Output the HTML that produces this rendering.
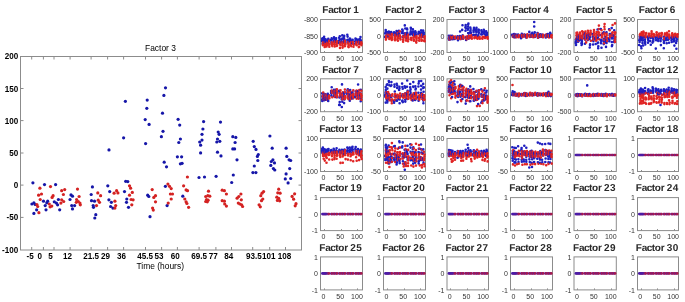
<!DOCTYPE html>
<html><head><meta charset="utf-8"><style>
body{margin:0;background:#fff;}
svg{display:block;filter:blur(0.4px);}
text{font-family:"Liberation Sans",sans-serif;}
.mb{font-size:8.7px;font-weight:bold;fill:#000;}
.mt{font-size:8.8px;fill:#000;}
.st{font-size:10.0px;text-rendering:geometricPrecision;font-weight:bold;fill:#2a2a2a;}
.sl{font-size:7.0px;fill:#333;}
path{stroke-width:2.6px;stroke-linecap:round;fill:none;}
.fb{stroke-width:2.7px;}
</style></head>
<body><svg width="685" height="302" viewBox="0 0 685 302">
<rect width="685" height="302" fill="#fff"/>
<rect x="20.5" y="56.5" width="281.0" height="193.5" fill="none" stroke="#8c8c8c" stroke-width="1"/>
<line x1="31.7" y1="250.0" x2="31.7" y2="247.0" stroke="#8c8c8c"/>
<line x1="31.7" y1="56.5" x2="31.7" y2="59.5" stroke="#8c8c8c"/>
<line x1="43.4" y1="250.0" x2="43.4" y2="247.0" stroke="#8c8c8c"/>
<line x1="43.4" y1="56.5" x2="43.4" y2="59.5" stroke="#8c8c8c"/>
<line x1="54" y1="250.0" x2="54" y2="247.0" stroke="#8c8c8c"/>
<line x1="54" y1="56.5" x2="54" y2="59.5" stroke="#8c8c8c"/>
<line x1="70.1" y1="250.0" x2="70.1" y2="247.0" stroke="#8c8c8c"/>
<line x1="70.1" y1="56.5" x2="70.1" y2="59.5" stroke="#8c8c8c"/>
<line x1="91.1" y1="250.0" x2="91.1" y2="247.0" stroke="#8c8c8c"/>
<line x1="91.1" y1="56.5" x2="91.1" y2="59.5" stroke="#8c8c8c"/>
<line x1="107.6" y1="250.0" x2="107.6" y2="247.0" stroke="#8c8c8c"/>
<line x1="107.6" y1="56.5" x2="107.6" y2="59.5" stroke="#8c8c8c"/>
<line x1="123.6" y1="250.0" x2="123.6" y2="247.0" stroke="#8c8c8c"/>
<line x1="123.6" y1="56.5" x2="123.6" y2="59.5" stroke="#8c8c8c"/>
<line x1="145.5" y1="250.0" x2="145.5" y2="247.0" stroke="#8c8c8c"/>
<line x1="145.5" y1="56.5" x2="145.5" y2="59.5" stroke="#8c8c8c"/>
<line x1="161.6" y1="250.0" x2="161.6" y2="247.0" stroke="#8c8c8c"/>
<line x1="161.6" y1="56.5" x2="161.6" y2="59.5" stroke="#8c8c8c"/>
<line x1="177.4" y1="250.0" x2="177.4" y2="247.0" stroke="#8c8c8c"/>
<line x1="177.4" y1="56.5" x2="177.4" y2="59.5" stroke="#8c8c8c"/>
<line x1="199.1" y1="250.0" x2="199.1" y2="247.0" stroke="#8c8c8c"/>
<line x1="199.1" y1="56.5" x2="199.1" y2="59.5" stroke="#8c8c8c"/>
<line x1="215.9" y1="250.0" x2="215.9" y2="247.0" stroke="#8c8c8c"/>
<line x1="215.9" y1="56.5" x2="215.9" y2="59.5" stroke="#8c8c8c"/>
<line x1="231.5" y1="250.0" x2="231.5" y2="247.0" stroke="#8c8c8c"/>
<line x1="231.5" y1="56.5" x2="231.5" y2="59.5" stroke="#8c8c8c"/>
<line x1="252.7" y1="250.0" x2="252.7" y2="247.0" stroke="#8c8c8c"/>
<line x1="252.7" y1="56.5" x2="252.7" y2="59.5" stroke="#8c8c8c"/>
<line x1="269.7" y1="250.0" x2="269.7" y2="247.0" stroke="#8c8c8c"/>
<line x1="269.7" y1="56.5" x2="269.7" y2="59.5" stroke="#8c8c8c"/>
<line x1="285.5" y1="250.0" x2="285.5" y2="247.0" stroke="#8c8c8c"/>
<line x1="285.5" y1="56.5" x2="285.5" y2="59.5" stroke="#8c8c8c"/>
<line x1="20.5" y1="88.5" x2="23.5" y2="88.5" stroke="#8c8c8c"/>
<line x1="301.5" y1="88.5" x2="298.5" y2="88.5" stroke="#8c8c8c"/>
<line x1="20.5" y1="120.6" x2="23.5" y2="120.6" stroke="#8c8c8c"/>
<line x1="301.5" y1="120.6" x2="298.5" y2="120.6" stroke="#8c8c8c"/>
<line x1="20.5" y1="153.0" x2="23.5" y2="153.0" stroke="#8c8c8c"/>
<line x1="301.5" y1="153.0" x2="298.5" y2="153.0" stroke="#8c8c8c"/>
<line x1="20.5" y1="185.1" x2="23.5" y2="185.1" stroke="#8c8c8c"/>
<line x1="301.5" y1="185.1" x2="298.5" y2="185.1" stroke="#8c8c8c"/>
<line x1="20.5" y1="217.4" x2="23.5" y2="217.4" stroke="#8c8c8c"/>
<line x1="301.5" y1="217.4" x2="298.5" y2="217.4" stroke="#8c8c8c"/>
<text transform="translate(18.20,59.10) scale(0.93,1)" class="mb" text-anchor="end">200</text>
<text transform="translate(18.20,91.50) scale(0.93,1)" class="mb" text-anchor="end">150</text>
<text transform="translate(18.20,123.60) scale(0.93,1)" class="mb" text-anchor="end">100</text>
<text transform="translate(18.20,156.00) scale(0.93,1)" class="mb" text-anchor="end">50</text>
<text transform="translate(18.20,188.10) scale(0.93,1)" class="mb" text-anchor="end">0</text>
<text transform="translate(18.20,220.40) scale(0.93,1)" class="mb" text-anchor="end">-50</text>
<text transform="translate(18.20,252.60) scale(0.93,1)" class="mb" text-anchor="end">-100</text>
<text transform="translate(30.20,259.00) scale(0.93,1)" class="mb" text-anchor="middle">-5</text>
<text transform="translate(39.70,259.00) scale(0.93,1)" class="mb" text-anchor="middle">0</text>
<text transform="translate(50.40,259.00) scale(0.93,1)" class="mb" text-anchor="middle">5</text>
<text transform="translate(67.60,259.00) scale(0.93,1)" class="mb" text-anchor="middle">12</text>
<text transform="translate(91.10,259.00) scale(0.93,1)" class="mb" text-anchor="middle">21.5</text>
<text transform="translate(105.40,259.00) scale(0.93,1)" class="mb" text-anchor="middle">29</text>
<text transform="translate(121.40,259.00) scale(0.93,1)" class="mb" text-anchor="middle">36</text>
<text transform="translate(145.10,259.00) scale(0.93,1)" class="mb" text-anchor="middle">45.5</text>
<text transform="translate(159.10,259.00) scale(0.93,1)" class="mb" text-anchor="middle">53</text>
<text transform="translate(175.20,259.00) scale(0.93,1)" class="mb" text-anchor="middle">60</text>
<text transform="translate(199.20,259.00) scale(0.93,1)" class="mb" text-anchor="middle">69.5</text>
<text transform="translate(213.30,259.00) scale(0.93,1)" class="mb" text-anchor="middle">77</text>
<text transform="translate(228.80,259.00) scale(0.93,1)" class="mb" text-anchor="middle">84</text>
<text transform="translate(253.80,259.00) scale(0.93,1)" class="mb" text-anchor="middle">93.5</text>
<text transform="translate(268.80,259.00) scale(0.93,1)" class="mb" text-anchor="middle">101</text>
<text transform="translate(284.40,259.00) scale(0.93,1)" class="mb" text-anchor="middle">108</text>
<text transform="translate(160.20,269.20) scale(0.96,1)" class="mt" text-anchor="middle">Time (hours)</text>
<text transform="translate(160.50,50.60) scale(0.96,1)" class="mt" text-anchor="middle">Factor 3</text>
<g fill="#1515a8">
<circle cx="32.9" cy="182.8" r="1.6"/>
<circle cx="44.5" cy="184.6" r="1.6"/>
<circle cx="55.6" cy="184.6" r="1.6"/>
<circle cx="31.9" cy="204" r="1.6"/>
<circle cx="33.9" cy="202.8" r="1.6"/>
<circle cx="35.2" cy="204.5" r="1.6"/>
<circle cx="43.5" cy="201.2" r="1.6"/>
<circle cx="46.8" cy="202.8" r="1.6"/>
<circle cx="45.2" cy="205.6" r="1.6"/>
<circle cx="47.7" cy="201.2" r="1.6"/>
<circle cx="54.3" cy="201.8" r="1.6"/>
<circle cx="56.4" cy="203.1" r="1.6"/>
<circle cx="58.4" cy="199.5" r="1.6"/>
<circle cx="57.6" cy="204.8" r="1.6"/>
<circle cx="36.6" cy="209.8" r="1.6"/>
<circle cx="33.9" cy="213.4" r="1.6"/>
<circle cx="46" cy="209.8" r="1.6"/>
<circle cx="59.7" cy="209.8" r="1.6"/>
<circle cx="71" cy="194.9" r="1.6"/>
<circle cx="72.5" cy="196.2" r="1.6"/>
<circle cx="70" cy="199.5" r="1.6"/>
<circle cx="71.7" cy="205.6" r="1.6"/>
<circle cx="74.6" cy="205.6" r="1.6"/>
<circle cx="72.5" cy="208.9" r="1.6"/>
<circle cx="92.4" cy="186.9" r="1.6"/>
<circle cx="91.2" cy="194.5" r="1.6"/>
<circle cx="91.5" cy="200.7" r="1.6"/>
<circle cx="94.5" cy="201.2" r="1.6"/>
<circle cx="93.2" cy="205.6" r="1.6"/>
<circle cx="93.5" cy="207.3" r="1.6"/>
<circle cx="95.8" cy="214.7" r="1.6"/>
<circle cx="94.8" cy="218" r="1.6"/>
<circle cx="107.8" cy="185.8" r="1.6"/>
<circle cx="109.7" cy="191.6" r="1.6"/>
<circle cx="108.9" cy="199.8" r="1.6"/>
<circle cx="111.4" cy="202.3" r="1.6"/>
<circle cx="110.6" cy="206.5" r="1.6"/>
<circle cx="112.9" cy="208.1" r="1.6"/>
<circle cx="125.7" cy="181.3" r="1.6"/>
<circle cx="127.8" cy="181.6" r="1.6"/>
<circle cx="124.5" cy="191.6" r="1.6"/>
<circle cx="126.8" cy="199" r="1.6"/>
<circle cx="126.5" cy="202.3" r="1.6"/>
<circle cx="128.5" cy="207.3" r="1.6"/>
<circle cx="147.7" cy="195.2" r="1.6"/>
<circle cx="148.8" cy="196.5" r="1.6"/>
<circle cx="150" cy="216.7" r="1.6"/>
<circle cx="165.4" cy="186.3" r="1.6"/>
<circle cx="167.1" cy="205.6" r="1.6"/>
<circle cx="182.8" cy="196.2" r="1.6"/>
<circle cx="199" cy="177.5" r="1.6"/>
<circle cx="204.5" cy="177" r="1.6"/>
<circle cx="216.1" cy="176.3" r="1.6"/>
<circle cx="233.3" cy="175" r="1.6"/>
<circle cx="231.7" cy="182.5" r="1.6"/>
<circle cx="254.3" cy="166" r="1.6"/>
<circle cx="252.9" cy="172.6" r="1.6"/>
<circle cx="255.9" cy="172.6" r="1.6"/>
<circle cx="270.8" cy="165.4" r="1.6"/>
<circle cx="273.4" cy="168.6" r="1.6"/>
<circle cx="274.8" cy="170" r="1.6"/>
<circle cx="289.7" cy="168.6" r="1.6"/>
<circle cx="286.1" cy="173.9" r="1.6"/>
<circle cx="285.3" cy="178.9" r="1.6"/>
<circle cx="290.7" cy="178.5" r="1.6"/>
<circle cx="288.1" cy="182.9" r="1.6"/>
<circle cx="165.5" cy="87.8" r="1.6"/>
<circle cx="163.9" cy="95.4" r="1.6"/>
<circle cx="125.4" cy="101.3" r="1.6"/>
<circle cx="147.2" cy="100.1" r="1.6"/>
<circle cx="146.8" cy="108.3" r="1.6"/>
<circle cx="162.5" cy="113.2" r="1.6"/>
<circle cx="145.2" cy="119.6" r="1.6"/>
<circle cx="149.1" cy="124.4" r="1.6"/>
<circle cx="163" cy="131.3" r="1.6"/>
<circle cx="161.4" cy="136.7" r="1.6"/>
<circle cx="123.6" cy="137.8" r="1.6"/>
<circle cx="145.6" cy="143.6" r="1.6"/>
<circle cx="109" cy="149.9" r="1.6"/>
<circle cx="164.2" cy="162.2" r="1.6"/>
<circle cx="166.5" cy="166.8" r="1.6"/>
<circle cx="178.1" cy="119.3" r="1.6"/>
<circle cx="179.7" cy="125.1" r="1.6"/>
<circle cx="180.4" cy="139" r="1.6"/>
<circle cx="178.8" cy="142.5" r="1.6"/>
<circle cx="177.4" cy="156.8" r="1.6"/>
<circle cx="181.6" cy="156.8" r="1.6"/>
<circle cx="180.4" cy="163.8" r="1.6"/>
<circle cx="182.1" cy="163.3" r="1.6"/>
<circle cx="203.6" cy="121.6" r="1.6"/>
<circle cx="202.9" cy="129" r="1.6"/>
<circle cx="202" cy="134.3" r="1.6"/>
<circle cx="202" cy="140.1" r="1.6"/>
<circle cx="199.7" cy="142" r="1.6"/>
<circle cx="200.6" cy="145.2" r="1.6"/>
<circle cx="200.6" cy="152.9" r="1.6"/>
<circle cx="220.5" cy="122.1" r="1.6"/>
<circle cx="218.2" cy="132" r="1.6"/>
<circle cx="219.1" cy="134.3" r="1.6"/>
<circle cx="217.5" cy="139" r="1.6"/>
<circle cx="216.8" cy="142" r="1.6"/>
<circle cx="219.8" cy="141.3" r="1.6"/>
<circle cx="217.5" cy="152.2" r="1.6"/>
<circle cx="221" cy="155.9" r="1.6"/>
<circle cx="232.8" cy="136.7" r="1.6"/>
<circle cx="235.8" cy="137.4" r="1.6"/>
<circle cx="235.1" cy="142.5" r="1.6"/>
<circle cx="232.8" cy="148.9" r="1.6"/>
<circle cx="234.6" cy="148.9" r="1.6"/>
<circle cx="237" cy="159.8" r="1.6"/>
<circle cx="253.2" cy="141.3" r="1.6"/>
<circle cx="254.3" cy="146.6" r="1.6"/>
<circle cx="256" cy="149.4" r="1.6"/>
<circle cx="258.3" cy="154.5" r="1.6"/>
<circle cx="257.4" cy="156.4" r="1.6"/>
<circle cx="257.8" cy="160.5" r="1.6"/>
<circle cx="269.9" cy="136" r="1.6"/>
<circle cx="272.2" cy="148.2" r="1.6"/>
<circle cx="272.9" cy="159.8" r="1.6"/>
<circle cx="271.3" cy="161.5" r="1.6"/>
<circle cx="274.5" cy="162.9" r="1.6"/>
<circle cx="286.1" cy="148.2" r="1.6"/>
<circle cx="286.8" cy="156.4" r="1.6"/>
<circle cx="289.1" cy="159.8" r="1.6"/>
<circle cx="290.7" cy="160.5" r="1.6"/>
</g>
<g fill="#d42222">
<circle cx="39.9" cy="188.2" r="1.6"/>
<circle cx="50.5" cy="186.6" r="1.6"/>
<circle cx="38.6" cy="195.2" r="1.6"/>
<circle cx="41.5" cy="194" r="1.6"/>
<circle cx="40.2" cy="199.5" r="1.6"/>
<circle cx="53.1" cy="195.7" r="1.6"/>
<circle cx="52.1" cy="197.4" r="1.6"/>
<circle cx="36.9" cy="204.5" r="1.6"/>
<circle cx="37.7" cy="206.5" r="1.6"/>
<circle cx="50.1" cy="206.8" r="1.6"/>
<circle cx="51.8" cy="206.1" r="1.6"/>
<circle cx="49.3" cy="204" r="1.6"/>
<circle cx="38.9" cy="212.7" r="1.6"/>
<circle cx="61.7" cy="190.7" r="1.6"/>
<circle cx="64.7" cy="189.6" r="1.6"/>
<circle cx="63.4" cy="194.5" r="1.6"/>
<circle cx="61.7" cy="199.8" r="1.6"/>
<circle cx="63.7" cy="201.5" r="1.6"/>
<circle cx="60.9" cy="203.1" r="1.6"/>
<circle cx="77.5" cy="189.1" r="1.6"/>
<circle cx="79.1" cy="196.5" r="1.6"/>
<circle cx="76.6" cy="199.5" r="1.6"/>
<circle cx="78.3" cy="201.5" r="1.6"/>
<circle cx="79.9" cy="203.1" r="1.6"/>
<circle cx="80.3" cy="204.8" r="1.6"/>
<circle cx="76.3" cy="202.3" r="1.6"/>
<circle cx="97.8" cy="192.9" r="1.6"/>
<circle cx="100.6" cy="195.7" r="1.6"/>
<circle cx="98.2" cy="200.2" r="1.6"/>
<circle cx="99.5" cy="202.3" r="1.6"/>
<circle cx="96.5" cy="205.6" r="1.6"/>
<circle cx="114.1" cy="193.2" r="1.6"/>
<circle cx="116.6" cy="190.7" r="1.6"/>
<circle cx="117.9" cy="192.9" r="1.6"/>
<circle cx="114.9" cy="201.2" r="1.6"/>
<circle cx="115.7" cy="205.6" r="1.6"/>
<circle cx="114.9" cy="208.1" r="1.6"/>
<circle cx="129.5" cy="185.8" r="1.6"/>
<circle cx="130.6" cy="188.2" r="1.6"/>
<circle cx="132.3" cy="192.4" r="1.6"/>
<circle cx="129.5" cy="195.2" r="1.6"/>
<circle cx="131.1" cy="199.5" r="1.6"/>
<circle cx="133.1" cy="199.8" r="1.6"/>
<circle cx="131.8" cy="204.8" r="1.6"/>
<circle cx="152.2" cy="189.6" r="1.6"/>
<circle cx="155.5" cy="195.7" r="1.6"/>
<circle cx="153.8" cy="197.4" r="1.6"/>
<circle cx="155.5" cy="201.8" r="1.6"/>
<circle cx="152.6" cy="208.1" r="1.6"/>
<circle cx="153.3" cy="210.1" r="1.6"/>
<circle cx="167.9" cy="184.1" r="1.6"/>
<circle cx="169.5" cy="186.3" r="1.6"/>
<circle cx="171.2" cy="188.6" r="1.6"/>
<circle cx="170.4" cy="194" r="1.6"/>
<circle cx="172.5" cy="194" r="1.6"/>
<circle cx="171.2" cy="199" r="1.6"/>
<circle cx="168.2" cy="203.1" r="1.6"/>
<circle cx="187.4" cy="177" r="1.6"/>
<circle cx="183.6" cy="185.8" r="1.6"/>
<circle cx="186.1" cy="189.9" r="1.6"/>
<circle cx="184.8" cy="199" r="1.6"/>
<circle cx="186.1" cy="201.8" r="1.6"/>
<circle cx="186.9" cy="203.5" r="1.6"/>
<circle cx="188.6" cy="207.3" r="1.6"/>
<circle cx="187.5" cy="190.7" r="1.6"/>
<circle cx="208.5" cy="191.2" r="1.6"/>
<circle cx="205.7" cy="196.5" r="1.6"/>
<circle cx="207.8" cy="195.7" r="1.6"/>
<circle cx="209.8" cy="196.2" r="1.6"/>
<circle cx="206.5" cy="199.5" r="1.6"/>
<circle cx="208.1" cy="200.2" r="1.6"/>
<circle cx="205.7" cy="201.5" r="1.6"/>
<circle cx="207.3" cy="201.8" r="1.6"/>
<circle cx="222.2" cy="190.2" r="1.6"/>
<circle cx="224.4" cy="190.7" r="1.6"/>
<circle cx="226.4" cy="194" r="1.6"/>
<circle cx="222.2" cy="200.7" r="1.6"/>
<circle cx="224.4" cy="201.2" r="1.6"/>
<circle cx="224.7" cy="204" r="1.6"/>
<circle cx="226.4" cy="206.1" r="1.6"/>
<circle cx="240.9" cy="194" r="1.6"/>
<circle cx="238.8" cy="196.5" r="1.6"/>
<circle cx="237.1" cy="198.2" r="1.6"/>
<circle cx="241.3" cy="199.8" r="1.6"/>
<circle cx="238.3" cy="203.1" r="1.6"/>
<circle cx="239.9" cy="204" r="1.6"/>
<circle cx="241.6" cy="204.8" r="1.6"/>
<circle cx="242.6" cy="206.5" r="1.6"/>
<circle cx="263.6" cy="191.6" r="1.6"/>
<circle cx="262" cy="193.2" r="1.6"/>
<circle cx="260.8" cy="195.7" r="1.6"/>
<circle cx="262.8" cy="199" r="1.6"/>
<circle cx="261.5" cy="200.7" r="1.6"/>
<circle cx="259.1" cy="204.8" r="1.6"/>
<circle cx="260.3" cy="206.8" r="1.6"/>
<circle cx="278.7" cy="189.2" r="1.6"/>
<circle cx="277.8" cy="192.8" r="1.6"/>
<circle cx="280.1" cy="193.2" r="1.6"/>
<circle cx="276.8" cy="197.2" r="1.6"/>
<circle cx="278.7" cy="198.4" r="1.6"/>
<circle cx="277.4" cy="200.4" r="1.6"/>
<circle cx="279.7" cy="200.8" r="1.6"/>
<circle cx="294.6" cy="193.8" r="1.6"/>
<circle cx="292.1" cy="196.4" r="1.6"/>
<circle cx="293.6" cy="199.2" r="1.6"/>
<circle cx="295.2" cy="205.8" r="1.6"/>
<circle cx="296" cy="203.7" r="1.6"/>
</g>
<text x="322.35 328.35 333.35 338.35 341.35 347.35 351.35 353.35" y="13.20" class="st">Factor 1</text>
<rect x="320.5" y="19.5" width="42.00" height="33.00" fill="none" stroke="#8c8c8c"/>
<text transform="translate(317.90,22.10) scale(1.0,1)" class="sl" text-anchor="end">-800</text>
<text transform="translate(317.90,38.60) scale(1.0,1)" class="sl" text-anchor="end">-850</text>
<text transform="translate(317.90,55.10) scale(1.0,1)" class="sl" text-anchor="end">-900</text>
<text transform="translate(323.36,61.30) scale(1.0,1)" class="sl" text-anchor="middle">0</text>
<line x1="324.5" y1="52.5" x2="324.5" y2="51.0" stroke="#8c8c8c"/>
<text transform="translate(340.16,61.30) scale(1.0,1)" class="sl" text-anchor="middle">50</text>
<line x1="341.5" y1="52.5" x2="341.5" y2="51.0" stroke="#8c8c8c"/>
<text transform="translate(356.96,61.30) scale(1.0,1)" class="sl" text-anchor="middle">100</text>
<line x1="357.5" y1="52.5" x2="357.5" y2="51.0" stroke="#8c8c8c"/>
<path d="M322.9 38.9h0M322.2 38.8h0M322.2 38.9h0M322.7 42.5h0M322.6 43.8h0M322.5 40.6h0M322.1 40.9h0M322.6 38.2h0" stroke="#1e1ec0"/>
<path d="M323.3 44.5h0M323.3 43.9h0M323.1 42.3h0M322.9 45.3h0M323.4 43.6h0M322.9 44.2h0M323.3 44.9h0M323.3 44.9h0" stroke="#e02424"/>
<path d="M324.0 39.7h0M324.4 43.0h0M323.8 40.6h0M324.1 38.5h0M323.9 40.5h0M324.1 36.9h0M324.0 38.9h0M323.9 38.8h0" stroke="#1e1ec0"/>
<path d="M325.4 42.8h0M324.8 43.9h0M325.2 45.1h0M325.4 45.5h0M325.3 44.0h0M324.6 44.7h0M324.6 42.4h0M324.7 46.9h0" stroke="#e02424"/>
<path d="M326.1 40.9h0M325.6 39.2h0M325.5 41.8h0M326.3 40.7h0M325.6 39.6h0M325.5 41.6h0M326.1 40.7h0M325.9 40.4h0" stroke="#1e1ec0"/>
<path d="M326.4 44.3h0M326.9 43.5h0M326.6 45.4h0M326.9 45.0h0M326.6 46.5h0M327.1 42.5h0M326.5 45.0h0M326.5 46.5h0" stroke="#e02424"/>
<path d="M328.2 40.0h0M327.9 41.5h0M328.0 39.9h0M328.6 39.6h0M327.9 40.2h0M328.4 39.7h0M328.0 40.3h0M328.3 38.9h0" stroke="#1e1ec0"/>
<path d="M329.1 40.9h0M329.4 44.6h0M329.2 44.4h0M329.3 44.8h0M328.6 42.9h0M328.8 44.9h0M328.7 44.8h0M329.3 46.7h0" stroke="#e02424"/>
<path d="M331.8 39.7h0M331.4 41.5h0M331.5 41.1h0M331.8 38.7h0M331.1 39.9h0M331.6 43.3h0M331.4 42.3h0M331.7 38.4h0" stroke="#1e1ec0"/>
<path d="M331.9 43.3h0M331.8 44.1h0M331.9 45.1h0M332.3 46.1h0M331.8 42.4h0M332.6 44.3h0M332.4 44.2h0M332.4 45.7h0" stroke="#e02424"/>
<path d="M334.3 39.9h0M334.2 38.3h0M334.0 37.9h0M334.0 38.0h0M334.2 41.7h0M334.0 37.3h0M334.1 41.9h0M334.1 40.0h0" stroke="#1e1ec0"/>
<path d="M334.6 43.3h0M334.6 42.9h0M334.8 44.7h0M334.3 42.7h0M334.9 41.4h0M334.7 42.4h0M334.3 44.3h0M334.7 46.5h0" stroke="#e02424"/>
<path d="M336.1 38.3h0M336.0 39.9h0M336.2 42.1h0M336.0 39.6h0M336.6 41.5h0M336.0 39.5h0M336.5 41.8h0M336.1 40.4h0" stroke="#1e1ec0"/>
<path d="M336.6 42.1h0M336.8 45.9h0M337.4 42.9h0M337.0 45.7h0M337.0 41.3h0M337.1 43.4h0M337.5 41.8h0M336.8 44.8h0" stroke="#e02424"/>
<path d="M339.8 36.2h0M339.1 37.7h0M339.5 42.5h0M339.2 40.6h0M339.2 42.9h0M339.4 42.3h0M339.9 39.2h0M339.6 41.0h0" stroke="#1e1ec0"/>
<path d="M340.7 44.9h0M340.6 43.5h0M340.1 44.5h0M340.2 43.8h0M339.9 44.4h0M340.4 44.5h0M340.4 42.0h0M340.0 47.9h0" stroke="#e02424"/>
<path d="M342.2 38.9h0M342.3 35.4h0M341.7 41.9h0M341.9 39.6h0M342.4 38.5h0M342.2 38.9h0M341.7 39.8h0M342.2 38.9h0" stroke="#1e1ec0"/>
<path d="M342.8 43.8h0M342.4 42.6h0M342.7 45.9h0M342.8 42.0h0M342.7 45.7h0M343.1 43.5h0M343.1 42.7h0M342.6 47.6h0" stroke="#e02424"/>
<path d="M344.2 35.9h0M343.9 37.7h0M344.1 39.0h0M344.0 41.4h0M344.5 39.8h0M344.0 38.0h0M344.5 40.6h0M344.2 40.3h0" stroke="#1e1ec0"/>
<path d="M344.8 46.2h0M345.4 44.6h0M345.0 46.1h0M345.1 44.2h0M345.5 43.6h0M344.9 40.8h0M345.3 42.9h0M345.0 41.5h0" stroke="#e02424"/>
<path d="M347.3 34.8h0M347.6 36.6h0M347.9 40.1h0M347.6 40.3h0M347.6 41.9h0M347.3 40.1h0M347.8 39.7h0M347.6 41.5h0" stroke="#1e1ec0"/>
<path d="M348.6 45.6h0M348.3 43.7h0M348.3 43.8h0M348.3 42.1h0M348.2 43.8h0M348.3 46.8h0M348.7 45.0h0M348.7 47.1h0" stroke="#e02424"/>
<path d="M349.8 38.5h0M350.2 38.8h0M350.1 40.4h0M350.0 41.0h0M349.8 39.1h0M350.1 39.2h0M349.8 38.5h0M349.8 41.5h0" stroke="#1e1ec0"/>
<path d="M351.0 45.6h0M350.5 43.5h0M350.6 43.3h0M350.7 45.5h0M350.6 44.8h0M351.1 42.6h0M351.1 42.3h0M351.3 46.3h0" stroke="#e02424"/>
<path d="M352.2 43.2h0M352.7 40.0h0M352.3 41.1h0M352.6 39.8h0M352.4 40.6h0M352.1 40.4h0M352.4 40.5h0M352.2 40.7h0" stroke="#1e1ec0"/>
<path d="M353.4 44.5h0M353.1 44.0h0M353.4 44.2h0M353.6 44.9h0M353.4 44.6h0M352.8 42.0h0M353.2 44.3h0M353.5 46.8h0" stroke="#e02424"/>
<path d="M355.3 43.5h0M355.8 41.9h0M355.5 39.0h0M355.9 42.5h0M355.5 38.5h0M355.2 41.3h0M355.9 41.1h0M356.0 39.0h0" stroke="#1e1ec0"/>
<path d="M356.0 43.8h0M356.2 43.6h0M356.5 44.3h0M356.1 44.2h0M356.1 44.6h0M356.7 45.3h0M356.5 42.1h0M356.7 45.0h0" stroke="#e02424"/>
<path d="M358.3 40.4h0M358.4 41.0h0M358.3 39.7h0M358.0 40.4h0M358.2 41.7h0M358.3 40.9h0M358.1 39.6h0M358.3 42.4h0" stroke="#1e1ec0"/>
<path d="M359.1 46.9h0M359.2 42.8h0M358.8 41.9h0M358.9 43.5h0M359.0 44.1h0M358.8 47.1h0M358.8 42.6h0M359.3 44.0h0" stroke="#e02424"/>
<path d="M360.7 42.3h0M360.2 40.2h0M360.8 41.3h0M360.5 37.1h0M360.1 39.0h0M360.8 40.5h0M360.5 39.7h0M360.5 43.4h0" stroke="#1e1ec0"/>
<path d="M361.0 44.3h0M361.1 44.2h0M361.3 44.6h0M361.7 43.8h0M361.3 42.2h0M361.0 43.6h0M361.4 44.1h0M361.3 45.1h0" stroke="#e02424"/>
<text x="385.35 391.35 396.35 401.35 404.35 410.35 414.35 416.35" y="13.20" class="st">Factor 2</text>
<rect x="383.5" y="19.5" width="42.00" height="33.00" fill="none" stroke="#8c8c8c"/>
<text transform="translate(380.90,22.10) scale(1.0,1)" class="sl" text-anchor="end">500</text>
<text transform="translate(380.90,38.60) scale(1.0,1)" class="sl" text-anchor="end">0</text>
<text transform="translate(380.90,55.10) scale(1.0,1)" class="sl" text-anchor="end">-500</text>
<text transform="translate(386.36,61.30) scale(1.0,1)" class="sl" text-anchor="middle">0</text>
<line x1="387.5" y1="52.5" x2="387.5" y2="51.0" stroke="#8c8c8c"/>
<text transform="translate(403.16,61.30) scale(1.0,1)" class="sl" text-anchor="middle">50</text>
<line x1="404.5" y1="52.5" x2="404.5" y2="51.0" stroke="#8c8c8c"/>
<text transform="translate(419.96,61.30) scale(1.0,1)" class="sl" text-anchor="middle">100</text>
<line x1="420.5" y1="52.5" x2="420.5" y2="51.0" stroke="#8c8c8c"/>
<path d="M385.6 32.7h0M385.3 33.0h0M385.2 33.5h0M385.7 31.0h0M385.1 37.1h0M385.9 32.0h0M385.7 30.0h0M385.6 36.2h0" stroke="#1e1ec0"/>
<path d="M386.3 37.7h0M385.9 39.6h0M386.5 37.1h0M385.9 39.2h0M386.6 36.2h0M386.1 37.5h0M386.3 35.8h0M386.0 36.0h0" stroke="#e02424"/>
<path d="M386.9 32.3h0M387.1 32.7h0M387.2 32.4h0M387.6 33.8h0M386.9 33.4h0M387.1 33.9h0M387.3 32.7h0M387.0 33.5h0" stroke="#1e1ec0"/>
<path d="M387.6 35.1h0M388.1 36.5h0M387.9 37.1h0M388.4 34.2h0M388.3 35.2h0M387.8 33.9h0M388.1 34.3h0M388.4 35.4h0" stroke="#e02424"/>
<path d="M388.5 36.2h0M389.0 33.3h0M388.5 32.9h0M388.8 31.5h0M389.1 33.8h0M389.1 34.2h0M388.8 33.6h0M389.0 34.0h0" stroke="#1e1ec0"/>
<path d="M389.3 34.8h0M389.3 38.9h0M389.8 36.6h0M389.6 35.9h0M389.9 38.6h0M389.8 37.3h0M389.4 35.5h0M390.1 35.0h0" stroke="#e02424"/>
<path d="M391.4 32.6h0M390.9 32.2h0M391.3 34.1h0M391.4 33.0h0M390.9 34.0h0M391.0 33.1h0M391.1 32.0h0M391.6 33.0h0" stroke="#1e1ec0"/>
<path d="M392.4 39.2h0M392.3 37.8h0M392.0 37.4h0M391.6 35.5h0M391.8 39.9h0M391.7 34.0h0M391.7 39.5h0M392.4 34.5h0" stroke="#e02424"/>
<path d="M394.7 34.9h0M394.8 32.9h0M394.3 33.5h0M394.1 32.3h0M394.7 34.0h0M394.7 34.6h0M394.4 35.3h0M394.7 35.6h0" stroke="#1e1ec0"/>
<path d="M395.0 36.1h0M395.5 39.0h0M395.1 39.1h0M395.2 38.4h0M395.2 34.8h0M395.0 40.2h0M395.3 37.5h0M394.8 36.6h0" stroke="#e02424"/>
<path d="M396.6 31.0h0M396.6 33.2h0M397.0 35.0h0M396.9 34.0h0M397.3 32.4h0M397.1 31.6h0M397.2 34.8h0M397.2 35.1h0" stroke="#1e1ec0"/>
<path d="M397.3 36.3h0M397.8 33.1h0M397.5 39.9h0M397.9 40.7h0M397.9 38.5h0M397.9 37.4h0M397.9 36.3h0M398.1 34.5h0" stroke="#e02424"/>
<path d="M399.3 35.6h0M399.2 34.0h0M399.2 33.2h0M399.1 33.9h0M399.0 34.7h0M398.9 33.7h0M398.9 30.7h0M399.1 33.9h0" stroke="#1e1ec0"/>
<path d="M400.2 36.8h0M399.8 35.5h0M399.8 31.4h0M400.5 39.5h0M400.2 38.1h0M400.0 36.3h0M399.7 35.3h0M400.3 38.8h0" stroke="#e02424"/>
<path d="M402.2 29.5h0M402.7 30.8h0M402.8 33.3h0M402.5 29.9h0M402.7 37.0h0M402.3 31.7h0M402.1 32.9h0M402.6 31.6h0" stroke="#1e1ec0"/>
<path d="M403.5 36.9h0M403.2 36.7h0M403.1 41.8h0M403.0 36.2h0M403.2 39.2h0M403.7 37.3h0M403.2 36.4h0M403.3 40.2h0" stroke="#e02424"/>
<path d="M405.3 28.5h0M404.8 25.4h0M404.6 35.0h0M404.6 35.1h0M405.0 33.4h0M405.3 35.4h0M405.3 33.9h0M405.0 34.0h0" stroke="#1e1ec0"/>
<path d="M405.8 38.8h0M405.8 33.7h0M406.1 40.6h0M405.6 34.8h0M405.7 36.9h0M405.6 37.1h0M405.4 35.8h0M405.8 36.6h0" stroke="#e02424"/>
<path d="M407.0 28.5h0M407.2 29.5h0M407.3 34.7h0M406.9 34.5h0M407.4 33.2h0M407.6 38.1h0M407.2 32.6h0M407.2 33.1h0" stroke="#1e1ec0"/>
<path d="M408.0 41.2h0M408.3 34.9h0M408.5 39.2h0M408.0 35.4h0M408.1 36.6h0M407.9 38.4h0M408.2 36.9h0M408.3 39.7h0" stroke="#e02424"/>
<path d="M410.9 28.8h0M410.8 27.7h0M410.7 33.9h0M410.8 34.1h0M410.2 34.4h0M410.9 33.0h0M410.8 31.3h0M410.5 32.5h0" stroke="#1e1ec0"/>
<path d="M411.4 39.5h0M411.0 37.9h0M411.5 38.9h0M411.4 40.0h0M411.0 38.9h0M411.3 38.6h0M411.6 38.0h0M410.9 39.3h0" stroke="#e02424"/>
<path d="M413.2 31.6h0M412.9 29.2h0M413.1 34.6h0M412.8 34.4h0M412.9 35.1h0M413.5 35.0h0M412.8 32.9h0M412.7 32.8h0" stroke="#1e1ec0"/>
<path d="M413.9 40.1h0M414.0 40.1h0M414.1 39.5h0M414.1 35.9h0M413.8 36.9h0M413.9 40.8h0M414.2 34.6h0M413.6 37.4h0" stroke="#e02424"/>
<path d="M415.3 31.4h0M415.1 32.4h0M415.4 35.6h0M415.7 32.4h0M415.1 34.3h0M415.2 32.7h0M415.4 34.0h0M415.8 34.4h0" stroke="#1e1ec0"/>
<path d="M416.6 37.1h0M416.6 40.2h0M416.2 41.8h0M416.6 37.9h0M416.5 36.0h0M416.3 42.6h0M415.8 37.4h0M416.6 38.8h0" stroke="#e02424"/>
<path d="M418.7 32.8h0M418.9 32.0h0M418.3 34.0h0M418.6 32.7h0M418.7 32.3h0M419.0 33.1h0M418.7 32.0h0M418.6 33.6h0" stroke="#1e1ec0"/>
<path d="M419.6 37.2h0M419.0 40.5h0M419.3 40.8h0M419.2 38.1h0M419.0 37.9h0M419.5 37.7h0M419.6 39.1h0M419.8 35.3h0" stroke="#e02424"/>
<path d="M421.0 35.1h0M421.1 30.5h0M421.0 30.5h0M421.3 33.0h0M421.2 33.5h0M421.1 34.7h0M421.1 35.7h0M420.9 33.0h0" stroke="#1e1ec0"/>
<path d="M421.8 35.5h0M421.9 37.1h0M421.5 40.6h0M422.0 34.6h0M421.5 37.1h0M421.8 40.4h0M421.7 39.8h0M421.5 40.7h0" stroke="#e02424"/>
<path d="M423.6 36.8h0M423.2 31.1h0M423.1 30.5h0M423.8 34.8h0M423.3 33.5h0M423.4 35.7h0M423.1 33.1h0M423.8 32.9h0" stroke="#1e1ec0"/>
<path d="M424.6 36.2h0M424.5 40.7h0M424.5 37.2h0M423.8 40.7h0M423.9 40.7h0M424.1 36.7h0M424.6 38.7h0M424.7 41.2h0" stroke="#e02424"/>
<text x="448.60 454.60 459.60 464.60 467.60 473.60 477.60 479.60" y="13.20" class="st">Factor 3</text>
<rect x="447" y="19.5" width="41.50" height="33.00" fill="none" stroke="#8c8c8c"/>
<text transform="translate(444.40,22.10) scale(1.0,1)" class="sl" text-anchor="end">200</text>
<text transform="translate(444.40,38.60) scale(1.0,1)" class="sl" text-anchor="end">0</text>
<text transform="translate(444.40,55.10) scale(1.0,1)" class="sl" text-anchor="end">-200</text>
<text transform="translate(449.82,61.30) scale(1.0,1)" class="sl" text-anchor="middle">0</text>
<line x1="450.5" y1="52.5" x2="450.5" y2="51.0" stroke="#8c8c8c"/>
<text transform="translate(466.42,61.30) scale(1.0,1)" class="sl" text-anchor="middle">50</text>
<line x1="467.5" y1="52.5" x2="467.5" y2="51.0" stroke="#8c8c8c"/>
<text transform="translate(483.02,61.30) scale(1.0,1)" class="sl" text-anchor="middle">100</text>
<line x1="484.5" y1="52.5" x2="484.5" y2="51.0" stroke="#8c8c8c"/>
<path d="M448.8 35.7h0M448.7 38.4h0M449.0 38.3h0M449.2 38.5h0M449.4 39.2h0M449.0 39.6h0" stroke="#1e1ec0"/>
<path d="M449.9 36.4h0M449.7 37.3h0M450.1 37.1h0M449.9 37.8h0M449.4 38.5h0M449.5 38.7h0M449.7 39.5h0" stroke="#e02424"/>
<path d="M450.5 35.9h0M450.4 38.1h0M450.9 38.3h0M450.6 38.6h0M451.0 38.1h0M450.8 39.2h0" stroke="#1e1ec0"/>
<path d="M451.4 36.2h0M451.7 37.6h0M451.4 38.8h0M451.6 38.7h0M451.3 38.4h0" stroke="#e02424"/>
<path d="M452.2 35.9h0M452.0 38.1h0M452.3 38.3h0M452.6 37.8h0M452.5 38.5h0M452.8 39.2h0" stroke="#1e1ec0"/>
<path d="M451.8 37.4h0M453.1 36.7h0M453.5 36.6h0M453.3 37.2h0M453.1 37.9h0M453.4 38.1h0M453.0 38.3h0" stroke="#e02424"/>
<path d="M454.5 37.2h0M454.7 37.4h0M454.3 37.8h0M454.6 38.6h0M455.0 38.6h0M454.7 39.0h0" stroke="#1e1ec0"/>
<path d="M455.4 36.5h0M455.7 37.5h0M455.3 37.8h0M455.5 38.1h0M455.8 38.3h0M455.8 38.5h0M455.2 38.2h0" stroke="#e02424"/>
<path d="M457.6 36.2h0M457.4 37.2h0M457.5 38.0h0M457.9 38.1h0M457.7 38.6h0M457.8 38.8h0M458.1 39.8h0M458.0 40.2h0" stroke="#1e1ec0"/>
<path d="M458.4 37.0h0M458.8 37.4h0M458.5 37.9h0M458.7 38.2h0M458.2 38.6h0" stroke="#e02424"/>
<path d="M459.9 36.1h0M460.2 36.8h0M460.1 37.9h0M460.4 38.2h0M460.3 38.7h0M460.6 38.9h0M460.1 31.5h0" stroke="#1e1ec0"/>
<path d="M460.8 37.0h0M461.2 36.7h0M461.4 37.0h0M460.9 38.1h0M461.1 38.6h0M460.9 38.9h0" stroke="#e02424"/>
<path d="M462.5 35.5h0M462.8 35.5h0M462.4 36.8h0M462.7 37.8h0M462.7 38.2h0M463.0 38.8h0M462.5 25.2h0M462.2 29.9h0" stroke="#1e1ec0"/>
<path d="M463.1 36.1h0M463.3 36.4h0M463.5 36.9h0M463.1 37.3h0M463.3 37.8h0M463.6 37.9h0M463.4 38.5h0" stroke="#e02424"/>
<path d="M465.8 37.3h0M465.9 37.5h0M466.1 40.0h0M465.7 25.1h0M465.7 26.1h0M465.4 27.6h0M466.0 28.2h0M465.5 30.7h0" stroke="#1e1ec0"/>
<path d="M466.5 36.6h0M466.9 37.4h0M466.7 37.6h0M466.9 38.1h0M466.5 38.9h0M466.6 39.2h0" stroke="#e02424"/>
<path d="M468.4 36.1h0M468.7 38.6h0M468.4 23.5h0M468.2 24.5h0M468.0 26.8h0M468.0 29.1h0M467.8 29.8h0M468.2 33.1h0M468.6 33.6h0" stroke="#1e1ec0"/>
<path d="M468.8 35.9h0M469.0 36.1h0M469.3 36.4h0M469.1 37.1h0M469.4 37.1h0M469.3 37.8h0M468.8 38.3h0" stroke="#e02424"/>
<path d="M471.0 37.4h0M470.3 27.6h0M470.5 28.3h0M470.6 30.1h0M470.4 30.5h0M470.2 32.4h0M470.8 32.4h0M470.6 33.3h0M470.9 33.2h0" stroke="#1e1ec0"/>
<path d="M471.6 35.0h0M471.1 36.1h0M471.5 36.6h0M471.3 37.8h0M471.5 38.1h0M471.6 38.4h0M471.8 38.8h0M471.7 36.7h0" stroke="#e02424"/>
<path d="M473.4 35.0h0M474.2 35.0h0M474.0 27.8h0M473.9 28.8h0M473.8 29.5h0M473.8 30.2h0M473.5 30.5h0M473.6 30.9h0M473.6 31.9h0" stroke="#1e1ec0"/>
<path d="M474.8 36.8h0M474.4 37.5h0M474.7 37.4h0M475.0 37.4h0M474.5 37.8h0M474.7 37.9h0M474.4 38.1h0M474.6 38.1h0" stroke="#e02424"/>
<path d="M475.9 34.9h0M476.5 27.9h0M476.2 29.2h0M476.3 29.5h0M476.1 30.1h0M476.0 30.5h0M476.4 30.4h0M476.1 31.8h0M476.6 32.2h0" stroke="#1e1ec0"/>
<path d="M476.8 36.6h0M477.1 36.7h0M477.4 37.1h0M476.8 38.0h0M477.1 38.1h0M477.2 38.4h0M477.4 38.7h0" stroke="#e02424"/>
<path d="M478.4 34.7h0M478.2 35.7h0M478.4 29.8h0M478.8 29.9h0M478.7 30.5h0M478.4 31.3h0M478.6 31.3h0M479.0 32.7h0" stroke="#1e1ec0"/>
<path d="M479.6 37.1h0M479.2 37.5h0M479.0 37.7h0M479.6 37.9h0M479.2 38.3h0M479.4 38.4h0M479.7 38.5h0M479.8 38.7h0" stroke="#e02424"/>
<path d="M481.5 33.5h0M481.3 34.4h0M481.8 34.4h0M481.4 30.4h0M481.5 31.1h0M481.8 31.4h0M482.1 32.1h0M482.0 32.3h0M482.0 32.8h0" stroke="#1e1ec0"/>
<path d="M482.9 36.8h0M482.7 37.0h0M482.5 37.4h0M482.8 37.8h0M482.6 38.0h0M482.2 38.5h0M482.4 38.8h0" stroke="#e02424"/>
<path d="M484.0 33.5h0M484.4 33.9h0M484.6 34.1h0M483.8 29.7h0M484.2 31.3h0M484.3 32.7h0M484.0 33.0h0M484.5 33.1h0" stroke="#1e1ec0"/>
<path d="M485.1 36.5h0M485.0 37.0h0M485.3 37.0h0M484.9 37.5h0M485.1 37.7h0M484.9 38.0h0M485.3 38.0h0" stroke="#e02424"/>
<path d="M486.8 33.9h0M486.2 34.6h0M486.1 35.2h0M486.9 35.1h0M486.5 35.7h0M486.2 31.3h0M486.3 32.3h0M486.7 32.7h0M486.9 32.8h0" stroke="#1e1ec0"/>
<path d="M487.5 37.1h0M487.1 37.4h0M487.3 37.8h0M487.6 38.6h0M487.7 38.4h0" stroke="#e02424"/>
<text x="512.35 518.35 523.35 528.35 531.35 537.35 541.35 543.35" y="13.20" class="st">Factor 4</text>
<rect x="510.5" y="19.5" width="42.00" height="33.00" fill="none" stroke="#8c8c8c"/>
<text transform="translate(507.90,22.10) scale(1.0,1)" class="sl" text-anchor="end">1000</text>
<text transform="translate(507.90,38.60) scale(1.0,1)" class="sl" text-anchor="end">0</text>
<text transform="translate(507.90,55.10) scale(1.0,1)" class="sl" text-anchor="end">-1000</text>
<text transform="translate(513.36,61.30) scale(1.0,1)" class="sl" text-anchor="middle">0</text>
<line x1="514.5" y1="52.5" x2="514.5" y2="51.0" stroke="#8c8c8c"/>
<text transform="translate(530.16,61.30) scale(1.0,1)" class="sl" text-anchor="middle">50</text>
<line x1="531.5" y1="52.5" x2="531.5" y2="51.0" stroke="#8c8c8c"/>
<text transform="translate(546.96,61.30) scale(1.0,1)" class="sl" text-anchor="middle">100</text>
<line x1="547.5" y1="52.5" x2="547.5" y2="51.0" stroke="#8c8c8c"/>
<path d="M512.6 36.0h0M512.6 36.1h0M512.1 34.9h0M512.3 35.2h0M512.2 34.9h0M512.4 35.7h0M512.7 36.4h0M512.4 35.6h0" stroke="#1e1ec0"/>
<path d="M513.7 37.1h0M512.9 35.7h0M513.2 36.4h0M513.0 36.8h0M513.4 36.6h0M513.2 36.4h0M513.3 36.9h0M513.2 36.0h0" stroke="#e02424"/>
<path d="M513.8 36.5h0M514.0 34.8h0M514.5 36.5h0M513.9 35.6h0M514.1 34.0h0M514.3 37.1h0M514.0 34.9h0M514.5 36.3h0" stroke="#1e1ec0"/>
<path d="M515.0 36.4h0M514.8 35.7h0M515.0 36.2h0M514.9 37.1h0M515.0 34.9h0M515.1 35.7h0M515.3 36.5h0M514.6 35.6h0" stroke="#e02424"/>
<path d="M515.7 36.4h0M515.6 36.2h0M515.4 35.4h0M515.9 35.2h0M515.9 34.5h0M515.7 36.5h0M516.0 35.1h0M515.6 37.3h0" stroke="#1e1ec0"/>
<path d="M516.5 36.7h0M516.4 36.0h0M516.7 35.6h0M516.8 36.4h0M516.9 35.8h0M517.0 36.0h0M516.8 37.1h0M516.8 35.8h0" stroke="#e02424"/>
<path d="M518.1 34.5h0M518.0 35.7h0M518.2 35.4h0M517.9 36.0h0M518.4 36.4h0M518.5 36.6h0M518.5 35.7h0M518.4 35.6h0" stroke="#1e1ec0"/>
<path d="M518.8 36.2h0M518.8 35.2h0M518.7 36.5h0M519.2 36.2h0M519.0 36.6h0M518.6 37.3h0M518.9 36.9h0M518.8 35.6h0" stroke="#e02424"/>
<path d="M521.7 34.9h0M521.6 34.8h0M521.1 36.5h0M521.1 35.4h0M521.8 33.9h0M521.5 35.3h0M521.0 38.2h0M521.2 35.9h0" stroke="#1e1ec0"/>
<path d="M522.5 37.1h0M522.3 35.8h0M522.1 35.0h0M521.8 35.7h0M521.9 35.2h0M522.1 35.4h0M522.4 35.2h0M522.4 36.2h0" stroke="#e02424"/>
<path d="M523.8 36.2h0M523.8 34.7h0M523.7 36.2h0M524.3 34.6h0M524.2 35.3h0M524.3 35.9h0M523.8 35.2h0M524.0 35.2h0" stroke="#1e1ec0"/>
<path d="M524.3 36.1h0M524.5 35.9h0M524.6 34.8h0M524.6 35.3h0M524.4 35.3h0M524.5 36.4h0M524.3 36.1h0M524.5 35.9h0" stroke="#e02424"/>
<path d="M526.2 35.8h0M526.6 36.0h0M526.3 36.2h0M526.3 36.2h0M525.9 36.0h0M526.1 35.0h0M526.2 37.6h0M525.9 35.6h0" stroke="#1e1ec0"/>
<path d="M526.9 36.9h0M526.9 36.2h0M527.5 36.3h0M527.0 37.4h0M527.1 35.4h0M527.4 35.3h0M527.4 34.4h0M526.8 35.7h0" stroke="#e02424"/>
<path d="M529.3 31.9h0M529.9 36.9h0M529.7 35.7h0M529.7 35.4h0M529.8 36.7h0M529.8 35.7h0M529.4 35.0h0M529.4 35.4h0" stroke="#1e1ec0"/>
<path d="M530.3 36.3h0M529.8 36.6h0M530.5 34.8h0M530.5 35.1h0M530.2 36.4h0M529.8 36.0h0M530.1 35.7h0M530.4 35.4h0" stroke="#e02424"/>
<path d="M532.3 32.9h0M532.2 36.4h0M532.1 35.7h0M531.9 36.1h0M531.9 36.8h0M531.7 33.5h0M531.7 35.1h0M531.8 33.6h0" stroke="#1e1ec0"/>
<path d="M532.6 35.8h0M532.5 36.5h0M532.5 35.2h0M532.7 36.3h0M532.6 36.1h0M533.1 35.7h0M533.2 37.2h0M532.7 36.9h0" stroke="#e02424"/>
<path d="M534.7 32.4h0M534.8 37.0h0M534.5 36.5h0M534.6 35.0h0M534.0 34.4h0M534.5 35.7h0M534.4 34.8h0M534.4 36.1h0M534.2 22.0h0M534.2 26.5h0" stroke="#1e1ec0"/>
<path d="M535.0 35.7h0M534.8 36.4h0M534.9 35.6h0M535.2 35.0h0M535.4 35.2h0M535.1 35.8h0M535.2 35.7h0M535.1 35.9h0" stroke="#e02424"/>
<path d="M537.9 35.7h0M537.7 35.0h0M537.4 36.3h0M537.5 33.0h0M537.9 37.7h0M537.9 34.6h0M537.3 34.7h0M537.8 34.7h0" stroke="#1e1ec0"/>
<path d="M538.0 35.3h0M538.2 33.9h0M538.6 35.9h0M538.1 37.6h0M538.6 36.6h0M537.9 36.3h0M538.6 36.9h0M538.1 35.3h0" stroke="#e02424"/>
<path d="M539.7 36.0h0M539.8 37.0h0M540.1 34.7h0M539.9 34.5h0M540.4 35.2h0M540.0 35.9h0M539.7 36.1h0M540.4 34.4h0" stroke="#1e1ec0"/>
<path d="M540.9 35.9h0M541.1 36.3h0M541.2 36.8h0M540.5 36.2h0M541.1 36.7h0M541.1 36.4h0M541.3 35.0h0M541.0 36.4h0" stroke="#e02424"/>
<path d="M542.3 36.9h0M542.5 37.0h0M542.1 36.4h0M542.1 34.9h0M542.3 34.8h0M542.6 35.3h0M542.1 35.7h0M542.3 36.6h0" stroke="#1e1ec0"/>
<path d="M542.8 36.4h0M543.0 35.8h0M542.9 35.2h0M542.9 35.8h0M542.9 37.0h0M543.1 37.2h0M543.3 35.8h0M543.2 34.9h0" stroke="#e02424"/>
<path d="M545.5 36.5h0M545.4 35.6h0M545.7 36.9h0M545.8 37.4h0M545.5 35.3h0M545.4 35.8h0M545.5 36.5h0M545.5 35.1h0" stroke="#1e1ec0"/>
<path d="M546.6 34.4h0M546.7 36.2h0M546.3 35.8h0M546.5 36.7h0M546.2 35.9h0M546.6 34.5h0M546.1 35.9h0M546.2 36.5h0" stroke="#e02424"/>
<path d="M548.2 35.3h0M547.8 34.1h0M548.3 36.8h0M547.7 36.7h0M548.1 34.4h0M548.5 35.9h0M548.4 34.6h0M547.8 35.7h0" stroke="#1e1ec0"/>
<path d="M548.9 36.7h0M548.8 37.3h0M548.8 35.3h0M549.0 37.5h0M548.7 35.4h0M549.3 35.6h0M549.0 36.8h0M548.9 35.4h0" stroke="#e02424"/>
<path d="M550.2 32.7h0M550.2 36.5h0M550.2 36.5h0M550.3 35.3h0M550.1 34.7h0M550.8 34.2h0M550.5 35.9h0M550.3 35.8h0" stroke="#1e1ec0"/>
<path d="M551.7 35.3h0M551.2 36.3h0M551.4 36.1h0M551.5 35.3h0M551.2 36.0h0M551.6 37.5h0M551.3 36.7h0M551.3 37.0h0" stroke="#e02424"/>
<text x="576.00 582.00 587.00 592.00 595.00 601.00 605.00 607.00" y="13.20" class="st">Factor 5</text>
<rect x="574" y="19.5" width="42.30" height="33.00" fill="none" stroke="#8c8c8c"/>
<text transform="translate(571.40,22.10) scale(1.0,1)" class="sl" text-anchor="end">200</text>
<text transform="translate(571.40,38.60) scale(1.0,1)" class="sl" text-anchor="end">0</text>
<text transform="translate(571.40,55.10) scale(1.0,1)" class="sl" text-anchor="end">-200</text>
<text transform="translate(576.88,61.30) scale(1.0,1)" class="sl" text-anchor="middle">0</text>
<line x1="577.5" y1="52.5" x2="577.5" y2="51.0" stroke="#8c8c8c"/>
<text transform="translate(593.80,61.30) scale(1.0,1)" class="sl" text-anchor="middle">50</text>
<line x1="594.5" y1="52.5" x2="594.5" y2="51.0" stroke="#8c8c8c"/>
<text transform="translate(610.72,61.30) scale(1.0,1)" class="sl" text-anchor="middle">100</text>
<line x1="611.5" y1="52.5" x2="611.5" y2="51.0" stroke="#8c8c8c"/>
<path d="M575.7 43.0h0M576.2 42.4h0M575.8 39.8h0M576.3 40.4h0M576.4 39.0h0M576.3 38.8h0M575.7 42.0h0M576.0 44.9h0" stroke="#1e1ec0"/>
<path d="M576.4 38.8h0M576.6 33.5h0M576.8 35.1h0M576.5 32.9h0M576.8 37.0h0M577.2 32.6h0M577.1 35.6h0M576.4 35.5h0" stroke="#e02424"/>
<path d="M578.1 41.7h0M577.6 40.5h0M578.1 39.9h0M578.0 36.2h0M578.0 37.2h0M577.5 38.7h0M577.6 37.3h0M577.3 39.2h0" stroke="#1e1ec0"/>
<path d="M578.6 37.6h0M578.1 35.2h0M578.4 37.5h0M578.9 36.3h0M578.4 34.5h0M578.4 40.7h0M578.4 37.5h0M578.5 36.3h0" stroke="#e02424"/>
<path d="M579.2 37.5h0M579.4 38.4h0M579.0 40.0h0M579.5 40.3h0M579.3 37.7h0M579.2 37.3h0M579.0 35.7h0M579.3 40.0h0" stroke="#1e1ec0"/>
<path d="M579.8 35.1h0M580.0 37.9h0M580.1 32.5h0M580.6 35.9h0M580.0 39.0h0M580.2 33.5h0M579.8 35.5h0M580.5 38.4h0" stroke="#e02424"/>
<path d="M581.9 38.3h0M581.6 44.9h0M581.9 41.9h0M581.9 40.1h0M581.4 43.3h0M581.3 40.1h0M582.2 36.6h0M582.0 44.0h0" stroke="#1e1ec0"/>
<path d="M582.2 37.4h0M582.4 35.4h0M582.2 31.2h0M582.6 35.1h0M582.9 34.1h0M582.8 32.0h0M582.9 38.2h0M582.5 38.4h0" stroke="#e02424"/>
<path d="M584.7 34.8h0M584.7 38.4h0M584.7 36.2h0M585.0 35.2h0M585.0 39.4h0M585.0 43.7h0M585.1 35.3h0M585.2 33.0h0" stroke="#1e1ec0"/>
<path d="M585.6 36.1h0M586.1 33.8h0M585.4 31.5h0M586.1 42.4h0M586.1 38.2h0M585.4 39.6h0M586.2 36.3h0M585.4 35.2h0" stroke="#e02424"/>
<path d="M587.6 38.4h0M587.4 37.3h0M587.6 35.0h0M587.5 35.5h0M587.3 35.9h0M587.3 37.9h0M587.7 40.1h0M587.9 35.1h0" stroke="#1e1ec0"/>
<path d="M588.1 33.1h0M588.4 36.6h0M588.6 34.6h0M588.7 38.3h0M588.1 39.4h0M587.9 30.8h0M588.3 32.2h0M588.3 32.2h0" stroke="#e02424"/>
<path d="M590.1 35.9h0M589.5 36.1h0M589.7 34.4h0M590.1 44.3h0M589.6 39.0h0M590.1 37.1h0M590.0 45.1h0M589.7 47.5h0" stroke="#1e1ec0"/>
<path d="M590.3 35.2h0M590.9 40.8h0M590.4 33.3h0M590.3 33.3h0M590.7 32.8h0M590.8 34.0h0M590.6 30.7h0M590.5 33.5h0" stroke="#e02424"/>
<path d="M592.9 34.0h0M593.1 39.1h0M593.1 40.4h0M593.4 41.3h0M593.1 44.5h0M592.9 36.9h0M593.3 35.5h0M593.5 37.2h0" stroke="#1e1ec0"/>
<path d="M593.7 38.9h0M593.7 35.0h0M594.2 34.4h0M594.0 38.4h0M594.0 30.0h0M593.5 39.8h0M593.7 37.8h0M593.9 32.1h0" stroke="#e02424"/>
<path d="M595.4 39.5h0M595.8 37.2h0M595.7 44.0h0M596.0 37.5h0M595.2 38.3h0M595.9 37.3h0M595.7 37.9h0M595.4 38.3h0" stroke="#1e1ec0"/>
<path d="M596.8 32.3h0M596.1 40.8h0M596.1 36.2h0M596.1 37.7h0M596.5 34.4h0M596.7 39.8h0M596.2 33.7h0M596.6 32.0h0" stroke="#e02424"/>
<path d="M598.0 37.9h0M597.7 43.1h0M598.4 35.6h0M598.3 46.3h0M598.1 42.6h0M598.4 34.7h0M597.6 29.5h0M598.2 48.3h0" stroke="#1e1ec0"/>
<path d="M598.9 25.6h0M598.6 34.3h0M599.2 39.3h0M599.2 32.7h0M599.0 35.5h0M598.4 32.1h0M598.5 34.0h0M598.8 29.1h0" stroke="#e02424"/>
<path d="M600.8 39.9h0M601.5 35.6h0M600.8 29.1h0M601.2 41.4h0M601.0 43.3h0M601.0 35.0h0M601.0 40.3h0M601.5 47.7h0" stroke="#1e1ec0"/>
<path d="M601.6 30.3h0M601.9 37.4h0M602.3 33.5h0M601.9 34.7h0M602.4 33.4h0M602.0 35.8h0M602.2 35.6h0M601.7 34.7h0" stroke="#e02424"/>
<path d="M604.0 38.8h0M603.5 33.2h0M603.7 41.4h0M603.7 44.1h0M603.6 32.7h0M603.8 32.4h0M603.4 40.5h0M603.5 39.5h0" stroke="#1e1ec0"/>
<path d="M604.6 24.1h0M604.3 39.8h0M604.4 26.7h0M604.2 43.3h0M604.8 36.4h0M604.8 33.1h0M604.6 29.2h0M604.3 34.1h0" stroke="#e02424"/>
<path d="M606.0 39.4h0M606.5 32.2h0M606.5 42.9h0M606.0 42.6h0M605.8 37.3h0M606.0 46.9h0M606.2 39.4h0M605.8 41.6h0" stroke="#1e1ec0"/>
<path d="M607.3 40.9h0M606.7 38.2h0M607.1 38.2h0M606.6 38.3h0M606.6 33.9h0M606.6 34.4h0M607.0 37.8h0M606.7 35.3h0" stroke="#e02424"/>
<path d="M609.7 34.1h0M609.4 39.9h0M609.3 41.2h0M609.1 29.2h0M609.6 35.2h0M609.1 38.4h0M609.1 39.2h0M609.1 39.2h0" stroke="#1e1ec0"/>
<path d="M610.1 37.4h0M610.0 36.5h0M610.2 37.3h0M610.5 37.0h0M610.1 35.7h0M610.3 36.8h0M610.4 35.2h0M609.7 30.3h0" stroke="#e02424"/>
<path d="M612.0 38.5h0M611.7 33.5h0M611.8 42.0h0M612.2 35.4h0M612.2 45.0h0M611.7 28.1h0M612.0 38.1h0M611.9 46.1h0" stroke="#1e1ec0"/>
<path d="M612.6 25.0h0M612.6 35.8h0M612.7 32.2h0M612.4 35.7h0M612.4 32.5h0M612.4 34.5h0M612.4 32.7h0M612.7 34.2h0" stroke="#e02424"/>
<path d="M613.8 35.4h0M614.4 37.9h0M614.2 42.1h0M614.2 41.4h0M614.5 39.3h0M614.3 38.3h0M614.2 30.3h0M614.1 36.8h0" stroke="#1e1ec0"/>
<path d="M615.0 23.4h0M615.0 39.2h0M615.2 37.0h0M614.7 34.5h0M615.3 32.8h0M615.0 41.9h0M615.0 32.4h0M614.8 40.9h0" stroke="#e02424"/>
<text x="638.85 644.85 649.85 654.85 657.85 663.85 667.85 669.85" y="13.20" class="st">Factor 6</text>
<rect x="637.5" y="19.5" width="41.00" height="33.00" fill="none" stroke="#8c8c8c"/>
<text transform="translate(634.90,22.10) scale(1.0,1)" class="sl" text-anchor="end">500</text>
<text transform="translate(634.90,38.60) scale(1.0,1)" class="sl" text-anchor="end">0</text>
<text transform="translate(634.90,55.10) scale(1.0,1)" class="sl" text-anchor="end">-500</text>
<text transform="translate(640.28,61.30) scale(1.0,1)" class="sl" text-anchor="middle">0</text>
<line x1="641.5" y1="52.5" x2="641.5" y2="51.0" stroke="#8c8c8c"/>
<text transform="translate(656.68,61.30) scale(1.0,1)" class="sl" text-anchor="middle">50</text>
<line x1="657.5" y1="52.5" x2="657.5" y2="51.0" stroke="#8c8c8c"/>
<text transform="translate(673.08,61.30) scale(1.0,1)" class="sl" text-anchor="middle">100</text>
<line x1="674.5" y1="52.5" x2="674.5" y2="51.0" stroke="#8c8c8c"/>
<path d="M639.7 40.6h0M639.7 38.2h0M639.2 40.2h0M639.8 38.1h0M639.7 36.6h0M639.1 45.0h0M639.6 42.0h0M639.8 39.7h0" stroke="#1e1ec0"/>
<path d="M640.6 35.6h0M640.4 36.8h0M640.5 35.9h0M639.8 34.7h0M640.3 33.7h0M640.6 37.8h0M640.4 35.8h0M640.5 36.9h0" stroke="#e02424"/>
<path d="M641.1 37.5h0M641.0 38.1h0M641.3 37.8h0M641.3 38.7h0M640.8 37.2h0M641.4 48.3h0M641.0 46.2h0M641.4 40.2h0" stroke="#1e1ec0"/>
<path d="M642.2 34.5h0M641.7 32.2h0M641.6 33.8h0M641.9 35.1h0M642.0 33.0h0M642.2 36.0h0M641.7 34.1h0M641.9 34.4h0" stroke="#e02424"/>
<path d="M642.5 37.1h0M642.6 37.3h0M642.8 37.2h0M642.7 38.3h0M642.4 37.4h0M643.1 45.5h0M642.5 43.0h0M642.9 40.4h0" stroke="#1e1ec0"/>
<path d="M643.2 32.7h0M643.1 34.1h0M643.9 36.2h0M643.3 34.1h0M643.4 31.5h0M643.3 34.1h0M643.7 32.4h0M643.3 35.7h0" stroke="#e02424"/>
<path d="M645.2 36.8h0M645.0 37.5h0M644.7 37.1h0M644.7 37.3h0M644.9 39.8h0M645.2 44.5h0M645.0 43.1h0M645.1 41.7h0" stroke="#1e1ec0"/>
<path d="M645.8 37.2h0M646.2 33.0h0M645.6 35.3h0M645.7 34.7h0M645.9 33.6h0M645.5 34.0h0M645.5 36.5h0M645.6 35.6h0" stroke="#e02424"/>
<path d="M648.0 36.6h0M648.1 38.5h0M648.4 37.6h0M648.1 37.2h0M648.1 39.3h0M648.0 42.7h0M648.3 40.5h0M648.3 39.9h0" stroke="#1e1ec0"/>
<path d="M648.7 35.7h0M648.8 36.1h0M649.1 35.8h0M648.9 33.7h0M648.7 34.2h0M649.3 35.2h0M649.1 33.9h0M649.1 34.4h0" stroke="#e02424"/>
<path d="M650.4 37.8h0M650.5 38.0h0M650.8 36.7h0M650.5 37.5h0M650.2 41.1h0M650.8 44.8h0M650.7 38.0h0M650.5 37.7h0" stroke="#1e1ec0"/>
<path d="M651.6 33.1h0M651.6 31.2h0M651.2 36.4h0M651.8 34.3h0M651.4 36.0h0M651.6 36.2h0M651.4 33.8h0M651.6 34.5h0" stroke="#e02424"/>
<path d="M653.0 38.2h0M653.0 37.8h0M653.2 37.4h0M652.9 38.3h0M653.3 39.4h0M653.1 41.1h0M652.5 42.6h0M653.2 41.4h0" stroke="#1e1ec0"/>
<path d="M653.7 34.9h0M654.0 34.7h0M653.6 35.0h0M653.7 34.0h0M653.5 36.5h0M653.8 34.9h0M653.6 35.6h0M654.0 36.4h0" stroke="#e02424"/>
<path d="M655.7 37.9h0M655.8 40.0h0M656.3 37.0h0M656.2 39.8h0M656.0 37.6h0M655.8 48.6h0M655.9 37.4h0M656.2 40.2h0" stroke="#1e1ec0"/>
<path d="M656.4 35.0h0M656.8 35.6h0M657.1 34.9h0M656.6 35.5h0M656.6 35.7h0M656.5 32.6h0M656.7 32.4h0M656.5 34.5h0" stroke="#e02424"/>
<path d="M658.2 38.6h0M658.4 37.6h0M658.6 36.6h0M658.5 38.0h0M658.9 38.5h0M658.1 40.6h0M658.4 40.7h0M658.3 40.9h0" stroke="#1e1ec0"/>
<path d="M659.6 36.1h0M659.0 36.7h0M658.9 34.3h0M658.9 34.6h0M659.3 33.5h0M659.4 35.4h0M659.1 35.5h0M659.1 33.8h0" stroke="#e02424"/>
<path d="M660.6 36.9h0M661.1 37.6h0M661.1 36.6h0M660.9 38.7h0M660.8 37.6h0M661.1 37.0h0M660.6 41.1h0M660.9 45.1h0" stroke="#1e1ec0"/>
<path d="M661.6 35.0h0M661.5 34.9h0M661.8 33.8h0M661.5 33.5h0M661.5 33.8h0M661.3 33.3h0M661.3 36.2h0M661.8 33.1h0" stroke="#e02424"/>
<path d="M663.9 37.1h0M664.2 36.8h0M663.9 42.4h0M663.9 40.6h0M663.5 39.7h0M663.8 48.3h0M663.9 42.4h0M664.0 43.0h0" stroke="#1e1ec0"/>
<path d="M665.0 33.6h0M664.3 38.1h0M664.7 35.1h0M665.1 34.0h0M664.4 38.9h0M664.9 33.5h0M665.0 33.7h0M664.8 34.6h0" stroke="#e02424"/>
<path d="M666.5 38.0h0M666.2 39.8h0M666.5 37.4h0M666.6 37.9h0M666.1 40.3h0M666.7 39.9h0M666.7 43.2h0M666.1 38.5h0" stroke="#1e1ec0"/>
<path d="M666.9 34.7h0M667.5 35.1h0M666.9 36.0h0M666.7 34.8h0M666.9 32.9h0M667.0 35.5h0M666.7 34.8h0M667.3 33.5h0" stroke="#e02424"/>
<path d="M669.0 37.5h0M668.8 37.4h0M668.5 37.1h0M668.8 38.4h0M668.6 39.1h0M668.3 39.7h0M669.0 42.7h0M668.7 39.1h0" stroke="#1e1ec0"/>
<path d="M669.2 34.5h0M669.0 36.5h0M669.7 38.1h0M669.5 35.9h0M669.0 31.3h0M669.0 36.5h0M669.1 36.3h0M669.2 36.5h0" stroke="#e02424"/>
<path d="M671.4 37.8h0M671.7 37.9h0M672.0 39.2h0M671.5 40.4h0M672.1 37.0h0M671.8 37.1h0M671.5 40.0h0M671.7 41.9h0" stroke="#1e1ec0"/>
<path d="M672.8 35.0h0M672.8 37.1h0M672.7 35.2h0M672.2 33.4h0M672.4 35.8h0M672.9 35.1h0M672.2 35.2h0M672.2 35.6h0" stroke="#e02424"/>
<path d="M674.1 38.9h0M674.0 39.4h0M674.3 41.1h0M673.9 41.5h0M674.4 37.1h0M674.4 40.3h0M674.4 45.6h0M674.1 40.1h0" stroke="#1e1ec0"/>
<path d="M675.0 36.5h0M674.9 34.3h0M674.9 35.5h0M674.9 35.2h0M675.3 34.1h0M675.2 33.7h0M674.7 34.0h0M675.1 36.7h0" stroke="#e02424"/>
<path d="M676.6 41.0h0M676.6 40.7h0M676.6 37.9h0M676.6 36.7h0M676.3 37.8h0M676.4 48.7h0M676.1 42.9h0M676.9 39.5h0" stroke="#1e1ec0"/>
<path d="M677.6 34.7h0M677.7 34.2h0M677.0 35.0h0M677.1 36.1h0M677.2 34.5h0M677.5 36.7h0M676.9 36.0h0M677.4 34.6h0" stroke="#e02424"/>
<text x="322.35 328.35 333.35 338.35 341.35 347.35 351.35 353.35" y="72.50" class="st">Factor 7</text>
<rect x="320.5" y="78.8" width="42.00" height="32.90" fill="none" stroke="#8c8c8c"/>
<text transform="translate(317.90,81.40) scale(1.0,1)" class="sl" text-anchor="end">200</text>
<text transform="translate(317.90,97.85) scale(1.0,1)" class="sl" text-anchor="end">0</text>
<text transform="translate(317.90,114.30) scale(1.0,1)" class="sl" text-anchor="end">-200</text>
<text transform="translate(323.36,120.50) scale(1.0,1)" class="sl" text-anchor="middle">0</text>
<line x1="324.5" y1="111.7" x2="324.5" y2="110.2" stroke="#8c8c8c"/>
<text transform="translate(340.16,120.50) scale(1.0,1)" class="sl" text-anchor="middle">50</text>
<line x1="341.5" y1="111.7" x2="341.5" y2="110.2" stroke="#8c8c8c"/>
<text transform="translate(356.96,120.50) scale(1.0,1)" class="sl" text-anchor="middle">100</text>
<line x1="357.5" y1="111.7" x2="357.5" y2="110.2" stroke="#8c8c8c"/>
<path d="M322.3 101.0h0M322.9 96.4h0M322.3 96.2h0M322.2 93.4h0M322.6 99.0h0M322.2 99.9h0M322.9 93.8h0M322.5 97.8h0" stroke="#1e1ec0"/>
<path d="M323.3 98.8h0M323.2 92.6h0M323.5 99.4h0M323.5 98.1h0M323.0 96.9h0M323.5 97.8h0M322.9 95.7h0M323.6 97.6h0" stroke="#e02424"/>
<path d="M324.5 95.9h0M323.8 100.1h0M323.8 98.8h0M324.5 99.7h0M324.4 100.1h0M324.5 94.0h0M324.4 99.3h0M324.2 96.9h0" stroke="#1e1ec0"/>
<path d="M324.9 94.5h0M324.7 99.5h0M325.0 97.5h0M324.8 99.6h0M325.3 99.7h0M325.1 96.2h0M325.1 96.9h0M324.8 97.3h0" stroke="#e02424"/>
<path d="M325.9 94.8h0M326.0 99.6h0M325.8 97.8h0M326.2 98.1h0M325.7 94.9h0M325.5 99.8h0M325.8 98.1h0M325.7 97.5h0" stroke="#1e1ec0"/>
<path d="M326.3 95.5h0M327.1 99.6h0M326.7 95.3h0M326.6 95.0h0M327.1 98.9h0M326.8 97.9h0M326.7 98.3h0M326.5 94.7h0" stroke="#e02424"/>
<path d="M327.8 98.6h0M327.9 95.9h0M328.4 97.2h0M327.8 93.9h0M328.4 96.5h0M328.2 100.9h0M327.8 97.7h0M328.6 95.1h0" stroke="#1e1ec0"/>
<path d="M329.3 96.2h0M329.3 97.4h0M328.8 96.4h0M329.4 98.3h0M328.7 98.4h0M329.4 98.0h0M329.1 95.7h0M328.7 97.6h0" stroke="#e02424"/>
<path d="M331.8 92.6h0M331.6 91.6h0M331.4 93.5h0M331.7 87.2h0M331.1 91.1h0M331.3 93.4h0M331.1 92.8h0M331.4 95.6h0" stroke="#1e1ec0"/>
<path d="M332.6 92.5h0M332.5 91.8h0M331.9 92.6h0M332.0 91.6h0M332.4 92.6h0M332.4 91.1h0M331.8 90.6h0M332.3 97.2h0" stroke="#e02424"/>
<path d="M333.7 91.6h0M334.1 92.2h0M334.0 89.9h0M334.0 95.9h0M334.0 91.2h0M334.2 90.3h0M334.0 94.7h0M334.2 92.8h0" stroke="#1e1ec0"/>
<path d="M335.1 95.0h0M334.8 92.5h0M335.0 90.6h0M334.6 92.8h0M334.6 94.5h0M334.9 97.0h0M334.5 91.3h0M335.1 94.3h0" stroke="#e02424"/>
<path d="M336.0 92.4h0M335.9 89.7h0M336.6 93.4h0M336.1 91.5h0M335.9 92.5h0M336.0 94.0h0M336.4 97.3h0M336.1 89.9h0" stroke="#1e1ec0"/>
<path d="M336.8 95.5h0M336.9 89.4h0M336.9 91.5h0M337.0 93.5h0M337.2 97.1h0M336.7 91.2h0M336.6 95.2h0M336.7 94.2h0" stroke="#e02424"/>
<path d="M339.8 105.0h0M339.7 102.1h0M339.2 104.9h0M339.9 96.2h0M339.7 92.2h0M339.4 92.4h0M339.5 97.4h0M339.2 90.9h0" stroke="#1e1ec0"/>
<path d="M340.6 95.8h0M339.9 93.6h0M340.7 94.4h0M340.5 90.2h0M340.4 93.1h0M340.3 96.4h0M340.5 93.9h0M339.9 95.2h0" stroke="#e02424"/>
<path d="M342.0 84.4h0M341.8 107.0h0M342.3 101.7h0M342.1 94.4h0M341.7 99.2h0M341.7 96.4h0M342.1 98.6h0M341.9 97.8h0" stroke="#1e1ec0"/>
<path d="M342.8 98.0h0M343.1 94.0h0M342.4 94.6h0M342.9 94.3h0M342.7 92.3h0M342.5 94.6h0M342.3 95.7h0M342.5 99.3h0" stroke="#e02424"/>
<path d="M344.1 96.6h0M344.1 103.1h0M344.3 99.5h0M344.5 93.6h0M344.3 95.2h0M344.5 92.8h0M344.0 93.2h0M343.9 92.9h0" stroke="#1e1ec0"/>
<path d="M345.4 97.8h0M344.9 89.6h0M344.8 99.0h0M345.3 96.2h0M345.1 92.2h0M345.3 96.7h0M344.7 97.5h0M344.8 96.2h0" stroke="#e02424"/>
<path d="M347.8 89.2h0M347.4 93.7h0M347.4 90.6h0M347.8 95.1h0M347.2 94.0h0M347.7 93.0h0M347.5 92.4h0M347.9 94.4h0" stroke="#1e1ec0"/>
<path d="M347.9 97.3h0M348.0 96.8h0M348.0 92.3h0M348.1 95.0h0M348.0 90.6h0M348.1 98.5h0M348.6 95.4h0M348.4 99.1h0" stroke="#e02424"/>
<path d="M349.8 100.7h0M349.7 96.2h0M350.2 90.1h0M350.1 98.9h0M350.0 94.3h0M349.7 90.8h0M349.8 94.5h0M350.1 97.3h0" stroke="#1e1ec0"/>
<path d="M351.3 93.3h0M350.7 98.9h0M350.6 96.4h0M350.4 91.9h0M351.2 96.7h0M350.6 92.3h0M350.5 92.6h0M350.8 95.5h0" stroke="#e02424"/>
<path d="M352.0 92.8h0M352.3 93.2h0M352.2 96.8h0M352.0 97.7h0M352.4 93.0h0M352.5 98.4h0M352.4 92.3h0M352.6 97.6h0" stroke="#1e1ec0"/>
<path d="M353.3 94.0h0M353.0 97.1h0M352.9 95.4h0M353.5 95.3h0M352.8 96.7h0M353.2 97.2h0M353.4 98.1h0M353.3 90.4h0" stroke="#e02424"/>
<path d="M355.7 91.6h0M355.2 96.9h0M355.9 92.1h0M356.0 92.3h0M355.8 93.4h0M355.9 94.5h0M355.9 95.4h0M355.8 94.6h0" stroke="#1e1ec0"/>
<path d="M356.4 95.5h0M356.6 90.5h0M356.0 92.6h0M356.1 95.1h0M356.4 94.2h0M356.0 92.7h0M356.6 98.6h0M356.6 95.7h0" stroke="#e02424"/>
<path d="M358.1 84.5h0M358.5 94.6h0M358.3 98.0h0M358.1 95.4h0M358.5 97.1h0M357.9 91.3h0M358.0 93.1h0M357.8 92.0h0" stroke="#1e1ec0"/>
<path d="M358.8 96.8h0M358.6 98.7h0M358.6 92.9h0M358.8 93.5h0M359.3 90.1h0M358.9 95.6h0M359.3 92.7h0M358.7 94.6h0" stroke="#e02424"/>
<path d="M360.1 95.2h0M360.8 89.8h0M360.9 99.3h0M360.7 98.8h0M360.6 95.5h0M360.9 97.9h0M360.8 93.6h0M360.7 101.3h0" stroke="#1e1ec0"/>
<path d="M361.0 94.2h0M361.1 95.0h0M361.4 99.7h0M361.3 90.8h0M361.1 94.4h0M361.0 93.9h0M361.6 95.7h0M361.3 97.3h0" stroke="#e02424"/>
<text x="385.35 391.35 396.35 401.35 404.35 410.35 414.35 416.35" y="72.50" class="st">Factor 8</text>
<rect x="383.5" y="78.8" width="42.00" height="32.90" fill="none" stroke="#8c8c8c"/>
<text transform="translate(380.90,81.40) scale(1.0,1)" class="sl" text-anchor="end">100</text>
<text transform="translate(380.90,97.85) scale(1.0,1)" class="sl" text-anchor="end">0</text>
<text transform="translate(380.90,114.30) scale(1.0,1)" class="sl" text-anchor="end">-100</text>
<text transform="translate(386.36,120.50) scale(1.0,1)" class="sl" text-anchor="middle">0</text>
<line x1="387.5" y1="111.7" x2="387.5" y2="110.2" stroke="#8c8c8c"/>
<text transform="translate(403.16,120.50) scale(1.0,1)" class="sl" text-anchor="middle">50</text>
<line x1="404.5" y1="111.7" x2="404.5" y2="110.2" stroke="#8c8c8c"/>
<text transform="translate(419.96,120.50) scale(1.0,1)" class="sl" text-anchor="middle">100</text>
<line x1="420.5" y1="111.7" x2="420.5" y2="110.2" stroke="#8c8c8c"/>
<path d="M385.8 89.9h0M385.7 87.1h0M385.5 92.3h0M385.4 94.4h0M385.7 102.6h0M385.5 94.8h0M385.1 95.4h0M385.3 96.8h0" stroke="#1e1ec0"/>
<path d="M386.6 93.0h0M386.3 98.4h0M386.4 97.0h0M386.4 92.4h0M386.6 93.7h0M386.4 98.8h0M386.2 97.1h0M386.2 96.4h0" stroke="#e02424"/>
<path d="M387.3 84.4h0M387.4 88.6h0M386.8 84.9h0M387.5 101.0h0M387.6 92.5h0M386.8 100.1h0M387.3 92.9h0M387.3 102.4h0" stroke="#1e1ec0"/>
<path d="M387.6 98.4h0M388.1 92.0h0M388.1 94.4h0M388.1 98.4h0M388.2 97.9h0M388.1 94.2h0M387.8 96.6h0M388.4 93.3h0" stroke="#e02424"/>
<path d="M389.1 82.2h0M388.8 81.1h0M389.3 85.2h0M388.5 96.0h0M388.9 95.5h0M389.3 97.6h0M388.5 94.6h0M388.8 98.7h0" stroke="#1e1ec0"/>
<path d="M390.1 96.9h0M389.2 94.3h0M389.6 97.9h0M389.5 98.6h0M389.6 100.2h0M389.4 97.5h0M389.5 94.8h0M389.7 96.4h0" stroke="#e02424"/>
<path d="M390.8 86.0h0M391.4 85.3h0M391.4 82.1h0M391.5 100.1h0M391.3 97.0h0M391.6 95.5h0M391.1 95.8h0M391.0 95.6h0" stroke="#1e1ec0"/>
<path d="M391.9 95.6h0M392.2 99.6h0M391.6 100.9h0M392.4 94.2h0M392.1 99.5h0M392.0 95.4h0M391.6 96.0h0M391.8 103.2h0" stroke="#e02424"/>
<path d="M394.5 84.6h0M394.8 91.5h0M394.5 86.8h0M394.1 102.7h0M394.6 96.6h0M394.4 100.9h0M394.0 101.3h0M394.1 100.8h0" stroke="#1e1ec0"/>
<path d="M395.5 95.2h0M395.0 95.5h0M394.8 96.5h0M395.4 95.9h0M394.8 100.0h0M395.1 96.7h0M395.2 94.0h0M395.4 97.4h0" stroke="#e02424"/>
<path d="M397.2 85.6h0M396.7 83.7h0M397.2 88.0h0M397.3 96.8h0M396.6 100.7h0M397.0 100.7h0M396.7 96.1h0M396.9 100.2h0" stroke="#1e1ec0"/>
<path d="M397.8 95.2h0M397.5 94.8h0M397.6 98.2h0M397.9 95.4h0M397.4 96.9h0M398.1 96.4h0M397.4 97.7h0M397.6 98.3h0" stroke="#e02424"/>
<path d="M399.5 88.3h0M399.4 86.8h0M399.1 90.0h0M399.1 99.1h0M399.6 103.3h0M399.6 99.5h0M399.6 96.5h0M399.0 99.2h0" stroke="#1e1ec0"/>
<path d="M400.1 97.2h0M400.4 96.1h0M400.2 97.1h0M399.8 97.9h0M400.1 93.5h0M399.7 95.7h0M399.9 97.4h0M400.0 97.4h0" stroke="#e02424"/>
<path d="M402.1 83.6h0M402.7 88.8h0M402.4 87.1h0M402.5 100.5h0M402.2 101.1h0M402.5 94.3h0M402.1 95.7h0M402.8 102.1h0" stroke="#1e1ec0"/>
<path d="M403.3 97.8h0M403.0 94.5h0M403.5 97.6h0M403.4 95.2h0M403.0 96.8h0M402.9 95.6h0M402.9 97.0h0M403.2 94.5h0" stroke="#e02424"/>
<path d="M405.2 87.8h0M404.7 86.3h0M405.0 87.4h0M404.7 95.7h0M405.3 93.4h0M405.0 96.2h0M405.2 99.8h0M405.3 101.6h0" stroke="#1e1ec0"/>
<path d="M406.2 95.0h0M405.4 96.6h0M405.4 96.9h0M405.9 93.8h0M405.5 95.8h0M405.4 93.5h0M405.8 98.0h0M406.0 94.2h0" stroke="#e02424"/>
<path d="M407.0 86.8h0M407.2 80.5h0M407.6 90.7h0M407.4 98.9h0M407.3 93.5h0M407.3 95.7h0M407.5 92.0h0M407.0 93.6h0" stroke="#1e1ec0"/>
<path d="M408.4 94.5h0M408.1 98.8h0M408.5 97.9h0M407.7 92.3h0M407.8 95.9h0M407.8 91.7h0M408.4 96.4h0M408.4 98.8h0" stroke="#e02424"/>
<path d="M410.2 84.0h0M410.2 87.4h0M410.6 89.3h0M410.3 95.1h0M410.6 93.0h0M410.8 97.7h0M410.2 94.8h0M410.3 90.9h0" stroke="#1e1ec0"/>
<path d="M411.3 97.4h0M411.3 95.7h0M411.6 97.2h0M411.6 100.0h0M410.9 96.3h0M411.7 95.1h0M411.4 99.1h0M411.1 95.8h0" stroke="#e02424"/>
<path d="M413.3 86.9h0M413.1 86.5h0M413.3 82.1h0M413.3 94.8h0M413.4 99.8h0M412.8 100.5h0M412.7 96.2h0M413.3 96.8h0" stroke="#1e1ec0"/>
<path d="M414.2 99.6h0M413.6 96.8h0M413.6 97.1h0M413.6 93.4h0M413.7 95.6h0M414.0 94.2h0M413.9 95.9h0M413.5 97.8h0" stroke="#e02424"/>
<path d="M415.3 86.3h0M415.8 88.5h0M415.5 89.5h0M415.2 93.9h0M415.2 99.9h0M415.7 94.6h0M415.4 92.7h0M415.2 93.2h0" stroke="#1e1ec0"/>
<path d="M416.6 97.8h0M416.3 94.9h0M416.0 92.9h0M416.3 95.5h0M415.8 98.8h0M416.2 94.0h0M416.3 98.6h0M415.9 96.4h0" stroke="#e02424"/>
<path d="M419.0 81.4h0M418.6 83.6h0M418.4 86.5h0M418.2 97.3h0M418.7 98.8h0M418.4 92.7h0M418.8 96.0h0M418.6 100.8h0" stroke="#1e1ec0"/>
<path d="M419.2 95.7h0M419.1 98.5h0M419.2 95.5h0M419.4 95.8h0M419.5 98.2h0M419.4 99.6h0M419.5 97.1h0M419.6 95.3h0" stroke="#e02424"/>
<path d="M421.1 85.7h0M421.5 86.0h0M421.2 81.0h0M421.2 97.2h0M421.1 92.8h0M421.2 93.4h0M421.3 95.5h0M421.1 89.6h0" stroke="#1e1ec0"/>
<path d="M422.1 96.2h0M422.3 98.9h0M421.8 95.3h0M422.1 97.0h0M422.1 97.0h0M422.1 94.1h0M422.1 94.8h0M421.6 96.4h0" stroke="#e02424"/>
<path d="M423.2 83.9h0M423.2 88.0h0M423.8 87.4h0M423.4 103.2h0M423.3 95.0h0M423.5 97.8h0M423.6 91.7h0M423.3 100.6h0" stroke="#1e1ec0"/>
<path d="M424.6 99.4h0M424.3 96.6h0M423.8 100.0h0M424.4 96.7h0M424.2 96.0h0M424.2 97.1h0M424.1 95.9h0M424.3 95.4h0" stroke="#e02424"/>
<text x="448.60 454.60 459.60 464.60 467.60 473.60 477.60 479.60" y="72.50" class="st">Factor 9</text>
<rect x="447" y="78.8" width="41.50" height="32.90" fill="none" stroke="#8c8c8c"/>
<text transform="translate(444.40,81.40) scale(1.0,1)" class="sl" text-anchor="end">100</text>
<text transform="translate(444.40,97.85) scale(1.0,1)" class="sl" text-anchor="end">0</text>
<text transform="translate(444.40,114.30) scale(1.0,1)" class="sl" text-anchor="end">-100</text>
<text transform="translate(449.82,120.50) scale(1.0,1)" class="sl" text-anchor="middle">0</text>
<line x1="450.5" y1="111.7" x2="450.5" y2="110.2" stroke="#8c8c8c"/>
<text transform="translate(466.42,120.50) scale(1.0,1)" class="sl" text-anchor="middle">50</text>
<line x1="467.5" y1="111.7" x2="467.5" y2="110.2" stroke="#8c8c8c"/>
<text transform="translate(483.02,120.50) scale(1.0,1)" class="sl" text-anchor="middle">100</text>
<line x1="484.5" y1="111.7" x2="484.5" y2="110.2" stroke="#8c8c8c"/>
<path d="M449.1 87.6h0M448.8 88.2h0M448.8 91.8h0M449.2 92.1h0M448.8 90.6h0M449.1 88.5h0M449.3 84.6h0M449.0 86.6h0" stroke="#1e1ec0"/>
<path d="M449.7 90.7h0M449.7 89.1h0M449.9 84.4h0M449.5 81.9h0M449.5 95.3h0M449.5 88.7h0M449.7 92.0h0M449.8 85.0h0" stroke="#e02424"/>
<path d="M450.8 93.3h0M450.3 85.8h0M450.4 89.8h0M450.4 90.9h0M450.6 89.1h0M450.7 91.2h0M450.5 82.8h0M450.6 86.9h0" stroke="#1e1ec0"/>
<path d="M451.1 80.2h0M451.7 91.2h0M451.4 90.2h0M451.0 90.9h0M451.8 94.0h0M451.8 85.1h0M451.4 88.8h0M451.2 98.2h0" stroke="#e02424"/>
<path d="M452.1 97.0h0M452.0 90.9h0M452.5 92.3h0M452.2 87.5h0M452.0 82.2h0M451.9 92.0h0M452.1 88.8h0M452.4 89.7h0" stroke="#1e1ec0"/>
<path d="M453.2 82.9h0M453.1 93.8h0M453.1 89.7h0M453.5 91.0h0M452.7 85.8h0M452.7 89.7h0M453.3 88.1h0M453.5 88.6h0" stroke="#e02424"/>
<path d="M454.7 91.9h0M454.4 87.7h0M454.6 84.4h0M455.0 92.5h0M454.6 89.7h0M454.3 81.2h0M454.5 91.3h0M454.8 87.8h0" stroke="#1e1ec0"/>
<path d="M455.6 88.1h0M455.6 95.7h0M455.1 93.4h0M455.3 88.2h0M455.6 95.9h0M455.5 87.0h0M455.4 97.6h0M455.0 88.8h0" stroke="#e02424"/>
<path d="M457.5 95.2h0M457.6 92.3h0M457.7 96.2h0M457.8 94.5h0M457.8 91.0h0M457.5 102.1h0M458.1 96.9h0M458.0 92.4h0" stroke="#1e1ec0"/>
<path d="M458.8 86.8h0M458.6 92.1h0M458.8 86.0h0M458.3 90.2h0M458.8 88.9h0M458.3 95.7h0M459.0 92.9h0M458.7 91.7h0" stroke="#e02424"/>
<path d="M459.9 92.8h0M460.0 94.4h0M460.3 84.7h0M460.3 86.5h0M460.3 93.5h0M460.3 93.8h0M460.5 96.8h0M459.9 91.5h0" stroke="#1e1ec0"/>
<path d="M460.8 100.1h0M461.1 94.1h0M460.8 94.7h0M461.1 95.4h0M461.2 86.6h0M461.4 85.5h0M461.2 101.1h0M461.2 89.6h0" stroke="#e02424"/>
<path d="M462.6 91.8h0M462.4 99.0h0M462.4 94.3h0M462.8 90.3h0M463.0 95.6h0M462.4 86.1h0M462.6 95.0h0M462.6 95.7h0" stroke="#1e1ec0"/>
<path d="M463.5 93.4h0M463.5 90.4h0M463.3 96.3h0M463.6 87.6h0M463.3 96.0h0M463.7 87.2h0M463.3 88.4h0M463.8 97.0h0" stroke="#e02424"/>
<path d="M466.1 93.7h0M466.1 100.8h0M465.9 94.3h0M465.7 103.6h0M466.0 91.0h0M465.5 97.1h0M465.9 91.3h0M465.8 90.6h0" stroke="#1e1ec0"/>
<path d="M466.8 100.3h0M466.1 93.8h0M466.8 90.8h0M466.2 95.4h0M466.3 90.2h0M466.1 92.7h0M466.5 88.7h0M466.8 100.6h0" stroke="#e02424"/>
<path d="M468.3 91.3h0M467.9 97.4h0M468.4 92.2h0M468.0 94.7h0M468.3 89.6h0M467.8 94.9h0M468.6 96.3h0M468.6 89.5h0" stroke="#1e1ec0"/>
<path d="M469.1 96.1h0M469.4 101.1h0M469.1 91.6h0M469.0 98.0h0M468.7 90.5h0M469.0 94.5h0M469.1 94.2h0M468.9 92.5h0" stroke="#e02424"/>
<path d="M470.9 91.6h0M470.3 91.9h0M470.4 101.2h0M470.8 97.5h0M470.9 95.8h0M470.9 90.0h0M470.2 86.4h0M470.1 97.8h0" stroke="#1e1ec0"/>
<path d="M471.5 97.0h0M471.2 98.3h0M471.0 92.2h0M471.2 93.5h0M471.7 94.0h0M471.7 92.8h0M471.2 90.0h0M471.6 92.2h0" stroke="#e02424"/>
<path d="M473.7 100.8h0M473.8 97.4h0M474.1 93.4h0M474.1 92.1h0M473.9 99.1h0M473.9 100.8h0M473.4 97.2h0M473.4 89.0h0" stroke="#1e1ec0"/>
<path d="M474.8 99.9h0M474.3 94.0h0M474.4 92.3h0M474.4 95.2h0M474.9 96.0h0M474.5 99.3h0M474.1 93.3h0M474.3 97.4h0" stroke="#e02424"/>
<path d="M476.2 99.3h0M476.4 96.5h0M476.0 97.5h0M476.1 99.9h0M476.5 95.6h0M475.9 91.8h0M476.6 98.2h0M476.2 91.7h0" stroke="#1e1ec0"/>
<path d="M477.2 97.1h0M476.6 97.4h0M477.2 99.7h0M476.6 90.9h0M476.6 98.3h0M476.6 91.3h0M477.0 106.1h0M476.7 95.7h0" stroke="#e02424"/>
<path d="M478.7 90.4h0M478.7 92.7h0M478.5 98.6h0M478.2 104.1h0M478.6 96.6h0M478.2 94.3h0M478.7 94.8h0M478.5 93.5h0" stroke="#1e1ec0"/>
<path d="M478.9 93.9h0M479.3 96.3h0M479.1 95.2h0M478.9 96.7h0M479.7 105.9h0M479.2 90.4h0M479.2 93.4h0M479.2 95.2h0" stroke="#e02424"/>
<path d="M481.5 94.5h0M482.1 96.8h0M482.1 101.5h0M481.3 89.4h0M481.9 101.6h0M481.3 102.7h0M481.7 96.7h0M481.4 94.4h0" stroke="#1e1ec0"/>
<path d="M482.6 96.1h0M482.6 100.1h0M482.4 96.8h0M482.4 91.6h0M482.8 96.8h0M482.6 90.7h0M482.5 103.1h0M482.7 95.1h0" stroke="#e02424"/>
<path d="M484.3 99.1h0M484.5 97.5h0M483.9 95.3h0M483.8 97.4h0M484.5 100.1h0M484.3 94.7h0M484.0 100.4h0M484.3 90.3h0" stroke="#1e1ec0"/>
<path d="M485.2 96.9h0M484.7 96.5h0M484.7 93.2h0M485.1 99.2h0M484.9 96.4h0M484.9 88.3h0M484.6 98.0h0M484.6 97.3h0" stroke="#e02424"/>
<path d="M486.7 90.8h0M486.4 95.5h0M486.4 96.9h0M486.1 99.1h0M486.2 95.9h0M486.3 92.4h0M486.7 98.4h0M486.8 98.8h0" stroke="#1e1ec0"/>
<path d="M487.4 98.6h0M487.5 97.6h0M487.6 99.7h0M487.6 96.5h0M487.5 102.6h0M487.7 101.5h0M487.5 101.3h0M487.7 98.5h0" stroke="#e02424"/>
<text x="509.35 515.35 520.35 525.35 528.35 534.35 538.35 540.35 546.35" y="72.50" class="st">Factor 10</text>
<rect x="510.5" y="78.8" width="42.00" height="32.90" fill="none" stroke="#8c8c8c"/>
<text transform="translate(507.90,81.40) scale(1.0,1)" class="sl" text-anchor="end">500</text>
<text transform="translate(507.90,97.85) scale(1.0,1)" class="sl" text-anchor="end">0</text>
<text transform="translate(507.90,114.30) scale(1.0,1)" class="sl" text-anchor="end">-500</text>
<text transform="translate(513.36,120.50) scale(1.0,1)" class="sl" text-anchor="middle">0</text>
<line x1="514.5" y1="111.7" x2="514.5" y2="110.2" stroke="#8c8c8c"/>
<text transform="translate(530.16,120.50) scale(1.0,1)" class="sl" text-anchor="middle">50</text>
<line x1="531.5" y1="111.7" x2="531.5" y2="110.2" stroke="#8c8c8c"/>
<text transform="translate(546.96,120.50) scale(1.0,1)" class="sl" text-anchor="middle">100</text>
<line x1="547.5" y1="111.7" x2="547.5" y2="110.2" stroke="#8c8c8c"/>
<path d="M512.7 91.4h0M512.5 95.1h0M512.6 93.8h0M512.3 93.1h0M512.1 95.0h0M512.5 93.3h0M512.6 94.6h0M512.4 94.7h0" stroke="#1e1ec0"/>
<path d="M513.4 95.2h0M513.7 93.7h0M513.5 94.7h0M513.6 93.8h0M513.4 94.2h0M513.5 93.5h0M513.2 94.2h0M513.5 95.0h0M512.5 85.0h0" stroke="#e02424"/>
<path d="M514.5 92.0h0M514.1 93.4h0M513.8 94.8h0M514.3 94.1h0M514.2 94.6h0M513.9 94.5h0M514.3 95.0h0M514.4 95.2h0" stroke="#1e1ec0"/>
<path d="M515.2 94.4h0M514.8 95.0h0M514.9 94.7h0M515.1 94.7h0M515.0 94.3h0M515.0 94.4h0M514.8 94.0h0M514.7 94.2h0" stroke="#e02424"/>
<path d="M515.9 94.2h0M515.7 93.9h0M515.6 94.4h0M516.2 94.3h0M515.7 94.0h0M515.7 94.4h0M516.1 95.5h0M515.8 94.5h0" stroke="#1e1ec0"/>
<path d="M517.0 93.7h0M516.4 95.6h0M516.3 94.3h0M516.9 94.2h0M516.3 94.0h0M516.2 95.5h0M516.6 95.1h0M516.8 94.8h0" stroke="#e02424"/>
<path d="M518.4 94.5h0M518.5 94.8h0M517.9 94.7h0M518.3 94.1h0M517.9 94.5h0M517.8 94.9h0M518.6 96.2h0M518.1 94.8h0" stroke="#1e1ec0"/>
<path d="M518.6 95.9h0M519.4 94.8h0M519.2 95.2h0M519.1 93.5h0M518.9 94.7h0M519.2 94.2h0M518.8 94.8h0M518.9 93.9h0" stroke="#e02424"/>
<path d="M521.5 94.0h0M521.3 95.4h0M521.4 94.9h0M521.1 94.2h0M521.5 94.5h0M521.7 94.4h0M521.5 94.3h0M521.3 95.1h0" stroke="#1e1ec0"/>
<path d="M522.5 95.1h0M522.6 95.1h0M521.8 94.3h0M522.2 94.3h0M522.0 94.2h0M522.1 94.5h0M521.8 94.8h0M521.8 94.9h0" stroke="#e02424"/>
<path d="M523.7 94.3h0M523.7 95.0h0M524.1 94.3h0M523.7 94.7h0M524.0 93.3h0M523.6 94.0h0M524.2 95.1h0M524.0 94.4h0" stroke="#1e1ec0"/>
<path d="M524.8 93.1h0M524.8 94.3h0M525.0 94.6h0M524.5 95.0h0M524.8 93.9h0M524.3 94.6h0M525.1 94.3h0M524.3 95.5h0" stroke="#e02424"/>
<path d="M525.9 96.0h0M526.3 95.0h0M526.3 94.6h0M526.5 93.9h0M526.0 95.5h0M526.1 93.9h0M526.6 95.3h0M526.4 93.7h0" stroke="#1e1ec0"/>
<path d="M526.8 94.1h0M526.8 95.2h0M527.3 95.7h0M526.9 93.9h0M527.0 94.5h0M527.1 95.3h0M527.3 94.8h0M527.4 94.2h0" stroke="#e02424"/>
<path d="M529.5 93.5h0M529.5 94.0h0M529.0 95.0h0M529.6 93.6h0M529.9 94.1h0M529.6 95.2h0M529.8 93.9h0M529.7 94.5h0" stroke="#1e1ec0"/>
<path d="M530.6 93.8h0M530.1 94.4h0M530.0 94.4h0M530.2 94.1h0M529.9 95.3h0M530.3 93.9h0M530.2 92.8h0M530.7 94.9h0" stroke="#e02424"/>
<path d="M532.3 93.6h0M532.3 94.8h0M532.3 95.3h0M532.1 93.8h0M532.3 94.4h0M532.1 95.1h0M531.8 94.5h0M532.0 94.2h0" stroke="#1e1ec0"/>
<path d="M533.1 94.9h0M533.0 94.7h0M532.4 93.5h0M533.0 95.0h0M533.0 94.4h0M533.0 94.8h0M532.4 95.5h0M532.6 94.8h0" stroke="#e02424"/>
<path d="M534.6 95.0h0M534.2 94.8h0M534.7 94.4h0M534.3 94.4h0M534.5 93.9h0M534.3 94.7h0M534.0 94.9h0M534.0 94.2h0" stroke="#1e1ec0"/>
<path d="M534.8 94.7h0M535.2 92.9h0M535.4 94.6h0M535.5 94.5h0M535.5 94.8h0M535.4 94.8h0M534.9 93.7h0M534.8 93.7h0" stroke="#e02424"/>
<path d="M537.3 94.0h0M537.6 95.2h0M537.4 93.2h0M537.9 95.2h0M537.2 94.0h0M537.4 95.1h0M537.3 95.6h0M537.7 94.3h0" stroke="#1e1ec0"/>
<path d="M537.9 94.3h0M538.7 93.6h0M538.6 95.1h0M538.7 93.9h0M538.4 95.0h0M537.9 94.7h0M538.3 94.8h0M538.0 95.5h0" stroke="#e02424"/>
<path d="M539.7 95.0h0M540.2 94.3h0M539.8 94.8h0M539.8 95.1h0M540.3 94.9h0M540.0 93.9h0M539.8 94.3h0M540.1 94.9h0" stroke="#1e1ec0"/>
<path d="M540.7 94.3h0M541.2 93.8h0M541.0 94.3h0M540.8 94.3h0M540.8 94.9h0M541.0 94.2h0M540.7 95.1h0M540.4 94.3h0" stroke="#e02424"/>
<path d="M542.7 94.9h0M542.1 95.1h0M542.7 94.3h0M542.3 94.5h0M542.1 94.6h0M542.1 94.6h0M542.2 95.1h0M542.6 95.0h0" stroke="#1e1ec0"/>
<path d="M543.4 94.6h0M543.0 94.8h0M543.5 93.4h0M543.1 94.7h0M543.5 95.1h0M543.5 94.7h0M543.0 95.0h0M543.1 95.5h0" stroke="#e02424"/>
<path d="M545.4 94.5h0M545.9 94.3h0M546.0 94.3h0M546.0 94.1h0M545.2 94.7h0M545.6 93.5h0M545.9 95.7h0M545.5 94.3h0" stroke="#1e1ec0"/>
<path d="M546.0 96.1h0M546.8 93.9h0M546.5 94.7h0M546.6 94.9h0M546.8 94.5h0M546.4 94.2h0M546.3 93.2h0M546.2 94.8h0" stroke="#e02424"/>
<path d="M548.5 91.9h0M547.9 94.3h0M548.1 94.5h0M548.2 95.0h0M547.9 92.8h0M548.2 95.9h0M547.8 95.1h0M548.4 95.2h0" stroke="#1e1ec0"/>
<path d="M549.2 95.1h0M549.1 94.6h0M549.0 94.8h0M549.1 95.0h0M549.1 95.6h0M548.6 95.2h0M549.2 93.4h0M549.1 94.4h0" stroke="#e02424"/>
<path d="M550.7 93.9h0M550.5 94.8h0M550.8 94.6h0M550.4 94.4h0M550.6 95.5h0M550.8 95.5h0M550.5 94.1h0M550.8 96.1h0" stroke="#1e1ec0"/>
<path d="M551.5 94.3h0M551.4 94.5h0M551.5 94.7h0M551.5 94.0h0M551.2 95.1h0M551.0 94.3h0M551.5 94.8h0M551.7 94.5h0" stroke="#e02424"/>
<text x="573.00 579.00 584.00 589.00 592.00 598.00 602.00 604.00 610.00" y="72.50" class="st">Factor 11</text>
<rect x="574" y="78.8" width="42.30" height="32.90" fill="none" stroke="#8c8c8c"/>
<text transform="translate(571.40,81.40) scale(1.0,1)" class="sl" text-anchor="end">500</text>
<text transform="translate(571.40,97.85) scale(1.0,1)" class="sl" text-anchor="end">0</text>
<text transform="translate(571.40,114.30) scale(1.0,1)" class="sl" text-anchor="end">-500</text>
<text transform="translate(576.88,120.50) scale(1.0,1)" class="sl" text-anchor="middle">0</text>
<line x1="577.5" y1="111.7" x2="577.5" y2="110.2" stroke="#8c8c8c"/>
<text transform="translate(593.80,120.50) scale(1.0,1)" class="sl" text-anchor="middle">50</text>
<line x1="594.5" y1="111.7" x2="594.5" y2="110.2" stroke="#8c8c8c"/>
<text transform="translate(610.72,120.50) scale(1.0,1)" class="sl" text-anchor="middle">100</text>
<line x1="611.5" y1="111.7" x2="611.5" y2="110.2" stroke="#8c8c8c"/>
<path d="M575.7 94.9h0M576.4 94.7h0M576.0 95.0h0M576.0 95.6h0M576.1 95.7h0M576.4 94.4h0M575.9 95.1h0M576.2 94.6h0" stroke="#1e1ec0"/>
<path d="M576.7 94.5h0M576.7 95.2h0M576.7 95.3h0M576.5 95.0h0M576.8 95.3h0M576.4 95.1h0M576.7 95.9h0M576.5 95.3h0" stroke="#e02424"/>
<path d="M577.6 94.2h0M577.4 94.5h0M577.7 94.3h0M577.5 94.0h0M577.4 94.7h0M577.9 94.2h0M577.5 95.6h0M577.8 96.1h0" stroke="#1e1ec0"/>
<path d="M578.7 94.9h0M578.3 95.6h0M578.1 94.9h0M578.2 95.0h0M578.1 95.0h0M578.6 94.6h0M578.4 94.6h0M578.6 95.0h0" stroke="#e02424"/>
<path d="M579.3 94.8h0M579.5 94.5h0M579.1 95.3h0M579.7 95.4h0M579.2 94.4h0M579.0 94.4h0M579.2 95.4h0M579.4 94.3h0" stroke="#1e1ec0"/>
<path d="M580.0 95.3h0M580.6 94.7h0M580.1 95.2h0M579.9 94.9h0M580.4 95.7h0M580.1 94.8h0M580.6 95.1h0M580.3 94.8h0" stroke="#e02424"/>
<path d="M581.6 94.6h0M581.4 94.9h0M581.9 95.8h0M581.4 95.1h0M581.4 95.2h0M581.4 94.6h0M582.1 96.3h0M581.4 95.3h0" stroke="#1e1ec0"/>
<path d="M582.3 95.4h0M582.6 95.0h0M582.8 95.1h0M582.6 95.6h0M582.4 95.2h0M582.2 95.2h0M582.2 94.8h0M582.3 95.9h0" stroke="#e02424"/>
<path d="M585.3 94.2h0M585.4 94.6h0M585.2 95.8h0M585.3 94.4h0M585.3 95.5h0M585.2 93.8h0M584.6 94.6h0M584.6 94.1h0" stroke="#1e1ec0"/>
<path d="M586.1 94.3h0M586.1 95.7h0M586.0 95.0h0M585.8 95.4h0M586.0 95.2h0M585.5 95.3h0M586.2 94.4h0M585.6 95.5h0" stroke="#e02424"/>
<path d="M587.7 94.8h0M587.2 94.3h0M587.7 94.2h0M587.7 95.4h0M587.8 94.2h0M587.7 95.0h0M587.7 95.3h0M587.6 95.4h0M587.2 85.4h0" stroke="#1e1ec0"/>
<path d="M588.6 95.4h0M588.1 94.4h0M588.7 95.6h0M588.6 94.8h0M588.6 95.1h0M588.6 95.2h0M588.0 95.9h0M588.0 95.6h0" stroke="#e02424"/>
<path d="M590.2 95.2h0M589.9 95.5h0M589.7 94.5h0M589.5 94.5h0M590.3 95.7h0M589.5 94.5h0M589.5 94.1h0M589.5 95.1h0" stroke="#1e1ec0"/>
<path d="M591.1 95.0h0M591.0 95.6h0M591.0 95.3h0M591.0 95.9h0M590.5 95.2h0M591.0 94.9h0M590.4 95.2h0M590.3 95.9h0" stroke="#e02424"/>
<path d="M593.4 94.6h0M593.0 95.0h0M593.1 94.8h0M593.3 94.3h0M593.3 94.0h0M593.5 95.2h0M593.3 95.9h0M593.5 94.9h0" stroke="#1e1ec0"/>
<path d="M594.2 95.4h0M594.1 95.8h0M593.8 95.0h0M593.8 95.3h0M593.6 95.1h0M593.8 95.4h0M593.8 94.4h0M593.9 94.7h0" stroke="#e02424"/>
<path d="M595.8 94.5h0M595.8 94.5h0M595.4 95.1h0M596.0 94.4h0M595.3 95.3h0M595.6 95.4h0M595.4 95.6h0M595.6 94.7h0" stroke="#1e1ec0"/>
<path d="M596.2 94.7h0M596.7 95.0h0M596.8 95.5h0M596.7 95.2h0M596.3 94.8h0M596.4 95.4h0M596.2 95.1h0M596.4 94.7h0" stroke="#e02424"/>
<path d="M598.1 94.3h0M598.1 94.6h0M598.2 95.0h0M598.2 94.7h0M597.8 94.5h0M597.6 93.7h0M598.1 94.7h0M597.9 95.5h0" stroke="#1e1ec0"/>
<path d="M598.4 95.5h0M598.8 95.2h0M598.9 94.1h0M598.5 95.1h0M599.1 95.5h0M598.8 94.8h0M598.9 95.6h0M599.0 95.0h0" stroke="#e02424"/>
<path d="M601.6 94.6h0M601.6 95.5h0M601.2 95.2h0M601.5 95.2h0M601.3 95.8h0M601.5 94.0h0M601.1 95.6h0M601.2 94.3h0" stroke="#1e1ec0"/>
<path d="M601.8 95.0h0M602.3 95.4h0M601.8 94.6h0M602.1 95.5h0M602.1 95.1h0M601.7 95.6h0M602.2 94.8h0M602.1 95.4h0" stroke="#e02424"/>
<path d="M603.7 95.9h0M603.4 94.8h0M603.5 94.8h0M603.8 94.9h0M604.0 94.5h0M603.5 94.3h0M603.4 95.9h0M603.9 95.0h0" stroke="#1e1ec0"/>
<path d="M604.5 94.8h0M604.6 94.6h0M604.4 95.7h0M604.9 95.5h0M604.5 94.7h0M604.8 95.4h0M604.9 94.8h0M604.4 95.4h0" stroke="#e02424"/>
<path d="M606.2 95.2h0M606.4 94.3h0M606.1 94.7h0M606.1 95.1h0M606.0 95.1h0M605.8 93.7h0M606.0 94.6h0M606.2 95.4h0" stroke="#1e1ec0"/>
<path d="M607.0 95.6h0M607.1 95.1h0M607.0 94.4h0M607.1 95.3h0M606.9 96.2h0M606.7 95.4h0M606.6 94.9h0M606.7 94.9h0" stroke="#e02424"/>
<path d="M609.5 95.2h0M609.7 94.5h0M609.1 95.0h0M609.1 94.9h0M609.2 94.5h0M609.4 94.6h0M609.3 94.2h0M609.2 95.2h0" stroke="#1e1ec0"/>
<path d="M609.8 95.1h0M610.1 95.1h0M610.6 95.1h0M610.0 95.2h0M610.1 95.1h0M610.2 95.2h0M609.9 94.9h0M610.1 95.1h0" stroke="#e02424"/>
<path d="M612.2 94.7h0M611.6 94.3h0M612.1 95.4h0M611.8 95.2h0M611.9 94.1h0M612.1 95.4h0M612.1 94.0h0M611.6 94.8h0" stroke="#1e1ec0"/>
<path d="M612.5 95.3h0M612.6 95.0h0M613.0 95.5h0M612.8 95.1h0M613.0 95.8h0M613.0 95.3h0M612.6 95.2h0M613.0 94.7h0" stroke="#e02424"/>
<path d="M614.0 95.5h0M614.1 95.5h0M614.2 94.5h0M614.0 94.7h0M614.3 94.7h0M614.1 95.3h0M613.9 95.7h0M614.7 94.5h0" stroke="#1e1ec0"/>
<path d="M615.3 94.5h0M615.1 95.3h0M615.3 95.5h0M614.8 94.9h0M615.3 95.5h0M615.1 95.1h0M615.1 95.2h0M614.9 94.9h0" stroke="#e02424"/>
<text x="635.85 641.85 646.85 651.85 654.85 660.85 664.85 666.85 672.85" y="72.50" class="st">Factor 12</text>
<rect x="637.5" y="78.8" width="41.00" height="32.90" fill="none" stroke="#8c8c8c"/>
<text transform="translate(634.90,81.40) scale(1.0,1)" class="sl" text-anchor="end">100</text>
<text transform="translate(634.90,97.85) scale(1.0,1)" class="sl" text-anchor="end">0</text>
<text transform="translate(634.90,114.30) scale(1.0,1)" class="sl" text-anchor="end">-100</text>
<text transform="translate(640.28,120.50) scale(1.0,1)" class="sl" text-anchor="middle">0</text>
<line x1="641.5" y1="111.7" x2="641.5" y2="110.2" stroke="#8c8c8c"/>
<text transform="translate(656.68,120.50) scale(1.0,1)" class="sl" text-anchor="middle">50</text>
<line x1="657.5" y1="111.7" x2="657.5" y2="110.2" stroke="#8c8c8c"/>
<text transform="translate(673.08,120.50) scale(1.0,1)" class="sl" text-anchor="middle">100</text>
<line x1="674.5" y1="111.7" x2="674.5" y2="110.2" stroke="#8c8c8c"/>
<path d="M639.2 92.0h0M639.8 91.2h0M639.5 91.5h0M639.6 90.1h0M639.5 90.3h0M639.3 92.6h0M639.8 91.6h0M639.8 93.0h0" stroke="#1e1ec0"/>
<path d="M640.4 96.4h0M639.9 94.2h0M640.5 99.1h0M640.4 100.7h0M640.6 95.6h0M640.0 96.4h0M639.9 103.6h0M640.3 102.9h0" stroke="#e02424"/>
<path d="M641.1 89.7h0M641.1 89.2h0M640.9 91.5h0M640.7 93.4h0M640.9 89.4h0M640.9 88.5h0M641.1 89.5h0M640.9 92.7h0" stroke="#1e1ec0"/>
<path d="M642.2 96.2h0M642.2 94.2h0M641.7 93.7h0M641.9 95.8h0M642.2 97.6h0M642.2 96.7h0M641.9 101.0h0M641.8 103.4h0" stroke="#e02424"/>
<path d="M642.6 91.2h0M643.1 90.9h0M642.6 91.0h0M642.4 90.1h0M642.5 93.0h0M642.5 90.1h0M642.8 89.5h0M643.1 93.2h0" stroke="#1e1ec0"/>
<path d="M643.1 97.1h0M643.3 95.4h0M643.7 99.0h0M643.1 100.9h0M643.6 94.0h0M643.5 98.3h0M643.8 102.7h0M643.4 102.9h0" stroke="#e02424"/>
<path d="M645.1 88.0h0M645.0 91.6h0M644.6 91.2h0M645.4 92.4h0M645.4 92.3h0M644.7 93.2h0M644.8 91.0h0M644.9 91.6h0" stroke="#1e1ec0"/>
<path d="M645.8 99.5h0M645.9 93.3h0M646.0 98.4h0M646.0 93.0h0M645.5 97.5h0M645.6 93.5h0M646.1 103.7h0M645.4 102.7h0" stroke="#e02424"/>
<path d="M648.3 93.9h0M648.3 92.3h0M647.9 90.6h0M648.5 92.3h0M648.0 92.5h0M648.4 89.4h0M648.0 89.7h0M648.5 93.6h0" stroke="#1e1ec0"/>
<path d="M648.5 93.7h0M649.1 95.6h0M649.1 95.9h0M648.8 97.7h0M649.2 98.8h0M648.6 99.3h0M649.0 104.0h0M649.1 103.5h0" stroke="#e02424"/>
<path d="M650.6 92.8h0M650.9 91.4h0M650.5 91.2h0M650.5 90.6h0M650.3 90.9h0M650.5 91.3h0M650.9 91.6h0M650.5 91.2h0" stroke="#1e1ec0"/>
<path d="M651.4 98.6h0M651.5 97.5h0M651.4 92.7h0M651.6 99.3h0M651.0 98.3h0M651.3 96.6h0M651.3 103.1h0M651.0 103.8h0" stroke="#e02424"/>
<path d="M653.1 92.8h0M652.8 91.2h0M653.2 91.0h0M652.9 88.4h0M653.1 89.9h0M652.6 87.4h0M652.5 90.8h0M653.1 91.7h0" stroke="#1e1ec0"/>
<path d="M654.1 98.7h0M653.7 100.0h0M653.5 98.5h0M653.9 98.4h0M653.8 95.8h0M654.0 101.5h0M653.8 101.4h0M653.8 102.1h0" stroke="#e02424"/>
<path d="M656.0 88.7h0M655.7 88.8h0M656.3 91.4h0M656.1 89.8h0M656.3 92.1h0M656.2 90.8h0M656.0 91.7h0M655.8 91.0h0" stroke="#1e1ec0"/>
<path d="M656.5 96.2h0M656.8 95.7h0M656.7 95.9h0M656.6 98.8h0M657.2 98.1h0M657.1 92.9h0M656.7 102.8h0M656.4 102.2h0" stroke="#e02424"/>
<path d="M658.4 89.4h0M658.7 92.6h0M658.8 91.6h0M658.4 90.2h0M658.8 94.4h0M658.2 93.9h0M658.8 91.0h0M658.1 90.3h0" stroke="#1e1ec0"/>
<path d="M659.3 96.7h0M659.1 97.0h0M659.6 97.5h0M659.6 97.3h0M659.4 93.3h0M659.5 99.8h0M659.0 102.4h0M659.1 102.0h0" stroke="#e02424"/>
<path d="M661.0 90.3h0M660.7 91.8h0M660.4 91.9h0M660.6 92.1h0M660.7 93.5h0M660.9 91.2h0M661.1 91.0h0M661.1 89.9h0M660.5 105.0h0" stroke="#1e1ec0"/>
<path d="M661.9 99.8h0M661.4 97.6h0M661.6 99.8h0M661.5 97.7h0M662.0 94.9h0M661.8 97.7h0M661.7 102.6h0M661.5 101.8h0" stroke="#e02424"/>
<path d="M664.3 92.8h0M663.9 89.4h0M664.1 91.8h0M664.2 90.6h0M663.5 90.9h0M663.8 91.0h0M663.9 90.8h0M663.9 94.0h0" stroke="#1e1ec0"/>
<path d="M664.5 95.5h0M665.0 96.0h0M664.7 95.1h0M665.1 96.9h0M664.5 93.4h0M664.5 97.1h0M664.4 104.1h0M664.4 103.0h0" stroke="#e02424"/>
<path d="M666.5 91.1h0M666.4 92.0h0M666.3 90.9h0M666.6 91.1h0M666.2 90.3h0M666.7 89.5h0M666.1 91.6h0M666.2 91.7h0" stroke="#1e1ec0"/>
<path d="M667.5 91.2h0M667.3 93.7h0M667.4 96.9h0M666.7 95.7h0M666.9 96.1h0M667.1 94.0h0M666.9 103.1h0M667.1 104.0h0" stroke="#e02424"/>
<path d="M668.6 91.5h0M668.7 87.8h0M668.6 90.1h0M669.0 90.5h0M668.9 92.1h0M668.6 92.2h0M668.4 91.2h0M668.5 94.6h0" stroke="#1e1ec0"/>
<path d="M669.0 94.9h0M669.2 96.7h0M669.5 94.3h0M669.8 91.8h0M669.2 93.2h0M669.0 100.2h0M669.7 102.5h0M669.5 104.1h0" stroke="#e02424"/>
<path d="M671.5 90.3h0M672.0 91.8h0M671.8 90.6h0M671.7 88.6h0M671.4 92.4h0M671.5 91.8h0M671.8 90.5h0M671.9 92.4h0" stroke="#1e1ec0"/>
<path d="M672.7 93.1h0M672.2 97.7h0M672.3 96.8h0M672.5 100.9h0M672.6 96.6h0M672.7 97.4h0M672.6 102.5h0M672.3 103.1h0" stroke="#e02424"/>
<path d="M673.9 90.8h0M673.8 92.4h0M674.5 90.6h0M674.0 89.3h0M674.4 90.5h0M674.3 90.1h0M674.6 93.9h0M673.8 90.3h0" stroke="#1e1ec0"/>
<path d="M674.6 95.1h0M674.9 94.1h0M674.6 95.1h0M675.4 95.8h0M674.6 95.9h0M674.6 92.5h0M675.3 103.1h0M674.8 103.8h0" stroke="#e02424"/>
<path d="M676.5 91.5h0M676.7 92.3h0M676.5 92.9h0M676.2 89.7h0M676.9 90.1h0M676.4 91.2h0M676.7 91.0h0M676.5 91.1h0" stroke="#1e1ec0"/>
<path d="M676.9 97.7h0M677.2 95.9h0M677.5 94.9h0M677.5 95.3h0M677.3 94.5h0M677.4 94.9h0M677.1 103.9h0M677.3 101.2h0" stroke="#e02424"/>
<text x="319.35 325.35 330.35 335.35 338.35 344.35 348.35 350.35 356.35" y="132.20" class="st">Factor 13</text>
<rect x="320.5" y="138.5" width="42.00" height="33.00" fill="none" stroke="#8c8c8c"/>
<text transform="translate(317.90,141.10) scale(1.0,1)" class="sl" text-anchor="end">100</text>
<text transform="translate(317.90,157.60) scale(1.0,1)" class="sl" text-anchor="end">0</text>
<text transform="translate(317.90,174.10) scale(1.0,1)" class="sl" text-anchor="end">-100</text>
<text transform="translate(323.36,180.30) scale(1.0,1)" class="sl" text-anchor="middle">0</text>
<line x1="324.5" y1="171.5" x2="324.5" y2="170.0" stroke="#8c8c8c"/>
<text transform="translate(340.16,180.30) scale(1.0,1)" class="sl" text-anchor="middle">50</text>
<line x1="341.5" y1="171.5" x2="341.5" y2="170.0" stroke="#8c8c8c"/>
<text transform="translate(356.96,180.30) scale(1.0,1)" class="sl" text-anchor="middle">100</text>
<line x1="357.5" y1="171.5" x2="357.5" y2="170.0" stroke="#8c8c8c"/>
<path d="M322.1 150.2h0M322.8 148.8h0M322.2 151.5h0M322.2 148.7h0M322.2 149.1h0M322.9 147.5h0M322.3 152.2h0M322.3 152.7h0" stroke="#1e1ec0"/>
<path d="M323.0 153.1h0M323.1 153.9h0M323.1 156.0h0M323.0 154.5h0M323.4 154.7h0M323.4 152.4h0M323.1 155.5h0M323.7 158.8h0" stroke="#e02424"/>
<path d="M324.0 149.9h0M323.9 150.1h0M324.4 149.2h0M324.6 150.9h0M323.8 152.0h0M324.0 151.7h0M324.0 151.3h0M324.3 151.2h0" stroke="#1e1ec0"/>
<path d="M325.4 151.5h0M324.9 153.9h0M324.6 155.6h0M324.7 154.8h0M325.0 152.3h0M325.4 155.8h0M324.8 152.8h0M324.8 160.6h0" stroke="#e02424"/>
<path d="M326.1 150.9h0M326.3 150.4h0M326.1 153.2h0M325.8 150.2h0M325.6 151.8h0M325.5 153.0h0M326.2 151.3h0M325.7 149.8h0" stroke="#1e1ec0"/>
<path d="M326.5 154.8h0M326.7 158.0h0M326.2 155.8h0M326.4 157.8h0M326.8 154.2h0M326.2 154.1h0M326.3 157.0h0M326.5 162.7h0" stroke="#e02424"/>
<path d="M328.3 151.4h0M328.5 149.1h0M328.6 150.2h0M327.8 149.2h0M328.3 149.5h0M327.8 151.0h0M328.0 151.1h0M328.0 151.8h0" stroke="#1e1ec0"/>
<path d="M328.6 154.9h0M329.2 153.5h0M329.3 152.7h0M329.4 153.9h0M329.4 154.8h0M328.7 153.1h0M329.3 153.2h0M329.2 159.5h0" stroke="#e02424"/>
<path d="M331.4 151.6h0M331.7 151.0h0M331.1 150.4h0M331.5 151.8h0M331.2 151.3h0M331.6 150.3h0M331.4 150.1h0M331.1 151.7h0" stroke="#1e1ec0"/>
<path d="M332.0 156.1h0M332.4 153.0h0M332.5 153.8h0M332.4 153.9h0M331.8 153.5h0M331.9 152.6h0M332.3 153.1h0M332.4 159.6h0" stroke="#e02424"/>
<path d="M334.2 150.4h0M334.3 152.1h0M333.7 148.8h0M334.2 152.9h0M334.3 151.9h0M334.1 152.7h0M334.0 150.1h0M334.1 151.4h0" stroke="#1e1ec0"/>
<path d="M334.5 157.5h0M334.7 153.6h0M335.1 151.7h0M334.9 153.0h0M334.6 155.4h0M334.6 151.7h0M334.6 153.4h0M334.4 159.1h0" stroke="#e02424"/>
<path d="M336.2 152.6h0M336.7 151.0h0M336.3 151.0h0M336.6 148.3h0M336.3 152.3h0M336.1 150.9h0M335.9 150.7h0M336.7 152.1h0" stroke="#1e1ec0"/>
<path d="M336.7 151.7h0M337.3 155.6h0M337.0 154.3h0M336.7 153.1h0M336.8 153.9h0M337.1 155.5h0M336.7 155.8h0M336.6 158.7h0" stroke="#e02424"/>
<path d="M339.3 151.0h0M339.5 150.4h0M339.3 151.4h0M339.2 151.3h0M339.9 151.1h0M339.5 151.5h0M339.3 152.6h0M339.4 149.8h0" stroke="#1e1ec0"/>
<path d="M340.2 154.4h0M340.4 151.5h0M340.2 155.7h0M339.9 153.5h0M340.3 156.9h0M340.1 155.1h0M339.9 154.8h0M340.5 162.9h0" stroke="#e02424"/>
<path d="M341.9 149.7h0M341.6 150.2h0M342.0 152.0h0M341.9 152.9h0M341.9 151.2h0M342.3 151.7h0M342.0 151.9h0M341.9 151.3h0" stroke="#1e1ec0"/>
<path d="M342.8 154.4h0M342.7 156.4h0M343.1 155.7h0M342.6 151.4h0M342.4 153.5h0M342.5 151.4h0M342.7 151.8h0M342.8 162.7h0" stroke="#e02424"/>
<path d="M344.6 149.7h0M344.5 152.1h0M344.5 151.7h0M344.5 149.6h0M344.7 151.1h0M344.1 154.0h0M344.2 150.0h0M343.9 150.2h0" stroke="#1e1ec0"/>
<path d="M345.0 150.6h0M345.3 153.2h0M344.7 152.6h0M345.4 151.4h0M345.2 155.0h0M344.9 154.8h0M345.5 150.4h0M345.6 159.1h0" stroke="#e02424"/>
<path d="M347.8 148.4h0M347.9 153.6h0M347.9 150.7h0M347.4 152.9h0M347.6 148.0h0M347.3 150.9h0M347.3 147.5h0M347.5 150.6h0" stroke="#1e1ec0"/>
<path d="M348.1 154.3h0M348.2 154.7h0M348.4 154.1h0M348.0 153.9h0M348.4 154.0h0M348.1 155.4h0M348.1 155.1h0M347.9 159.6h0" stroke="#e02424"/>
<path d="M349.8 152.0h0M350.1 151.8h0M350.4 149.3h0M349.7 147.6h0M349.8 150.5h0M350.1 151.4h0M350.0 149.2h0M349.8 150.5h0" stroke="#1e1ec0"/>
<path d="M350.6 156.3h0M351.0 155.0h0M350.5 154.1h0M350.6 154.3h0M351.1 155.1h0M351.1 154.8h0M350.6 153.7h0M350.7 160.3h0" stroke="#e02424"/>
<path d="M352.2 149.0h0M352.0 147.6h0M352.3 147.9h0M352.5 151.8h0M352.5 146.8h0M352.8 149.8h0M352.3 152.3h0M352.2 150.3h0" stroke="#1e1ec0"/>
<path d="M353.1 152.9h0M353.5 154.3h0M353.3 152.8h0M353.0 154.5h0M353.3 153.7h0M353.1 153.7h0M352.9 154.6h0M353.2 161.2h0" stroke="#e02424"/>
<path d="M355.9 150.2h0M355.8 150.0h0M355.9 149.7h0M355.7 147.1h0M355.6 150.9h0M355.3 148.9h0M355.6 150.1h0M355.8 150.4h0" stroke="#1e1ec0"/>
<path d="M356.3 152.7h0M356.1 157.2h0M356.0 152.8h0M356.7 154.3h0M356.6 153.2h0M356.4 151.0h0M356.7 153.8h0M356.7 160.8h0" stroke="#e02424"/>
<path d="M358.2 152.7h0M358.0 149.0h0M358.1 149.4h0M358.3 152.1h0M357.8 151.5h0M358.3 152.2h0M358.1 151.7h0M357.9 152.1h0" stroke="#1e1ec0"/>
<path d="M358.9 153.7h0M359.2 155.2h0M359.1 153.7h0M358.7 151.3h0M358.9 154.3h0M358.9 155.3h0M358.7 153.0h0M359.1 160.1h0" stroke="#e02424"/>
<path d="M360.2 151.4h0M360.9 150.7h0M360.8 149.6h0M360.2 154.8h0M360.4 150.4h0M360.2 153.1h0M360.4 150.0h0M360.1 152.2h0" stroke="#1e1ec0"/>
<path d="M361.7 155.6h0M361.4 151.3h0M360.8 154.4h0M361.2 157.0h0M360.9 153.3h0M361.4 155.6h0M360.9 156.1h0M361.6 158.9h0" stroke="#e02424"/>
<text x="382.35 388.35 393.35 398.35 401.35 407.35 411.35 413.35 419.35" y="132.20" class="st">Factor 14</text>
<rect x="383.5" y="138.5" width="42.00" height="33.00" fill="none" stroke="#8c8c8c"/>
<text transform="translate(380.90,141.10) scale(1.0,1)" class="sl" text-anchor="end">50</text>
<text transform="translate(380.90,157.60) scale(1.0,1)" class="sl" text-anchor="end">0</text>
<text transform="translate(380.90,174.10) scale(1.0,1)" class="sl" text-anchor="end">-50</text>
<text transform="translate(386.36,180.30) scale(1.0,1)" class="sl" text-anchor="middle">0</text>
<line x1="387.5" y1="171.5" x2="387.5" y2="170.0" stroke="#8c8c8c"/>
<text transform="translate(403.16,180.30) scale(1.0,1)" class="sl" text-anchor="middle">50</text>
<line x1="404.5" y1="171.5" x2="404.5" y2="170.0" stroke="#8c8c8c"/>
<text transform="translate(419.96,180.30) scale(1.0,1)" class="sl" text-anchor="middle">100</text>
<line x1="420.5" y1="171.5" x2="420.5" y2="170.0" stroke="#8c8c8c"/>
<path d="M385.7 145.7h0M385.8 150.7h0M385.9 144.7h0M385.9 147.8h0M385.1 155.9h0M385.4 158.7h0M385.3 160.0h0M385.5 159.9h0" stroke="#1e1ec0"/>
<path d="M386.0 149.6h0M386.7 157.8h0M386.3 152.9h0M386.0 156.7h0M386.0 162.8h0M385.9 155.0h0M385.9 154.1h0M385.9 152.9h0" stroke="#e02424"/>
<path d="M387.5 147.4h0M386.8 148.8h0M386.9 147.5h0M387.0 152.7h0M387.1 151.6h0M387.5 157.2h0M386.8 159.4h0M387.4 159.8h0" stroke="#1e1ec0"/>
<path d="M387.7 154.0h0M388.0 163.2h0M388.0 155.8h0M387.9 155.6h0M388.1 161.8h0M388.0 152.1h0M388.3 150.7h0M388.0 155.3h0" stroke="#e02424"/>
<path d="M388.8 157.4h0M388.8 160.5h0M388.8 151.0h0M388.6 145.5h0M388.5 151.5h0M389.0 161.8h0M389.1 163.4h0M388.5 159.8h0" stroke="#1e1ec0"/>
<path d="M390.0 154.1h0M389.6 152.5h0M389.8 147.0h0M389.5 153.6h0M389.4 167.0h0M389.5 162.5h0M389.8 159.2h0M389.9 150.2h0" stroke="#e02424"/>
<path d="M391.1 154.3h0M391.5 162.0h0M391.0 159.2h0M391.5 156.8h0M390.9 156.8h0M391.1 161.6h0M391.3 157.8h0M391.3 160.6h0" stroke="#1e1ec0"/>
<path d="M392.4 153.7h0M391.7 154.4h0M392.4 150.2h0M391.6 147.3h0M391.9 161.8h0M391.9 148.2h0M391.9 143.1h0M392.2 158.1h0" stroke="#e02424"/>
<path d="M394.5 153.6h0M394.0 146.4h0M394.8 146.0h0M394.3 157.8h0M394.0 154.2h0M394.5 159.2h0M394.2 159.6h0M394.5 160.7h0" stroke="#1e1ec0"/>
<path d="M395.3 162.0h0M395.2 154.8h0M395.3 148.4h0M395.6 162.2h0M394.8 154.9h0M395.0 151.3h0M395.4 154.5h0M395.6 157.4h0" stroke="#e02424"/>
<path d="M397.1 162.4h0M397.0 156.1h0M396.6 159.6h0M397.2 157.4h0M396.8 154.8h0M397.0 157.7h0M397.0 157.4h0M396.6 164.5h0" stroke="#1e1ec0"/>
<path d="M397.3 152.2h0M398.0 159.9h0M397.9 156.6h0M398.1 158.0h0M397.8 148.8h0M397.7 154.3h0M398.1 160.2h0M397.7 152.3h0" stroke="#e02424"/>
<path d="M399.6 142.3h0M399.7 163.1h0M399.2 147.6h0M399.2 147.8h0M399.3 141.2h0M399.5 161.1h0M398.9 157.0h0M399.3 159.7h0" stroke="#1e1ec0"/>
<path d="M399.8 155.6h0M399.9 156.0h0M400.2 153.2h0M400.1 147.5h0M400.4 159.1h0M399.7 155.3h0M400.1 155.6h0M400.0 152.0h0" stroke="#e02424"/>
<path d="M402.8 154.4h0M402.7 142.4h0M402.3 146.4h0M402.4 154.0h0M402.1 147.5h0M402.7 157.1h0M402.9 161.2h0M402.9 158.2h0" stroke="#1e1ec0"/>
<path d="M403.4 158.0h0M403.5 153.7h0M402.9 158.4h0M403.6 154.8h0M403.0 163.7h0M403.6 157.3h0M402.9 153.2h0M403.7 166.4h0" stroke="#e02424"/>
<path d="M405.2 152.6h0M404.8 169.7h0M404.6 149.8h0M404.6 156.9h0M404.8 154.5h0M404.7 163.4h0M405.3 162.3h0M405.3 164.5h0" stroke="#1e1ec0"/>
<path d="M405.4 145.9h0M406.0 153.3h0M405.6 156.5h0M405.7 154.9h0M405.7 163.7h0M405.4 162.2h0M405.7 149.4h0M406.0 165.9h0" stroke="#e02424"/>
<path d="M407.1 152.3h0M407.1 150.4h0M407.0 152.0h0M407.5 145.8h0M407.6 154.1h0M407.1 157.2h0M407.2 157.6h0M407.6 159.7h0" stroke="#1e1ec0"/>
<path d="M408.1 163.2h0M408.2 160.5h0M408.4 156.2h0M407.9 157.1h0M408.3 159.3h0M408.5 156.9h0M408.2 149.9h0M408.0 166.0h0" stroke="#e02424"/>
<path d="M410.5 147.6h0M410.6 151.7h0M410.7 152.7h0M410.3 144.3h0M410.5 157.7h0M410.6 160.2h0M410.9 160.0h0M410.6 158.8h0" stroke="#1e1ec0"/>
<path d="M411.7 153.3h0M411.5 158.0h0M411.4 153.1h0M410.9 158.4h0M411.5 144.7h0M411.7 154.7h0M411.5 153.6h0M411.3 165.5h0" stroke="#e02424"/>
<path d="M413.3 147.3h0M413.0 157.0h0M412.7 149.2h0M413.4 160.8h0M413.1 152.0h0M412.8 160.4h0M413.2 163.6h0M412.9 156.6h0" stroke="#1e1ec0"/>
<path d="M413.5 154.8h0M413.9 155.3h0M414.2 160.6h0M414.1 160.5h0M413.5 152.9h0M413.8 148.5h0M413.5 158.7h0M413.4 166.6h0" stroke="#e02424"/>
<path d="M415.1 162.8h0M415.7 156.6h0M415.2 152.9h0M415.1 152.4h0M415.6 152.2h0M415.2 158.8h0M415.8 158.2h0M415.3 159.9h0" stroke="#1e1ec0"/>
<path d="M416.5 161.3h0M416.0 154.0h0M416.2 155.7h0M415.8 150.2h0M416.5 158.7h0M415.9 150.0h0M416.0 143.8h0M416.0 165.6h0" stroke="#e02424"/>
<path d="M418.6 157.4h0M418.9 153.3h0M418.5 152.1h0M418.8 148.8h0M418.9 152.6h0M418.8 161.4h0M418.7 163.4h0M418.9 160.7h0" stroke="#1e1ec0"/>
<path d="M419.0 155.4h0M419.2 154.1h0M419.8 156.7h0M419.1 158.2h0M419.0 145.1h0M419.5 148.6h0M419.4 159.2h0M419.8 165.4h0" stroke="#e02424"/>
<path d="M421.0 157.5h0M421.0 149.2h0M421.4 152.6h0M420.7 160.0h0M421.0 144.5h0M421.2 159.9h0M421.2 158.3h0M421.2 158.7h0" stroke="#1e1ec0"/>
<path d="M421.9 157.9h0M422.3 153.9h0M421.9 149.7h0M422.0 165.0h0M421.6 158.8h0M422.0 159.3h0M421.9 159.4h0M421.9 167.4h0" stroke="#e02424"/>
<path d="M423.1 158.6h0M423.2 153.3h0M423.3 149.4h0M423.4 160.5h0M423.4 152.8h0M423.5 163.1h0M423.2 159.6h0M423.4 159.0h0" stroke="#1e1ec0"/>
<path d="M424.2 158.6h0M424.0 159.4h0M424.4 156.3h0M424.0 160.1h0M423.8 151.7h0M424.2 164.0h0M424.6 154.6h0M424.5 166.3h0" stroke="#e02424"/>
<text x="445.60 451.60 456.60 461.60 464.60 470.60 474.60 476.60 482.60" y="132.20" class="st">Factor 15</text>
<rect x="447" y="138.5" width="41.50" height="33.00" fill="none" stroke="#8c8c8c"/>
<text transform="translate(444.40,141.10) scale(1.0,1)" class="sl" text-anchor="end">100</text>
<text transform="translate(444.40,157.60) scale(1.0,1)" class="sl" text-anchor="end">0</text>
<text transform="translate(444.40,174.10) scale(1.0,1)" class="sl" text-anchor="end">-100</text>
<text transform="translate(449.82,180.30) scale(1.0,1)" class="sl" text-anchor="middle">0</text>
<line x1="450.5" y1="171.5" x2="450.5" y2="170.0" stroke="#8c8c8c"/>
<text transform="translate(466.42,180.30) scale(1.0,1)" class="sl" text-anchor="middle">50</text>
<line x1="467.5" y1="171.5" x2="467.5" y2="170.0" stroke="#8c8c8c"/>
<text transform="translate(483.02,180.30) scale(1.0,1)" class="sl" text-anchor="middle">100</text>
<line x1="484.5" y1="171.5" x2="484.5" y2="170.0" stroke="#8c8c8c"/>
<path d="M449.4 152.0h0M449.0 152.0h0M448.8 154.9h0M448.8 153.6h0M449.0 150.0h0M449.3 153.2h0M449.0 156.0h0M448.7 153.6h0" stroke="#1e1ec0"/>
<path d="M449.5 156.0h0M449.8 154.8h0M449.7 151.6h0M449.6 153.1h0M450.1 153.4h0M449.7 155.4h0M450.1 154.4h0M449.8 153.9h0" stroke="#e02424"/>
<path d="M450.5 153.8h0M450.9 151.1h0M450.4 155.0h0M450.6 152.2h0M450.7 150.4h0M450.3 153.2h0M450.4 153.8h0M450.8 150.6h0" stroke="#1e1ec0"/>
<path d="M451.5 155.2h0M451.7 153.5h0M451.6 155.2h0M451.0 152.2h0M451.3 155.6h0M451.3 159.3h0M451.8 155.5h0M451.8 161.7h0" stroke="#e02424"/>
<path d="M452.4 154.9h0M452.0 152.0h0M452.7 153.8h0M452.3 153.7h0M452.2 151.7h0M452.2 153.9h0M452.5 150.9h0M452.4 151.2h0" stroke="#1e1ec0"/>
<path d="M453.5 155.9h0M453.1 154.1h0M452.8 156.6h0M453.4 157.9h0M453.5 158.0h0M453.1 154.4h0M452.8 155.5h0M452.7 160.9h0" stroke="#e02424"/>
<path d="M454.8 154.2h0M454.5 154.3h0M454.9 152.8h0M454.5 153.0h0M454.3 153.9h0M455.0 152.5h0M454.9 152.0h0M454.7 153.1h0" stroke="#1e1ec0"/>
<path d="M455.6 155.4h0M455.0 153.9h0M455.2 157.2h0M455.6 154.8h0M455.2 153.3h0M455.7 155.2h0M455.0 155.1h0M455.0 159.8h0" stroke="#e02424"/>
<path d="M457.4 153.0h0M457.5 153.6h0M457.5 157.8h0M457.6 153.8h0M457.7 153.0h0M457.5 153.3h0M458.2 157.2h0M457.7 151.1h0" stroke="#1e1ec0"/>
<path d="M458.4 151.2h0M458.8 153.9h0M458.2 154.6h0M459.0 155.1h0M458.6 153.7h0M458.4 155.6h0M458.5 156.3h0M458.9 156.0h0" stroke="#e02424"/>
<path d="M460.3 154.2h0M460.3 151.3h0M460.4 154.3h0M460.3 154.6h0M460.5 152.0h0M460.3 152.4h0M460.5 151.0h0M460.0 153.2h0" stroke="#1e1ec0"/>
<path d="M461.4 154.6h0M461.2 160.8h0M460.8 156.1h0M461.3 154.6h0M461.3 157.9h0M461.0 156.7h0M460.7 155.4h0M461.4 156.0h0" stroke="#e02424"/>
<path d="M462.8 153.5h0M462.8 154.0h0M462.4 153.9h0M462.3 152.3h0M463.0 153.0h0M462.4 152.0h0M462.8 151.1h0M462.4 156.4h0" stroke="#1e1ec0"/>
<path d="M463.2 157.1h0M463.2 155.7h0M463.4 154.6h0M463.4 156.4h0M463.5 153.1h0M463.0 156.5h0M463.0 155.4h0M463.1 160.6h0" stroke="#e02424"/>
<path d="M465.7 149.8h0M465.5 151.7h0M465.6 152.1h0M465.6 151.5h0M465.8 154.2h0M465.7 153.2h0M465.9 155.2h0M465.6 152.4h0" stroke="#1e1ec0"/>
<path d="M466.1 155.3h0M466.3 153.1h0M466.4 158.8h0M466.9 154.0h0M466.6 156.9h0M466.2 153.4h0M466.9 156.2h0M466.9 156.6h0" stroke="#e02424"/>
<path d="M468.6 155.4h0M468.4 154.5h0M468.4 151.9h0M468.5 150.5h0M467.8 155.3h0M468.3 154.8h0M468.5 152.0h0M467.9 152.0h0M467.6 144.8h0M468.2 148.0h0" stroke="#1e1ec0"/>
<path d="M469.0 156.6h0M469.0 156.4h0M469.2 154.2h0M469.2 155.7h0M469.4 156.1h0M468.8 154.1h0M469.4 151.7h0M468.6 153.7h0" stroke="#e02424"/>
<path d="M470.8 151.3h0M470.4 150.2h0M470.8 152.3h0M470.4 152.9h0M470.5 152.1h0M470.3 153.9h0M470.3 153.9h0M470.2 153.8h0" stroke="#1e1ec0"/>
<path d="M471.1 159.1h0M471.6 154.1h0M471.5 155.3h0M471.5 154.6h0M471.1 155.3h0M471.0 154.9h0M471.1 153.5h0M471.5 161.3h0" stroke="#e02424"/>
<path d="M473.4 154.3h0M473.4 155.5h0M473.4 154.7h0M473.6 153.4h0M473.7 151.6h0M473.8 150.2h0M474.1 152.0h0M473.4 151.6h0" stroke="#1e1ec0"/>
<path d="M474.6 156.6h0M474.2 154.5h0M474.7 158.6h0M474.4 151.2h0M474.7 157.3h0M474.3 156.5h0M474.1 155.7h0M474.6 156.2h0" stroke="#e02424"/>
<path d="M476.0 153.9h0M476.5 153.6h0M476.2 154.9h0M475.9 151.6h0M476.5 154.2h0M475.9 153.6h0M476.1 153.1h0M476.1 152.4h0" stroke="#1e1ec0"/>
<path d="M476.6 156.2h0M477.1 155.0h0M476.9 153.9h0M477.1 154.5h0M477.1 149.7h0M477.3 157.5h0M477.3 153.1h0M476.6 155.3h0" stroke="#e02424"/>
<path d="M478.3 153.7h0M478.5 153.0h0M478.8 151.6h0M478.8 153.3h0M478.7 152.4h0M478.3 155.6h0M478.6 153.4h0M478.9 155.2h0" stroke="#1e1ec0"/>
<path d="M479.3 153.9h0M479.7 156.8h0M479.7 153.9h0M479.5 154.8h0M479.1 151.9h0M479.3 153.5h0M479.0 156.4h0M478.9 155.1h0" stroke="#e02424"/>
<path d="M482.0 152.7h0M481.8 154.0h0M481.4 151.0h0M481.4 154.0h0M481.8 152.9h0M482.0 152.9h0M481.5 155.6h0M481.4 153.6h0" stroke="#1e1ec0"/>
<path d="M482.7 155.9h0M482.6 156.8h0M482.1 155.3h0M482.8 157.0h0M482.6 155.3h0M482.6 152.8h0M482.4 153.6h0M482.5 159.9h0" stroke="#e02424"/>
<path d="M483.9 153.4h0M484.4 151.5h0M484.5 151.6h0M484.0 150.8h0M483.9 152.9h0M484.4 154.3h0M483.8 152.4h0M483.8 151.5h0" stroke="#1e1ec0"/>
<path d="M485.0 154.7h0M485.3 153.2h0M485.0 155.2h0M484.8 153.6h0M484.6 154.8h0M485.1 153.0h0M485.1 159.0h0M484.7 160.8h0" stroke="#e02424"/>
<path d="M486.2 156.1h0M486.3 155.5h0M486.6 151.9h0M486.7 154.5h0M486.1 152.1h0M486.6 149.8h0M486.9 151.0h0M486.4 151.8h0" stroke="#1e1ec0"/>
<path d="M486.8 153.7h0M487.3 157.5h0M487.7 156.6h0M487.5 155.8h0M487.0 153.8h0M487.4 153.4h0M487.2 157.2h0M487.6 161.4h0" stroke="#e02424"/>
<text x="509.35 515.35 520.35 525.35 528.35 534.35 538.35 540.35 546.35" y="132.20" class="st">Factor 16</text>
<rect x="510.5" y="138.5" width="42.00" height="33.00" fill="none" stroke="#8c8c8c"/>
<text transform="translate(507.90,141.10) scale(1.0,1)" class="sl" text-anchor="end">50</text>
<text transform="translate(507.90,157.60) scale(1.0,1)" class="sl" text-anchor="end">0</text>
<text transform="translate(507.90,174.10) scale(1.0,1)" class="sl" text-anchor="end">-50</text>
<text transform="translate(513.36,180.30) scale(1.0,1)" class="sl" text-anchor="middle">0</text>
<line x1="514.5" y1="171.5" x2="514.5" y2="170.0" stroke="#8c8c8c"/>
<text transform="translate(530.16,180.30) scale(1.0,1)" class="sl" text-anchor="middle">50</text>
<line x1="531.5" y1="171.5" x2="531.5" y2="170.0" stroke="#8c8c8c"/>
<text transform="translate(546.96,180.30) scale(1.0,1)" class="sl" text-anchor="middle">100</text>
<line x1="547.5" y1="171.5" x2="547.5" y2="170.0" stroke="#8c8c8c"/>
<path d="M512.3 147.2h0M512.4 158.2h0M512.7 160.8h0M512.6 153.7h0M512.8 151.9h0M512.8 152.6h0M512.7 150.9h0M512.6 155.8h0" stroke="#1e1ec0"/>
<path d="M513.2 152.0h0M513.1 150.7h0M513.6 150.3h0M513.1 153.6h0M513.0 150.5h0M513.5 154.9h0M513.2 153.0h0M513.0 164.4h0" stroke="#e02424"/>
<path d="M514.3 147.7h0M514.4 158.9h0M514.5 162.4h0M513.8 154.4h0M514.0 152.7h0M514.5 156.9h0M514.5 152.0h0M514.3 151.4h0" stroke="#1e1ec0"/>
<path d="M515.2 154.1h0M514.7 155.4h0M515.2 153.9h0M515.1 154.8h0M515.3 152.9h0M515.1 155.1h0M515.0 157.3h0M515.0 165.5h0" stroke="#e02424"/>
<path d="M515.8 148.0h0M515.9 159.6h0M515.5 162.4h0M516.2 152.5h0M516.2 152.5h0M515.7 154.7h0M516.0 152.9h0M516.2 153.0h0" stroke="#1e1ec0"/>
<path d="M516.8 155.8h0M516.9 154.1h0M516.4 154.8h0M516.3 155.4h0M516.3 153.9h0M516.3 152.5h0M516.7 153.4h0M517.0 164.3h0" stroke="#e02424"/>
<path d="M518.1 146.2h0M518.4 159.2h0M518.5 162.0h0M518.5 154.2h0M518.3 154.4h0M518.2 153.5h0M518.1 152.2h0M518.4 154.8h0" stroke="#1e1ec0"/>
<path d="M518.7 155.5h0M519.3 156.1h0M518.9 150.9h0M519.3 151.2h0M518.9 155.1h0M519.4 154.1h0M519.1 154.8h0M518.7 163.8h0" stroke="#e02424"/>
<path d="M521.6 148.0h0M521.6 159.7h0M521.8 161.8h0M521.8 150.5h0M521.4 149.5h0M521.0 153.9h0M521.7 156.8h0M521.3 150.5h0" stroke="#1e1ec0"/>
<path d="M522.3 158.5h0M522.2 153.1h0M522.0 153.1h0M522.1 156.6h0M521.9 155.3h0M521.8 156.0h0M522.0 151.4h0M522.4 164.8h0" stroke="#e02424"/>
<path d="M524.3 145.7h0M523.7 159.5h0M524.0 161.5h0M524.0 153.7h0M523.8 151.6h0M523.9 152.4h0M523.9 153.3h0M523.9 154.5h0" stroke="#1e1ec0"/>
<path d="M524.8 151.2h0M525.1 152.5h0M524.8 154.3h0M524.4 152.8h0M524.6 154.9h0M524.3 153.9h0M524.3 153.4h0M524.9 164.3h0" stroke="#e02424"/>
<path d="M526.3 147.8h0M526.2 159.8h0M526.3 161.7h0M525.9 152.9h0M526.5 153.6h0M526.2 156.8h0M526.1 155.1h0M526.4 154.2h0" stroke="#1e1ec0"/>
<path d="M526.8 155.8h0M526.7 154.5h0M526.9 152.5h0M526.9 151.1h0M527.4 152.0h0M527.0 152.3h0M527.3 154.9h0M526.9 164.3h0" stroke="#e02424"/>
<path d="M529.8 153.7h0M529.4 159.3h0M529.8 162.1h0M529.5 152.1h0M529.6 152.2h0M529.5 153.2h0M529.4 156.5h0M529.1 154.2h0M529.3 167.5h0" stroke="#1e1ec0"/>
<path d="M530.3 156.7h0M530.1 152.8h0M530.5 155.5h0M530.1 154.8h0M530.5 152.8h0M530.3 155.5h0M530.3 151.3h0M530.4 164.7h0" stroke="#e02424"/>
<path d="M531.6 150.7h0M532.2 159.3h0M531.7 162.9h0M531.9 156.9h0M532.2 152.5h0M531.8 153.7h0M532.0 156.1h0M531.8 155.6h0M532.0 167.0h0" stroke="#1e1ec0"/>
<path d="M532.7 154.6h0M532.4 154.4h0M532.9 157.1h0M532.7 152.5h0M532.8 154.7h0M532.6 151.5h0M532.7 156.4h0M532.6 164.1h0" stroke="#e02424"/>
<path d="M534.3 153.4h0M534.4 157.8h0M534.1 162.1h0M534.6 154.9h0M534.1 152.9h0M534.0 154.5h0M534.2 158.3h0M534.5 155.9h0" stroke="#1e1ec0"/>
<path d="M535.4 151.7h0M535.5 156.4h0M535.4 153.1h0M534.7 155.2h0M535.5 151.9h0M535.2 152.8h0M535.0 156.4h0M535.1 164.1h0" stroke="#e02424"/>
<path d="M537.8 142.6h0M537.3 158.7h0M537.9 162.3h0M537.2 153.3h0M537.4 154.4h0M537.9 153.1h0M537.5 155.5h0M537.8 153.9h0" stroke="#1e1ec0"/>
<path d="M538.3 156.1h0M538.0 156.6h0M538.7 156.5h0M538.0 155.5h0M538.1 152.2h0M537.9 152.6h0M538.3 153.0h0M538.5 163.7h0" stroke="#e02424"/>
<path d="M539.9 143.5h0M540.0 159.6h0M540.0 162.7h0M540.3 151.0h0M539.8 158.2h0M540.4 154.6h0M540.4 154.4h0M539.9 153.2h0" stroke="#1e1ec0"/>
<path d="M540.6 154.6h0M540.8 153.9h0M541.1 152.6h0M540.8 157.4h0M540.9 152.1h0M540.7 152.9h0M541.2 152.1h0M541.2 163.8h0" stroke="#e02424"/>
<path d="M542.2 144.2h0M542.1 159.7h0M542.3 162.3h0M542.1 152.6h0M542.7 152.2h0M542.2 152.9h0M542.2 153.4h0M542.7 155.4h0" stroke="#1e1ec0"/>
<path d="M543.4 151.6h0M543.4 153.7h0M543.2 150.5h0M542.9 149.6h0M543.1 154.2h0M543.1 154.7h0M543.4 155.5h0M543.4 164.2h0" stroke="#e02424"/>
<path d="M545.2 144.0h0M545.6 158.5h0M545.3 162.0h0M545.7 151.2h0M545.9 155.0h0M545.4 153.9h0M545.6 154.5h0M545.4 150.0h0" stroke="#1e1ec0"/>
<path d="M546.7 154.0h0M546.3 154.8h0M546.2 150.4h0M546.3 154.1h0M546.0 153.7h0M546.3 153.1h0M546.6 153.4h0M546.2 165.2h0" stroke="#e02424"/>
<path d="M548.5 143.5h0M548.4 159.0h0M548.5 162.4h0M548.3 154.2h0M548.2 156.4h0M547.8 154.4h0M547.9 151.1h0M548.1 151.8h0" stroke="#1e1ec0"/>
<path d="M549.2 150.5h0M548.6 151.0h0M548.7 154.3h0M549.2 152.3h0M548.6 153.8h0M549.2 152.8h0M549.3 153.7h0M548.5 163.9h0" stroke="#e02424"/>
<path d="M550.3 143.9h0M550.5 158.9h0M550.1 162.5h0M550.6 152.1h0M550.5 153.6h0M550.6 156.9h0M550.1 155.7h0M550.2 157.0h0" stroke="#1e1ec0"/>
<path d="M551.6 156.9h0M551.4 150.7h0M551.4 153.9h0M551.5 154.6h0M551.7 154.3h0M551.4 156.1h0M551.6 154.2h0M551.7 163.6h0" stroke="#e02424"/>
<text x="573.00 579.00 584.00 589.00 592.00 598.00 602.00 604.00 610.00" y="132.20" class="st">Factor 17</text>
<rect x="574" y="138.5" width="42.30" height="33.00" fill="none" stroke="#8c8c8c"/>
<text transform="translate(571.40,141.10) scale(1.0,1)" class="sl" text-anchor="end">1</text>
<text transform="translate(571.40,157.60) scale(1.0,1)" class="sl" text-anchor="end">0</text>
<text transform="translate(571.40,174.10) scale(1.0,1)" class="sl" text-anchor="end">-1</text>
<text transform="translate(576.88,180.30) scale(1.0,1)" class="sl" text-anchor="middle">0</text>
<line x1="577.5" y1="171.5" x2="577.5" y2="170.0" stroke="#8c8c8c"/>
<text transform="translate(593.80,180.30) scale(1.0,1)" class="sl" text-anchor="middle">50</text>
<line x1="594.5" y1="171.5" x2="594.5" y2="170.0" stroke="#8c8c8c"/>
<text transform="translate(610.72,180.30) scale(1.0,1)" class="sl" text-anchor="middle">100</text>
<line x1="611.5" y1="171.5" x2="611.5" y2="170.0" stroke="#8c8c8c"/>
<path d="M576.8 155.0h0" stroke="#8a1a6a" class="fb"/>
<path d="M575.9 155.0h0" stroke="#4a1ca6" class="fb"/>
<path d="M578.5 155.0h0" stroke="#8a1a6a" class="fb"/>
<path d="M577.6 155.0h0" stroke="#4a1ca6" class="fb"/>
<path d="M580.2 155.0h0" stroke="#8a1a6a" class="fb"/>
<path d="M579.3 155.0h0" stroke="#4a1ca6" class="fb"/>
<path d="M581.6 155.0h0" stroke="#6a1a8c" class="fb"/>
<path d="M582.6 155.0h0" stroke="#a81a4c" class="fb"/>
<path d="M584.9 155.0h0" stroke="#6a1a8c" class="fb"/>
<path d="M585.8 155.0h0" stroke="#a81a4c" class="fb"/>
<path d="M587.4 155.0h0" stroke="#6a1a8c" class="fb"/>
<path d="M588.3 155.0h0" stroke="#a81a4c" class="fb"/>
<path d="M589.8 155.0h0" stroke="#6a1a8c" class="fb"/>
<path d="M590.7 155.0h0" stroke="#a81a4c" class="fb"/>
<path d="M593.0 155.0h0" stroke="#6a1a8c" class="fb"/>
<path d="M593.9 155.0h0" stroke="#a81a4c" class="fb"/>
<path d="M595.5 155.0h0" stroke="#6a1a8c" class="fb"/>
<path d="M596.5 155.0h0" stroke="#a81a4c" class="fb"/>
<path d="M597.9 155.0h0" stroke="#6a1a8c" class="fb"/>
<path d="M598.8 155.0h0" stroke="#a81a4c" class="fb"/>
<path d="M601.1 155.0h0" stroke="#6a1a8c" class="fb"/>
<path d="M602.1 155.0h0" stroke="#a81a4c" class="fb"/>
<path d="M603.6 155.0h0" stroke="#6a1a8c" class="fb"/>
<path d="M604.6 155.0h0" stroke="#a81a4c" class="fb"/>
<path d="M606.0 155.0h0" stroke="#6a1a8c" class="fb"/>
<path d="M607.0 155.0h0" stroke="#a81a4c" class="fb"/>
<path d="M609.2 155.0h0" stroke="#6a1a8c" class="fb"/>
<path d="M610.2 155.0h0" stroke="#a81a4c" class="fb"/>
<path d="M611.8 155.0h0" stroke="#6a1a8c" class="fb"/>
<path d="M612.7 155.0h0" stroke="#a81a4c" class="fb"/>
<path d="M614.1 155.0h0" stroke="#6a1a8c" class="fb"/>
<path d="M615.1 155.0h0" stroke="#a81a4c" class="fb"/>
<text x="635.85 641.85 646.85 651.85 654.85 660.85 664.85 666.85 672.85" y="132.20" class="st">Factor 18</text>
<rect x="637.5" y="138.5" width="41.00" height="33.00" fill="none" stroke="#8c8c8c"/>
<text transform="translate(634.90,141.10) scale(1.0,1)" class="sl" text-anchor="end">1</text>
<text transform="translate(634.90,157.60) scale(1.0,1)" class="sl" text-anchor="end">0</text>
<text transform="translate(634.90,174.10) scale(1.0,1)" class="sl" text-anchor="end">-1</text>
<text transform="translate(640.28,180.30) scale(1.0,1)" class="sl" text-anchor="middle">0</text>
<line x1="641.5" y1="171.5" x2="641.5" y2="170.0" stroke="#8c8c8c"/>
<text transform="translate(656.68,180.30) scale(1.0,1)" class="sl" text-anchor="middle">50</text>
<line x1="657.5" y1="171.5" x2="657.5" y2="170.0" stroke="#8c8c8c"/>
<text transform="translate(673.08,180.30) scale(1.0,1)" class="sl" text-anchor="middle">100</text>
<line x1="674.5" y1="171.5" x2="674.5" y2="170.0" stroke="#8c8c8c"/>
<path d="M640.3 155.0h0" stroke="#8a1a6a" class="fb"/>
<path d="M639.3 155.0h0" stroke="#4a1ca6" class="fb"/>
<path d="M641.9 155.0h0" stroke="#8a1a6a" class="fb"/>
<path d="M641.0 155.0h0" stroke="#4a1ca6" class="fb"/>
<path d="M643.5 155.0h0" stroke="#8a1a6a" class="fb"/>
<path d="M642.6 155.0h0" stroke="#4a1ca6" class="fb"/>
<path d="M644.9 155.0h0" stroke="#6a1a8c" class="fb"/>
<path d="M645.8 155.0h0" stroke="#a81a4c" class="fb"/>
<path d="M648.0 155.0h0" stroke="#6a1a8c" class="fb"/>
<path d="M648.9 155.0h0" stroke="#a81a4c" class="fb"/>
<path d="M650.5 155.0h0" stroke="#6a1a8c" class="fb"/>
<path d="M651.4 155.0h0" stroke="#a81a4c" class="fb"/>
<path d="M652.8 155.0h0" stroke="#6a1a8c" class="fb"/>
<path d="M653.7 155.0h0" stroke="#a81a4c" class="fb"/>
<path d="M655.9 155.0h0" stroke="#6a1a8c" class="fb"/>
<path d="M656.8 155.0h0" stroke="#a81a4c" class="fb"/>
<path d="M658.4 155.0h0" stroke="#6a1a8c" class="fb"/>
<path d="M659.3 155.0h0" stroke="#a81a4c" class="fb"/>
<path d="M660.7 155.0h0" stroke="#6a1a8c" class="fb"/>
<path d="M661.6 155.0h0" stroke="#a81a4c" class="fb"/>
<path d="M663.8 155.0h0" stroke="#6a1a8c" class="fb"/>
<path d="M664.7 155.0h0" stroke="#a81a4c" class="fb"/>
<path d="M666.2 155.0h0" stroke="#6a1a8c" class="fb"/>
<path d="M667.2 155.0h0" stroke="#a81a4c" class="fb"/>
<path d="M668.5 155.0h0" stroke="#6a1a8c" class="fb"/>
<path d="M669.4 155.0h0" stroke="#a81a4c" class="fb"/>
<path d="M671.6 155.0h0" stroke="#6a1a8c" class="fb"/>
<path d="M672.6 155.0h0" stroke="#a81a4c" class="fb"/>
<path d="M674.1 155.0h0" stroke="#6a1a8c" class="fb"/>
<path d="M675.0 155.0h0" stroke="#a81a4c" class="fb"/>
<path d="M676.4 155.0h0" stroke="#6a1a8c" class="fb"/>
<path d="M677.3 155.0h0" stroke="#a81a4c" class="fb"/>
<text x="319.35 325.35 330.35 335.35 338.35 344.35 348.35 350.35 356.35" y="191.30" class="st">Factor 19</text>
<rect x="320.5" y="197.6" width="42.00" height="33.00" fill="none" stroke="#8c8c8c"/>
<text transform="translate(317.90,200.20) scale(1.0,1)" class="sl" text-anchor="end">1</text>
<text transform="translate(317.90,216.70) scale(1.0,1)" class="sl" text-anchor="end">0</text>
<text transform="translate(317.90,233.20) scale(1.0,1)" class="sl" text-anchor="end">-1</text>
<text transform="translate(323.36,239.40) scale(1.0,1)" class="sl" text-anchor="middle">0</text>
<line x1="324.5" y1="230.6" x2="324.5" y2="229.1" stroke="#8c8c8c"/>
<text transform="translate(340.16,239.40) scale(1.0,1)" class="sl" text-anchor="middle">50</text>
<line x1="341.5" y1="230.6" x2="341.5" y2="229.1" stroke="#8c8c8c"/>
<text transform="translate(356.96,239.40) scale(1.0,1)" class="sl" text-anchor="middle">100</text>
<line x1="357.5" y1="230.6" x2="357.5" y2="229.1" stroke="#8c8c8c"/>
<path d="M323.3 214.1h0" stroke="#8a1a6a" class="fb"/>
<path d="M322.4 214.1h0" stroke="#4a1ca6" class="fb"/>
<path d="M325.0 214.1h0" stroke="#8a1a6a" class="fb"/>
<path d="M324.1 214.1h0" stroke="#4a1ca6" class="fb"/>
<path d="M326.7 214.1h0" stroke="#8a1a6a" class="fb"/>
<path d="M325.7 214.1h0" stroke="#4a1ca6" class="fb"/>
<path d="M328.1 214.1h0" stroke="#6a1a8c" class="fb"/>
<path d="M329.0 214.1h0" stroke="#a81a4c" class="fb"/>
<path d="M331.3 214.1h0" stroke="#6a1a8c" class="fb"/>
<path d="M332.2 214.1h0" stroke="#a81a4c" class="fb"/>
<path d="M333.8 214.1h0" stroke="#6a1a8c" class="fb"/>
<path d="M334.7 214.1h0" stroke="#a81a4c" class="fb"/>
<path d="M336.2 214.1h0" stroke="#6a1a8c" class="fb"/>
<path d="M337.1 214.1h0" stroke="#a81a4c" class="fb"/>
<path d="M339.3 214.1h0" stroke="#6a1a8c" class="fb"/>
<path d="M340.3 214.1h0" stroke="#a81a4c" class="fb"/>
<path d="M341.9 214.1h0" stroke="#6a1a8c" class="fb"/>
<path d="M342.8 214.1h0" stroke="#a81a4c" class="fb"/>
<path d="M344.2 214.1h0" stroke="#6a1a8c" class="fb"/>
<path d="M345.2 214.1h0" stroke="#a81a4c" class="fb"/>
<path d="M347.4 214.1h0" stroke="#6a1a8c" class="fb"/>
<path d="M348.4 214.1h0" stroke="#a81a4c" class="fb"/>
<path d="M349.9 214.1h0" stroke="#6a1a8c" class="fb"/>
<path d="M350.9 214.1h0" stroke="#a81a4c" class="fb"/>
<path d="M352.3 214.1h0" stroke="#6a1a8c" class="fb"/>
<path d="M353.2 214.1h0" stroke="#a81a4c" class="fb"/>
<path d="M355.5 214.1h0" stroke="#6a1a8c" class="fb"/>
<path d="M356.4 214.1h0" stroke="#a81a4c" class="fb"/>
<path d="M358.0 214.1h0" stroke="#6a1a8c" class="fb"/>
<path d="M358.9 214.1h0" stroke="#a81a4c" class="fb"/>
<path d="M360.3 214.1h0" stroke="#6a1a8c" class="fb"/>
<path d="M361.3 214.1h0" stroke="#a81a4c" class="fb"/>
<text x="382.35 388.35 393.35 398.35 401.35 407.35 411.35 413.35 419.35" y="191.30" class="st">Factor 20</text>
<rect x="383.5" y="197.6" width="42.00" height="33.00" fill="none" stroke="#8c8c8c"/>
<text transform="translate(380.90,200.20) scale(1.0,1)" class="sl" text-anchor="end">1</text>
<text transform="translate(380.90,216.70) scale(1.0,1)" class="sl" text-anchor="end">0</text>
<text transform="translate(380.90,233.20) scale(1.0,1)" class="sl" text-anchor="end">-1</text>
<text transform="translate(386.36,239.40) scale(1.0,1)" class="sl" text-anchor="middle">0</text>
<line x1="387.5" y1="230.6" x2="387.5" y2="229.1" stroke="#8c8c8c"/>
<text transform="translate(403.16,239.40) scale(1.0,1)" class="sl" text-anchor="middle">50</text>
<line x1="404.5" y1="230.6" x2="404.5" y2="229.1" stroke="#8c8c8c"/>
<text transform="translate(419.96,239.40) scale(1.0,1)" class="sl" text-anchor="middle">100</text>
<line x1="420.5" y1="230.6" x2="420.5" y2="229.1" stroke="#8c8c8c"/>
<path d="M386.3 214.1h0" stroke="#8a1a6a" class="fb"/>
<path d="M385.4 214.1h0" stroke="#4a1ca6" class="fb"/>
<path d="M388.0 214.1h0" stroke="#8a1a6a" class="fb"/>
<path d="M387.1 214.1h0" stroke="#4a1ca6" class="fb"/>
<path d="M389.7 214.1h0" stroke="#8a1a6a" class="fb"/>
<path d="M388.7 214.1h0" stroke="#4a1ca6" class="fb"/>
<path d="M391.1 214.1h0" stroke="#6a1a8c" class="fb"/>
<path d="M392.0 214.1h0" stroke="#a81a4c" class="fb"/>
<path d="M394.3 214.1h0" stroke="#6a1a8c" class="fb"/>
<path d="M395.2 214.1h0" stroke="#a81a4c" class="fb"/>
<path d="M396.8 214.1h0" stroke="#6a1a8c" class="fb"/>
<path d="M397.7 214.1h0" stroke="#a81a4c" class="fb"/>
<path d="M399.2 214.1h0" stroke="#6a1a8c" class="fb"/>
<path d="M400.1 214.1h0" stroke="#a81a4c" class="fb"/>
<path d="M402.3 214.1h0" stroke="#6a1a8c" class="fb"/>
<path d="M403.3 214.1h0" stroke="#a81a4c" class="fb"/>
<path d="M404.9 214.1h0" stroke="#6a1a8c" class="fb"/>
<path d="M405.8 214.1h0" stroke="#a81a4c" class="fb"/>
<path d="M407.2 214.1h0" stroke="#6a1a8c" class="fb"/>
<path d="M408.2 214.1h0" stroke="#a81a4c" class="fb"/>
<path d="M410.4 214.1h0" stroke="#6a1a8c" class="fb"/>
<path d="M411.4 214.1h0" stroke="#a81a4c" class="fb"/>
<path d="M412.9 214.1h0" stroke="#6a1a8c" class="fb"/>
<path d="M413.9 214.1h0" stroke="#a81a4c" class="fb"/>
<path d="M415.3 214.1h0" stroke="#6a1a8c" class="fb"/>
<path d="M416.2 214.1h0" stroke="#a81a4c" class="fb"/>
<path d="M418.5 214.1h0" stroke="#6a1a8c" class="fb"/>
<path d="M419.4 214.1h0" stroke="#a81a4c" class="fb"/>
<path d="M421.0 214.1h0" stroke="#6a1a8c" class="fb"/>
<path d="M421.9 214.1h0" stroke="#a81a4c" class="fb"/>
<path d="M423.3 214.1h0" stroke="#6a1a8c" class="fb"/>
<path d="M424.3 214.1h0" stroke="#a81a4c" class="fb"/>
<text x="445.60 451.60 456.60 461.60 464.60 470.60 474.60 476.60 482.60" y="191.30" class="st">Factor 21</text>
<rect x="447" y="197.6" width="41.50" height="33.00" fill="none" stroke="#8c8c8c"/>
<text transform="translate(444.40,200.20) scale(1.0,1)" class="sl" text-anchor="end">1</text>
<text transform="translate(444.40,216.70) scale(1.0,1)" class="sl" text-anchor="end">0</text>
<text transform="translate(444.40,233.20) scale(1.0,1)" class="sl" text-anchor="end">-1</text>
<text transform="translate(449.82,239.40) scale(1.0,1)" class="sl" text-anchor="middle">0</text>
<line x1="450.5" y1="230.6" x2="450.5" y2="229.1" stroke="#8c8c8c"/>
<text transform="translate(466.42,239.40) scale(1.0,1)" class="sl" text-anchor="middle">50</text>
<line x1="467.5" y1="230.6" x2="467.5" y2="229.1" stroke="#8c8c8c"/>
<text transform="translate(483.02,239.40) scale(1.0,1)" class="sl" text-anchor="middle">100</text>
<line x1="484.5" y1="230.6" x2="484.5" y2="229.1" stroke="#8c8c8c"/>
<path d="M449.8 214.1h0" stroke="#8a1a6a" class="fb"/>
<path d="M448.9 214.1h0" stroke="#4a1ca6" class="fb"/>
<path d="M451.4 214.1h0" stroke="#8a1a6a" class="fb"/>
<path d="M450.5 214.1h0" stroke="#4a1ca6" class="fb"/>
<path d="M453.1 214.1h0" stroke="#8a1a6a" class="fb"/>
<path d="M452.2 214.1h0" stroke="#4a1ca6" class="fb"/>
<path d="M454.5 214.1h0" stroke="#6a1a8c" class="fb"/>
<path d="M455.4 214.1h0" stroke="#a81a4c" class="fb"/>
<path d="M457.7 214.1h0" stroke="#6a1a8c" class="fb"/>
<path d="M458.6 214.1h0" stroke="#a81a4c" class="fb"/>
<path d="M460.1 214.1h0" stroke="#6a1a8c" class="fb"/>
<path d="M461.1 214.1h0" stroke="#a81a4c" class="fb"/>
<path d="M462.5 214.1h0" stroke="#6a1a8c" class="fb"/>
<path d="M463.4 214.1h0" stroke="#a81a4c" class="fb"/>
<path d="M465.6 214.1h0" stroke="#6a1a8c" class="fb"/>
<path d="M466.6 214.1h0" stroke="#a81a4c" class="fb"/>
<path d="M468.1 214.1h0" stroke="#6a1a8c" class="fb"/>
<path d="M469.0 214.1h0" stroke="#a81a4c" class="fb"/>
<path d="M470.4 214.1h0" stroke="#6a1a8c" class="fb"/>
<path d="M471.4 214.1h0" stroke="#a81a4c" class="fb"/>
<path d="M473.6 214.1h0" stroke="#6a1a8c" class="fb"/>
<path d="M474.5 214.1h0" stroke="#a81a4c" class="fb"/>
<path d="M476.1 214.1h0" stroke="#6a1a8c" class="fb"/>
<path d="M477.0 214.1h0" stroke="#a81a4c" class="fb"/>
<path d="M478.4 214.1h0" stroke="#6a1a8c" class="fb"/>
<path d="M479.3 214.1h0" stroke="#a81a4c" class="fb"/>
<path d="M481.6 214.1h0" stroke="#6a1a8c" class="fb"/>
<path d="M482.5 214.1h0" stroke="#a81a4c" class="fb"/>
<path d="M484.1 214.1h0" stroke="#6a1a8c" class="fb"/>
<path d="M485.0 214.1h0" stroke="#a81a4c" class="fb"/>
<path d="M486.4 214.1h0" stroke="#6a1a8c" class="fb"/>
<path d="M487.3 214.1h0" stroke="#a81a4c" class="fb"/>
<text x="509.35 515.35 520.35 525.35 528.35 534.35 538.35 540.35 546.35" y="191.30" class="st">Factor 22</text>
<rect x="510.5" y="197.6" width="42.00" height="33.00" fill="none" stroke="#8c8c8c"/>
<text transform="translate(507.90,200.20) scale(1.0,1)" class="sl" text-anchor="end">1</text>
<text transform="translate(507.90,216.70) scale(1.0,1)" class="sl" text-anchor="end">0</text>
<text transform="translate(507.90,233.20) scale(1.0,1)" class="sl" text-anchor="end">-1</text>
<text transform="translate(513.36,239.40) scale(1.0,1)" class="sl" text-anchor="middle">0</text>
<line x1="514.5" y1="230.6" x2="514.5" y2="229.1" stroke="#8c8c8c"/>
<text transform="translate(530.16,239.40) scale(1.0,1)" class="sl" text-anchor="middle">50</text>
<line x1="531.5" y1="230.6" x2="531.5" y2="229.1" stroke="#8c8c8c"/>
<text transform="translate(546.96,239.40) scale(1.0,1)" class="sl" text-anchor="middle">100</text>
<line x1="547.5" y1="230.6" x2="547.5" y2="229.1" stroke="#8c8c8c"/>
<path d="M513.3 214.1h0" stroke="#8a1a6a" class="fb"/>
<path d="M512.4 214.1h0" stroke="#4a1ca6" class="fb"/>
<path d="M515.0 214.1h0" stroke="#8a1a6a" class="fb"/>
<path d="M514.1 214.1h0" stroke="#4a1ca6" class="fb"/>
<path d="M516.7 214.1h0" stroke="#8a1a6a" class="fb"/>
<path d="M515.7 214.1h0" stroke="#4a1ca6" class="fb"/>
<path d="M518.1 214.1h0" stroke="#6a1a8c" class="fb"/>
<path d="M519.0 214.1h0" stroke="#a81a4c" class="fb"/>
<path d="M521.3 214.1h0" stroke="#6a1a8c" class="fb"/>
<path d="M522.2 214.1h0" stroke="#a81a4c" class="fb"/>
<path d="M523.8 214.1h0" stroke="#6a1a8c" class="fb"/>
<path d="M524.7 214.1h0" stroke="#a81a4c" class="fb"/>
<path d="M526.2 214.1h0" stroke="#6a1a8c" class="fb"/>
<path d="M527.1 214.1h0" stroke="#a81a4c" class="fb"/>
<path d="M529.3 214.1h0" stroke="#6a1a8c" class="fb"/>
<path d="M530.3 214.1h0" stroke="#a81a4c" class="fb"/>
<path d="M531.9 214.1h0" stroke="#6a1a8c" class="fb"/>
<path d="M532.8 214.1h0" stroke="#a81a4c" class="fb"/>
<path d="M534.2 214.1h0" stroke="#6a1a8c" class="fb"/>
<path d="M535.2 214.1h0" stroke="#a81a4c" class="fb"/>
<path d="M537.4 214.1h0" stroke="#6a1a8c" class="fb"/>
<path d="M538.4 214.1h0" stroke="#a81a4c" class="fb"/>
<path d="M539.9 214.1h0" stroke="#6a1a8c" class="fb"/>
<path d="M540.9 214.1h0" stroke="#a81a4c" class="fb"/>
<path d="M542.3 214.1h0" stroke="#6a1a8c" class="fb"/>
<path d="M543.2 214.1h0" stroke="#a81a4c" class="fb"/>
<path d="M545.5 214.1h0" stroke="#6a1a8c" class="fb"/>
<path d="M546.4 214.1h0" stroke="#a81a4c" class="fb"/>
<path d="M548.0 214.1h0" stroke="#6a1a8c" class="fb"/>
<path d="M548.9 214.1h0" stroke="#a81a4c" class="fb"/>
<path d="M550.3 214.1h0" stroke="#6a1a8c" class="fb"/>
<path d="M551.3 214.1h0" stroke="#a81a4c" class="fb"/>
<text x="573.00 579.00 584.00 589.00 592.00 598.00 602.00 604.00 610.00" y="191.30" class="st">Factor 23</text>
<rect x="574" y="197.6" width="42.30" height="33.00" fill="none" stroke="#8c8c8c"/>
<text transform="translate(571.40,200.20) scale(1.0,1)" class="sl" text-anchor="end">1</text>
<text transform="translate(571.40,216.70) scale(1.0,1)" class="sl" text-anchor="end">0</text>
<text transform="translate(571.40,233.20) scale(1.0,1)" class="sl" text-anchor="end">-1</text>
<text transform="translate(576.88,239.40) scale(1.0,1)" class="sl" text-anchor="middle">0</text>
<line x1="577.5" y1="230.6" x2="577.5" y2="229.1" stroke="#8c8c8c"/>
<text transform="translate(593.80,239.40) scale(1.0,1)" class="sl" text-anchor="middle">50</text>
<line x1="594.5" y1="230.6" x2="594.5" y2="229.1" stroke="#8c8c8c"/>
<text transform="translate(610.72,239.40) scale(1.0,1)" class="sl" text-anchor="middle">100</text>
<line x1="611.5" y1="230.6" x2="611.5" y2="229.1" stroke="#8c8c8c"/>
<path d="M576.8 214.1h0" stroke="#8a1a6a" class="fb"/>
<path d="M575.9 214.1h0" stroke="#4a1ca6" class="fb"/>
<path d="M578.5 214.1h0" stroke="#8a1a6a" class="fb"/>
<path d="M577.6 214.1h0" stroke="#4a1ca6" class="fb"/>
<path d="M580.2 214.1h0" stroke="#8a1a6a" class="fb"/>
<path d="M579.3 214.1h0" stroke="#4a1ca6" class="fb"/>
<path d="M581.6 214.1h0" stroke="#6a1a8c" class="fb"/>
<path d="M582.6 214.1h0" stroke="#a81a4c" class="fb"/>
<path d="M584.9 214.1h0" stroke="#6a1a8c" class="fb"/>
<path d="M585.8 214.1h0" stroke="#a81a4c" class="fb"/>
<path d="M587.4 214.1h0" stroke="#6a1a8c" class="fb"/>
<path d="M588.3 214.1h0" stroke="#a81a4c" class="fb"/>
<path d="M589.8 214.1h0" stroke="#6a1a8c" class="fb"/>
<path d="M590.7 214.1h0" stroke="#a81a4c" class="fb"/>
<path d="M593.0 214.1h0" stroke="#6a1a8c" class="fb"/>
<path d="M593.9 214.1h0" stroke="#a81a4c" class="fb"/>
<path d="M595.5 214.1h0" stroke="#6a1a8c" class="fb"/>
<path d="M596.5 214.1h0" stroke="#a81a4c" class="fb"/>
<path d="M597.9 214.1h0" stroke="#6a1a8c" class="fb"/>
<path d="M598.8 214.1h0" stroke="#a81a4c" class="fb"/>
<path d="M601.1 214.1h0" stroke="#6a1a8c" class="fb"/>
<path d="M602.1 214.1h0" stroke="#a81a4c" class="fb"/>
<path d="M603.6 214.1h0" stroke="#6a1a8c" class="fb"/>
<path d="M604.6 214.1h0" stroke="#a81a4c" class="fb"/>
<path d="M606.0 214.1h0" stroke="#6a1a8c" class="fb"/>
<path d="M607.0 214.1h0" stroke="#a81a4c" class="fb"/>
<path d="M609.2 214.1h0" stroke="#6a1a8c" class="fb"/>
<path d="M610.2 214.1h0" stroke="#a81a4c" class="fb"/>
<path d="M611.8 214.1h0" stroke="#6a1a8c" class="fb"/>
<path d="M612.7 214.1h0" stroke="#a81a4c" class="fb"/>
<path d="M614.1 214.1h0" stroke="#6a1a8c" class="fb"/>
<path d="M615.1 214.1h0" stroke="#a81a4c" class="fb"/>
<text x="635.85 641.85 646.85 651.85 654.85 660.85 664.85 666.85 672.85" y="191.30" class="st">Factor 24</text>
<rect x="637.5" y="197.6" width="41.00" height="33.00" fill="none" stroke="#8c8c8c"/>
<text transform="translate(634.90,200.20) scale(1.0,1)" class="sl" text-anchor="end">1</text>
<text transform="translate(634.90,216.70) scale(1.0,1)" class="sl" text-anchor="end">0</text>
<text transform="translate(634.90,233.20) scale(1.0,1)" class="sl" text-anchor="end">-1</text>
<text transform="translate(640.28,239.40) scale(1.0,1)" class="sl" text-anchor="middle">0</text>
<line x1="641.5" y1="230.6" x2="641.5" y2="229.1" stroke="#8c8c8c"/>
<text transform="translate(656.68,239.40) scale(1.0,1)" class="sl" text-anchor="middle">50</text>
<line x1="657.5" y1="230.6" x2="657.5" y2="229.1" stroke="#8c8c8c"/>
<text transform="translate(673.08,239.40) scale(1.0,1)" class="sl" text-anchor="middle">100</text>
<line x1="674.5" y1="230.6" x2="674.5" y2="229.1" stroke="#8c8c8c"/>
<path d="M640.3 214.1h0" stroke="#8a1a6a" class="fb"/>
<path d="M639.3 214.1h0" stroke="#4a1ca6" class="fb"/>
<path d="M641.9 214.1h0" stroke="#8a1a6a" class="fb"/>
<path d="M641.0 214.1h0" stroke="#4a1ca6" class="fb"/>
<path d="M643.5 214.1h0" stroke="#8a1a6a" class="fb"/>
<path d="M642.6 214.1h0" stroke="#4a1ca6" class="fb"/>
<path d="M644.9 214.1h0" stroke="#6a1a8c" class="fb"/>
<path d="M645.8 214.1h0" stroke="#a81a4c" class="fb"/>
<path d="M648.0 214.1h0" stroke="#6a1a8c" class="fb"/>
<path d="M648.9 214.1h0" stroke="#a81a4c" class="fb"/>
<path d="M650.5 214.1h0" stroke="#6a1a8c" class="fb"/>
<path d="M651.4 214.1h0" stroke="#a81a4c" class="fb"/>
<path d="M652.8 214.1h0" stroke="#6a1a8c" class="fb"/>
<path d="M653.7 214.1h0" stroke="#a81a4c" class="fb"/>
<path d="M655.9 214.1h0" stroke="#6a1a8c" class="fb"/>
<path d="M656.8 214.1h0" stroke="#a81a4c" class="fb"/>
<path d="M658.4 214.1h0" stroke="#6a1a8c" class="fb"/>
<path d="M659.3 214.1h0" stroke="#a81a4c" class="fb"/>
<path d="M660.7 214.1h0" stroke="#6a1a8c" class="fb"/>
<path d="M661.6 214.1h0" stroke="#a81a4c" class="fb"/>
<path d="M663.8 214.1h0" stroke="#6a1a8c" class="fb"/>
<path d="M664.7 214.1h0" stroke="#a81a4c" class="fb"/>
<path d="M666.2 214.1h0" stroke="#6a1a8c" class="fb"/>
<path d="M667.2 214.1h0" stroke="#a81a4c" class="fb"/>
<path d="M668.5 214.1h0" stroke="#6a1a8c" class="fb"/>
<path d="M669.4 214.1h0" stroke="#a81a4c" class="fb"/>
<path d="M671.6 214.1h0" stroke="#6a1a8c" class="fb"/>
<path d="M672.6 214.1h0" stroke="#a81a4c" class="fb"/>
<path d="M674.1 214.1h0" stroke="#6a1a8c" class="fb"/>
<path d="M675.0 214.1h0" stroke="#a81a4c" class="fb"/>
<path d="M676.4 214.1h0" stroke="#6a1a8c" class="fb"/>
<path d="M677.3 214.1h0" stroke="#a81a4c" class="fb"/>
<text x="319.35 325.35 330.35 335.35 338.35 344.35 348.35 350.35 356.35" y="250.60" class="st">Factor 25</text>
<rect x="320.5" y="256.9" width="42.00" height="33.00" fill="none" stroke="#8c8c8c"/>
<text transform="translate(317.90,259.50) scale(1.0,1)" class="sl" text-anchor="end">1</text>
<text transform="translate(317.90,276.00) scale(1.0,1)" class="sl" text-anchor="end">0</text>
<text transform="translate(317.90,292.50) scale(1.0,1)" class="sl" text-anchor="end">-1</text>
<text transform="translate(323.36,298.70) scale(1.0,1)" class="sl" text-anchor="middle">0</text>
<line x1="324.5" y1="289.9" x2="324.5" y2="288.4" stroke="#8c8c8c"/>
<text transform="translate(340.16,298.70) scale(1.0,1)" class="sl" text-anchor="middle">50</text>
<line x1="341.5" y1="289.9" x2="341.5" y2="288.4" stroke="#8c8c8c"/>
<text transform="translate(356.96,298.70) scale(1.0,1)" class="sl" text-anchor="middle">100</text>
<line x1="357.5" y1="289.9" x2="357.5" y2="288.4" stroke="#8c8c8c"/>
<path d="M323.3 273.4h0" stroke="#8a1a6a" class="fb"/>
<path d="M322.4 273.4h0" stroke="#4a1ca6" class="fb"/>
<path d="M325.0 273.4h0" stroke="#8a1a6a" class="fb"/>
<path d="M324.1 273.4h0" stroke="#4a1ca6" class="fb"/>
<path d="M326.7 273.4h0" stroke="#8a1a6a" class="fb"/>
<path d="M325.7 273.4h0" stroke="#4a1ca6" class="fb"/>
<path d="M328.1 273.4h0" stroke="#6a1a8c" class="fb"/>
<path d="M329.0 273.4h0" stroke="#a81a4c" class="fb"/>
<path d="M331.3 273.4h0" stroke="#6a1a8c" class="fb"/>
<path d="M332.2 273.4h0" stroke="#a81a4c" class="fb"/>
<path d="M333.8 273.4h0" stroke="#6a1a8c" class="fb"/>
<path d="M334.7 273.4h0" stroke="#a81a4c" class="fb"/>
<path d="M336.2 273.4h0" stroke="#6a1a8c" class="fb"/>
<path d="M337.1 273.4h0" stroke="#a81a4c" class="fb"/>
<path d="M339.3 273.4h0" stroke="#6a1a8c" class="fb"/>
<path d="M340.3 273.4h0" stroke="#a81a4c" class="fb"/>
<path d="M341.9 273.4h0" stroke="#6a1a8c" class="fb"/>
<path d="M342.8 273.4h0" stroke="#a81a4c" class="fb"/>
<path d="M344.2 273.4h0" stroke="#6a1a8c" class="fb"/>
<path d="M345.2 273.4h0" stroke="#a81a4c" class="fb"/>
<path d="M347.4 273.4h0" stroke="#6a1a8c" class="fb"/>
<path d="M348.4 273.4h0" stroke="#a81a4c" class="fb"/>
<path d="M349.9 273.4h0" stroke="#6a1a8c" class="fb"/>
<path d="M350.9 273.4h0" stroke="#a81a4c" class="fb"/>
<path d="M352.3 273.4h0" stroke="#6a1a8c" class="fb"/>
<path d="M353.2 273.4h0" stroke="#a81a4c" class="fb"/>
<path d="M355.5 273.4h0" stroke="#6a1a8c" class="fb"/>
<path d="M356.4 273.4h0" stroke="#a81a4c" class="fb"/>
<path d="M358.0 273.4h0" stroke="#6a1a8c" class="fb"/>
<path d="M358.9 273.4h0" stroke="#a81a4c" class="fb"/>
<path d="M360.3 273.4h0" stroke="#6a1a8c" class="fb"/>
<path d="M361.3 273.4h0" stroke="#a81a4c" class="fb"/>
<text x="382.35 388.35 393.35 398.35 401.35 407.35 411.35 413.35 419.35" y="250.60" class="st">Factor 26</text>
<rect x="383.5" y="256.9" width="42.00" height="33.00" fill="none" stroke="#8c8c8c"/>
<text transform="translate(380.90,259.50) scale(1.0,1)" class="sl" text-anchor="end">1</text>
<text transform="translate(380.90,276.00) scale(1.0,1)" class="sl" text-anchor="end">0</text>
<text transform="translate(380.90,292.50) scale(1.0,1)" class="sl" text-anchor="end">-1</text>
<text transform="translate(386.36,298.70) scale(1.0,1)" class="sl" text-anchor="middle">0</text>
<line x1="387.5" y1="289.9" x2="387.5" y2="288.4" stroke="#8c8c8c"/>
<text transform="translate(403.16,298.70) scale(1.0,1)" class="sl" text-anchor="middle">50</text>
<line x1="404.5" y1="289.9" x2="404.5" y2="288.4" stroke="#8c8c8c"/>
<text transform="translate(419.96,298.70) scale(1.0,1)" class="sl" text-anchor="middle">100</text>
<line x1="420.5" y1="289.9" x2="420.5" y2="288.4" stroke="#8c8c8c"/>
<path d="M386.3 273.4h0" stroke="#8a1a6a" class="fb"/>
<path d="M385.4 273.4h0" stroke="#4a1ca6" class="fb"/>
<path d="M388.0 273.4h0" stroke="#8a1a6a" class="fb"/>
<path d="M387.1 273.4h0" stroke="#4a1ca6" class="fb"/>
<path d="M389.7 273.4h0" stroke="#8a1a6a" class="fb"/>
<path d="M388.7 273.4h0" stroke="#4a1ca6" class="fb"/>
<path d="M391.1 273.4h0" stroke="#6a1a8c" class="fb"/>
<path d="M392.0 273.4h0" stroke="#a81a4c" class="fb"/>
<path d="M394.3 273.4h0" stroke="#6a1a8c" class="fb"/>
<path d="M395.2 273.4h0" stroke="#a81a4c" class="fb"/>
<path d="M396.8 273.4h0" stroke="#6a1a8c" class="fb"/>
<path d="M397.7 273.4h0" stroke="#a81a4c" class="fb"/>
<path d="M399.2 273.4h0" stroke="#6a1a8c" class="fb"/>
<path d="M400.1 273.4h0" stroke="#a81a4c" class="fb"/>
<path d="M402.3 273.4h0" stroke="#6a1a8c" class="fb"/>
<path d="M403.3 273.4h0" stroke="#a81a4c" class="fb"/>
<path d="M404.9 273.4h0" stroke="#6a1a8c" class="fb"/>
<path d="M405.8 273.4h0" stroke="#a81a4c" class="fb"/>
<path d="M407.2 273.4h0" stroke="#6a1a8c" class="fb"/>
<path d="M408.2 273.4h0" stroke="#a81a4c" class="fb"/>
<path d="M410.4 273.4h0" stroke="#6a1a8c" class="fb"/>
<path d="M411.4 273.4h0" stroke="#a81a4c" class="fb"/>
<path d="M412.9 273.4h0" stroke="#6a1a8c" class="fb"/>
<path d="M413.9 273.4h0" stroke="#a81a4c" class="fb"/>
<path d="M415.3 273.4h0" stroke="#6a1a8c" class="fb"/>
<path d="M416.2 273.4h0" stroke="#a81a4c" class="fb"/>
<path d="M418.5 273.4h0" stroke="#6a1a8c" class="fb"/>
<path d="M419.4 273.4h0" stroke="#a81a4c" class="fb"/>
<path d="M421.0 273.4h0" stroke="#6a1a8c" class="fb"/>
<path d="M421.9 273.4h0" stroke="#a81a4c" class="fb"/>
<path d="M423.3 273.4h0" stroke="#6a1a8c" class="fb"/>
<path d="M424.3 273.4h0" stroke="#a81a4c" class="fb"/>
<text x="445.60 451.60 456.60 461.60 464.60 470.60 474.60 476.60 482.60" y="250.60" class="st">Factor 27</text>
<rect x="447" y="256.9" width="41.50" height="33.00" fill="none" stroke="#8c8c8c"/>
<text transform="translate(444.40,259.50) scale(1.0,1)" class="sl" text-anchor="end">1</text>
<text transform="translate(444.40,276.00) scale(1.0,1)" class="sl" text-anchor="end">0</text>
<text transform="translate(444.40,292.50) scale(1.0,1)" class="sl" text-anchor="end">-1</text>
<text transform="translate(449.82,298.70) scale(1.0,1)" class="sl" text-anchor="middle">0</text>
<line x1="450.5" y1="289.9" x2="450.5" y2="288.4" stroke="#8c8c8c"/>
<text transform="translate(466.42,298.70) scale(1.0,1)" class="sl" text-anchor="middle">50</text>
<line x1="467.5" y1="289.9" x2="467.5" y2="288.4" stroke="#8c8c8c"/>
<text transform="translate(483.02,298.70) scale(1.0,1)" class="sl" text-anchor="middle">100</text>
<line x1="484.5" y1="289.9" x2="484.5" y2="288.4" stroke="#8c8c8c"/>
<path d="M449.8 273.4h0" stroke="#8a1a6a" class="fb"/>
<path d="M448.9 273.4h0" stroke="#4a1ca6" class="fb"/>
<path d="M451.4 273.4h0" stroke="#8a1a6a" class="fb"/>
<path d="M450.5 273.4h0" stroke="#4a1ca6" class="fb"/>
<path d="M453.1 273.4h0" stroke="#8a1a6a" class="fb"/>
<path d="M452.2 273.4h0" stroke="#4a1ca6" class="fb"/>
<path d="M454.5 273.4h0" stroke="#6a1a8c" class="fb"/>
<path d="M455.4 273.4h0" stroke="#a81a4c" class="fb"/>
<path d="M457.7 273.4h0" stroke="#6a1a8c" class="fb"/>
<path d="M458.6 273.4h0" stroke="#a81a4c" class="fb"/>
<path d="M460.1 273.4h0" stroke="#6a1a8c" class="fb"/>
<path d="M461.1 273.4h0" stroke="#a81a4c" class="fb"/>
<path d="M462.5 273.4h0" stroke="#6a1a8c" class="fb"/>
<path d="M463.4 273.4h0" stroke="#a81a4c" class="fb"/>
<path d="M465.6 273.4h0" stroke="#6a1a8c" class="fb"/>
<path d="M466.6 273.4h0" stroke="#a81a4c" class="fb"/>
<path d="M468.1 273.4h0" stroke="#6a1a8c" class="fb"/>
<path d="M469.0 273.4h0" stroke="#a81a4c" class="fb"/>
<path d="M470.4 273.4h0" stroke="#6a1a8c" class="fb"/>
<path d="M471.4 273.4h0" stroke="#a81a4c" class="fb"/>
<path d="M473.6 273.4h0" stroke="#6a1a8c" class="fb"/>
<path d="M474.5 273.4h0" stroke="#a81a4c" class="fb"/>
<path d="M476.1 273.4h0" stroke="#6a1a8c" class="fb"/>
<path d="M477.0 273.4h0" stroke="#a81a4c" class="fb"/>
<path d="M478.4 273.4h0" stroke="#6a1a8c" class="fb"/>
<path d="M479.3 273.4h0" stroke="#a81a4c" class="fb"/>
<path d="M481.6 273.4h0" stroke="#6a1a8c" class="fb"/>
<path d="M482.5 273.4h0" stroke="#a81a4c" class="fb"/>
<path d="M484.1 273.4h0" stroke="#6a1a8c" class="fb"/>
<path d="M485.0 273.4h0" stroke="#a81a4c" class="fb"/>
<path d="M486.4 273.4h0" stroke="#6a1a8c" class="fb"/>
<path d="M487.3 273.4h0" stroke="#a81a4c" class="fb"/>
<text x="509.35 515.35 520.35 525.35 528.35 534.35 538.35 540.35 546.35" y="250.60" class="st">Factor 28</text>
<rect x="510.5" y="256.9" width="42.00" height="33.00" fill="none" stroke="#8c8c8c"/>
<text transform="translate(507.90,259.50) scale(1.0,1)" class="sl" text-anchor="end">1</text>
<text transform="translate(507.90,276.00) scale(1.0,1)" class="sl" text-anchor="end">0</text>
<text transform="translate(507.90,292.50) scale(1.0,1)" class="sl" text-anchor="end">-1</text>
<text transform="translate(513.36,298.70) scale(1.0,1)" class="sl" text-anchor="middle">0</text>
<line x1="514.5" y1="289.9" x2="514.5" y2="288.4" stroke="#8c8c8c"/>
<text transform="translate(530.16,298.70) scale(1.0,1)" class="sl" text-anchor="middle">50</text>
<line x1="531.5" y1="289.9" x2="531.5" y2="288.4" stroke="#8c8c8c"/>
<text transform="translate(546.96,298.70) scale(1.0,1)" class="sl" text-anchor="middle">100</text>
<line x1="547.5" y1="289.9" x2="547.5" y2="288.4" stroke="#8c8c8c"/>
<path d="M513.3 273.4h0" stroke="#8a1a6a" class="fb"/>
<path d="M512.4 273.4h0" stroke="#4a1ca6" class="fb"/>
<path d="M515.0 273.4h0" stroke="#8a1a6a" class="fb"/>
<path d="M514.1 273.4h0" stroke="#4a1ca6" class="fb"/>
<path d="M516.7 273.4h0" stroke="#8a1a6a" class="fb"/>
<path d="M515.7 273.4h0" stroke="#4a1ca6" class="fb"/>
<path d="M518.1 273.4h0" stroke="#6a1a8c" class="fb"/>
<path d="M519.0 273.4h0" stroke="#a81a4c" class="fb"/>
<path d="M521.3 273.4h0" stroke="#6a1a8c" class="fb"/>
<path d="M522.2 273.4h0" stroke="#a81a4c" class="fb"/>
<path d="M523.8 273.4h0" stroke="#6a1a8c" class="fb"/>
<path d="M524.7 273.4h0" stroke="#a81a4c" class="fb"/>
<path d="M526.2 273.4h0" stroke="#6a1a8c" class="fb"/>
<path d="M527.1 273.4h0" stroke="#a81a4c" class="fb"/>
<path d="M529.3 273.4h0" stroke="#6a1a8c" class="fb"/>
<path d="M530.3 273.4h0" stroke="#a81a4c" class="fb"/>
<path d="M531.9 273.4h0" stroke="#6a1a8c" class="fb"/>
<path d="M532.8 273.4h0" stroke="#a81a4c" class="fb"/>
<path d="M534.2 273.4h0" stroke="#6a1a8c" class="fb"/>
<path d="M535.2 273.4h0" stroke="#a81a4c" class="fb"/>
<path d="M537.4 273.4h0" stroke="#6a1a8c" class="fb"/>
<path d="M538.4 273.4h0" stroke="#a81a4c" class="fb"/>
<path d="M539.9 273.4h0" stroke="#6a1a8c" class="fb"/>
<path d="M540.9 273.4h0" stroke="#a81a4c" class="fb"/>
<path d="M542.3 273.4h0" stroke="#6a1a8c" class="fb"/>
<path d="M543.2 273.4h0" stroke="#a81a4c" class="fb"/>
<path d="M545.5 273.4h0" stroke="#6a1a8c" class="fb"/>
<path d="M546.4 273.4h0" stroke="#a81a4c" class="fb"/>
<path d="M548.0 273.4h0" stroke="#6a1a8c" class="fb"/>
<path d="M548.9 273.4h0" stroke="#a81a4c" class="fb"/>
<path d="M550.3 273.4h0" stroke="#6a1a8c" class="fb"/>
<path d="M551.3 273.4h0" stroke="#a81a4c" class="fb"/>
<text x="573.00 579.00 584.00 589.00 592.00 598.00 602.00 604.00 610.00" y="250.60" class="st">Factor 29</text>
<rect x="574" y="256.9" width="42.30" height="33.00" fill="none" stroke="#8c8c8c"/>
<text transform="translate(571.40,259.50) scale(1.0,1)" class="sl" text-anchor="end">1</text>
<text transform="translate(571.40,276.00) scale(1.0,1)" class="sl" text-anchor="end">0</text>
<text transform="translate(571.40,292.50) scale(1.0,1)" class="sl" text-anchor="end">-1</text>
<text transform="translate(576.88,298.70) scale(1.0,1)" class="sl" text-anchor="middle">0</text>
<line x1="577.5" y1="289.9" x2="577.5" y2="288.4" stroke="#8c8c8c"/>
<text transform="translate(593.80,298.70) scale(1.0,1)" class="sl" text-anchor="middle">50</text>
<line x1="594.5" y1="289.9" x2="594.5" y2="288.4" stroke="#8c8c8c"/>
<text transform="translate(610.72,298.70) scale(1.0,1)" class="sl" text-anchor="middle">100</text>
<line x1="611.5" y1="289.9" x2="611.5" y2="288.4" stroke="#8c8c8c"/>
<path d="M576.8 273.4h0" stroke="#8a1a6a" class="fb"/>
<path d="M575.9 273.4h0" stroke="#4a1ca6" class="fb"/>
<path d="M578.5 273.4h0" stroke="#8a1a6a" class="fb"/>
<path d="M577.6 273.4h0" stroke="#4a1ca6" class="fb"/>
<path d="M580.2 273.4h0" stroke="#8a1a6a" class="fb"/>
<path d="M579.3 273.4h0" stroke="#4a1ca6" class="fb"/>
<path d="M581.6 273.4h0" stroke="#6a1a8c" class="fb"/>
<path d="M582.6 273.4h0" stroke="#a81a4c" class="fb"/>
<path d="M584.9 273.4h0" stroke="#6a1a8c" class="fb"/>
<path d="M585.8 273.4h0" stroke="#a81a4c" class="fb"/>
<path d="M587.4 273.4h0" stroke="#6a1a8c" class="fb"/>
<path d="M588.3 273.4h0" stroke="#a81a4c" class="fb"/>
<path d="M589.8 273.4h0" stroke="#6a1a8c" class="fb"/>
<path d="M590.7 273.4h0" stroke="#a81a4c" class="fb"/>
<path d="M593.0 273.4h0" stroke="#6a1a8c" class="fb"/>
<path d="M593.9 273.4h0" stroke="#a81a4c" class="fb"/>
<path d="M595.5 273.4h0" stroke="#6a1a8c" class="fb"/>
<path d="M596.5 273.4h0" stroke="#a81a4c" class="fb"/>
<path d="M597.9 273.4h0" stroke="#6a1a8c" class="fb"/>
<path d="M598.8 273.4h0" stroke="#a81a4c" class="fb"/>
<path d="M601.1 273.4h0" stroke="#6a1a8c" class="fb"/>
<path d="M602.1 273.4h0" stroke="#a81a4c" class="fb"/>
<path d="M603.6 273.4h0" stroke="#6a1a8c" class="fb"/>
<path d="M604.6 273.4h0" stroke="#a81a4c" class="fb"/>
<path d="M606.0 273.4h0" stroke="#6a1a8c" class="fb"/>
<path d="M607.0 273.4h0" stroke="#a81a4c" class="fb"/>
<path d="M609.2 273.4h0" stroke="#6a1a8c" class="fb"/>
<path d="M610.2 273.4h0" stroke="#a81a4c" class="fb"/>
<path d="M611.8 273.4h0" stroke="#6a1a8c" class="fb"/>
<path d="M612.7 273.4h0" stroke="#a81a4c" class="fb"/>
<path d="M614.1 273.4h0" stroke="#6a1a8c" class="fb"/>
<path d="M615.1 273.4h0" stroke="#a81a4c" class="fb"/>
<text x="635.85 641.85 646.85 651.85 654.85 660.85 664.85 666.85 672.85" y="250.60" class="st">Factor 30</text>
<rect x="637.5" y="256.9" width="41.00" height="33.00" fill="none" stroke="#8c8c8c"/>
<text transform="translate(634.90,259.50) scale(1.0,1)" class="sl" text-anchor="end">1</text>
<text transform="translate(634.90,276.00) scale(1.0,1)" class="sl" text-anchor="end">0</text>
<text transform="translate(634.90,292.50) scale(1.0,1)" class="sl" text-anchor="end">-1</text>
<text transform="translate(640.28,298.70) scale(1.0,1)" class="sl" text-anchor="middle">0</text>
<line x1="641.5" y1="289.9" x2="641.5" y2="288.4" stroke="#8c8c8c"/>
<text transform="translate(656.68,298.70) scale(1.0,1)" class="sl" text-anchor="middle">50</text>
<line x1="657.5" y1="289.9" x2="657.5" y2="288.4" stroke="#8c8c8c"/>
<text transform="translate(673.08,298.70) scale(1.0,1)" class="sl" text-anchor="middle">100</text>
<line x1="674.5" y1="289.9" x2="674.5" y2="288.4" stroke="#8c8c8c"/>
<path d="M640.3 273.4h0" stroke="#8a1a6a" class="fb"/>
<path d="M639.3 273.4h0" stroke="#4a1ca6" class="fb"/>
<path d="M641.9 273.4h0" stroke="#8a1a6a" class="fb"/>
<path d="M641.0 273.4h0" stroke="#4a1ca6" class="fb"/>
<path d="M643.5 273.4h0" stroke="#8a1a6a" class="fb"/>
<path d="M642.6 273.4h0" stroke="#4a1ca6" class="fb"/>
<path d="M644.9 273.4h0" stroke="#6a1a8c" class="fb"/>
<path d="M645.8 273.4h0" stroke="#a81a4c" class="fb"/>
<path d="M648.0 273.4h0" stroke="#6a1a8c" class="fb"/>
<path d="M648.9 273.4h0" stroke="#a81a4c" class="fb"/>
<path d="M650.5 273.4h0" stroke="#6a1a8c" class="fb"/>
<path d="M651.4 273.4h0" stroke="#a81a4c" class="fb"/>
<path d="M652.8 273.4h0" stroke="#6a1a8c" class="fb"/>
<path d="M653.7 273.4h0" stroke="#a81a4c" class="fb"/>
<path d="M655.9 273.4h0" stroke="#6a1a8c" class="fb"/>
<path d="M656.8 273.4h0" stroke="#a81a4c" class="fb"/>
<path d="M658.4 273.4h0" stroke="#6a1a8c" class="fb"/>
<path d="M659.3 273.4h0" stroke="#a81a4c" class="fb"/>
<path d="M660.7 273.4h0" stroke="#6a1a8c" class="fb"/>
<path d="M661.6 273.4h0" stroke="#a81a4c" class="fb"/>
<path d="M663.8 273.4h0" stroke="#6a1a8c" class="fb"/>
<path d="M664.7 273.4h0" stroke="#a81a4c" class="fb"/>
<path d="M666.2 273.4h0" stroke="#6a1a8c" class="fb"/>
<path d="M667.2 273.4h0" stroke="#a81a4c" class="fb"/>
<path d="M668.5 273.4h0" stroke="#6a1a8c" class="fb"/>
<path d="M669.4 273.4h0" stroke="#a81a4c" class="fb"/>
<path d="M671.6 273.4h0" stroke="#6a1a8c" class="fb"/>
<path d="M672.6 273.4h0" stroke="#a81a4c" class="fb"/>
<path d="M674.1 273.4h0" stroke="#6a1a8c" class="fb"/>
<path d="M675.0 273.4h0" stroke="#a81a4c" class="fb"/>
<path d="M676.4 273.4h0" stroke="#6a1a8c" class="fb"/>
<path d="M677.3 273.4h0" stroke="#a81a4c" class="fb"/>
</svg></body></html>
